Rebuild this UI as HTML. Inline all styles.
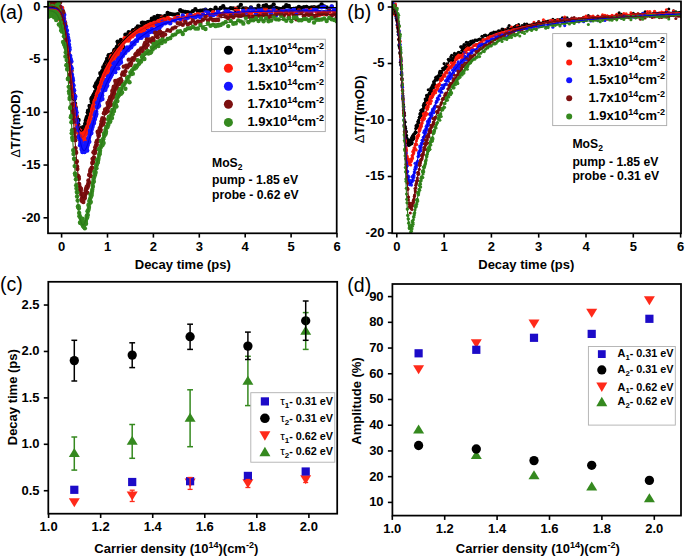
<!DOCTYPE html>
<html><head><meta charset="utf-8"><style>
html,body{margin:0;padding:0;background:#fff;}
svg{display:block;}
text{font-family:"Liberation Sans",sans-serif;fill:#000;}
</style></head><body>
<svg width="685" height="557" viewBox="0 0 685 557">
<rect width="685" height="557" fill="#fff"/>
<defs><clipPath id="ca"><rect x="48" y="1.5" width="288.7" height="231.8"/></clipPath><clipPath id="cb"><rect x="392.2" y="1.4" width="288.8" height="231.9"/></clipPath></defs>
<g clip-path="url(#ca)">
<g fill="#000000"><circle cx="47.83" cy="7.43" r="2.2"/><circle cx="48.13" cy="6.37" r="2.2"/><circle cx="48.43" cy="8.42" r="2.2"/><circle cx="48.73" cy="10.62" r="2.2"/><circle cx="49.02" cy="9.07" r="2.2"/><circle cx="49.32" cy="10.99" r="2.2"/><circle cx="49.62" cy="7.25" r="2.2"/><circle cx="49.92" cy="2.69" r="2.2"/><circle cx="50.22" cy="9.24" r="2.2"/><circle cx="50.52" cy="9.71" r="2.2"/><circle cx="50.81" cy="5.76" r="2.2"/><circle cx="51.11" cy="6.25" r="2.2"/><circle cx="51.41" cy="7.16" r="2.2"/><circle cx="51.71" cy="10.87" r="2.2"/><circle cx="52.01" cy="7.68" r="2.2"/><circle cx="52.31" cy="5.13" r="2.2"/><circle cx="52.6" cy="12.43" r="2.2"/><circle cx="52.9" cy="9.3" r="2.2"/><circle cx="53.2" cy="14.49" r="2.2"/><circle cx="53.5" cy="12.35" r="2.2"/><circle cx="53.8" cy="14.37" r="2.2"/><circle cx="54.1" cy="8.69" r="2.2"/><circle cx="54.39" cy="12.44" r="2.2"/><circle cx="54.69" cy="7.02" r="2.2"/><circle cx="54.99" cy="7.51" r="2.2"/><circle cx="55.29" cy="8.83" r="2.2"/><circle cx="55.59" cy="17.24" r="2.2"/><circle cx="55.89" cy="10.3" r="2.2"/><circle cx="56.18" cy="8.68" r="2.2"/><circle cx="56.48" cy="8.24" r="2.2"/><circle cx="56.78" cy="14.26" r="2.2"/><circle cx="57.08" cy="10.68" r="2.2"/><circle cx="57.38" cy="12.67" r="2.2"/><circle cx="57.68" cy="12.28" r="2.2"/><circle cx="57.97" cy="5.85" r="2.2"/><circle cx="58.27" cy="12.78" r="2.2"/><circle cx="58.57" cy="10.31" r="2.2"/><circle cx="58.87" cy="7.36" r="2.2"/><circle cx="59.17" cy="12.94" r="2.2"/><circle cx="59.47" cy="11.64" r="2.2"/><circle cx="59.76" cy="11.27" r="2.2"/><circle cx="60.06" cy="11.9" r="2.2"/><circle cx="60.36" cy="16.99" r="2.2"/><circle cx="60.66" cy="12.89" r="2.2"/><circle cx="60.96" cy="8.9" r="2.2"/><circle cx="61.26" cy="19.9" r="2.2"/><circle cx="61.55" cy="12.01" r="2.2"/><circle cx="61.85" cy="15.38" r="2.2"/><circle cx="62.15" cy="18.89" r="2.2"/><circle cx="62.45" cy="10.32" r="2.2"/><circle cx="62.75" cy="15.65" r="2.2"/><circle cx="63.05" cy="23.63" r="2.2"/><circle cx="63.34" cy="20.13" r="2.2"/><circle cx="63.64" cy="19.44" r="2.2"/><circle cx="63.94" cy="23.35" r="2.2"/><circle cx="64.24" cy="21.5" r="2.2"/><circle cx="64.54" cy="25.49" r="2.2"/><circle cx="64.84" cy="24.27" r="2.2"/><circle cx="65.13" cy="23" r="2.2"/><circle cx="65.43" cy="31.53" r="2.2"/><circle cx="65.73" cy="30.74" r="2.2"/><circle cx="66.03" cy="34.27" r="2.2"/><circle cx="66.33" cy="34.43" r="2.2"/><circle cx="66.63" cy="39.89" r="2.2"/><circle cx="66.92" cy="40.16" r="2.2"/><circle cx="67.22" cy="41.11" r="2.2"/><circle cx="67.52" cy="40.19" r="2.2"/><circle cx="67.82" cy="41.66" r="2.2"/><circle cx="68.12" cy="50.65" r="2.2"/><circle cx="68.42" cy="51.48" r="2.2"/><circle cx="68.71" cy="49.87" r="2.2"/><circle cx="69.01" cy="59.51" r="2.2"/><circle cx="69.31" cy="57.78" r="2.2"/><circle cx="69.61" cy="59.28" r="2.2"/><circle cx="69.91" cy="58.12" r="2.2"/><circle cx="70.21" cy="62.26" r="2.2"/><circle cx="70.5" cy="67.68" r="2.2"/><circle cx="70.8" cy="70.44" r="2.2"/><circle cx="71.1" cy="72.79" r="2.2"/><circle cx="71.4" cy="70.61" r="2.2"/><circle cx="71.7" cy="78.66" r="2.2"/><circle cx="72" cy="81.02" r="2.2"/><circle cx="72.29" cy="81.91" r="2.2"/><circle cx="72.59" cy="85.89" r="2.2"/><circle cx="72.89" cy="88.76" r="2.2"/><circle cx="73.19" cy="93.9" r="2.2"/><circle cx="73.49" cy="93.48" r="2.2"/><circle cx="73.79" cy="97.22" r="2.2"/><circle cx="74.08" cy="95.31" r="2.2"/><circle cx="74.38" cy="99.16" r="2.2"/><circle cx="74.68" cy="103.41" r="2.2"/><circle cx="74.98" cy="103.83" r="2.2"/><circle cx="75.28" cy="108.83" r="2.2"/><circle cx="75.58" cy="107.18" r="2.2"/><circle cx="75.87" cy="112.15" r="2.2"/><circle cx="76.17" cy="112.52" r="2.2"/><circle cx="76.47" cy="119.55" r="2.2"/><circle cx="76.77" cy="116.84" r="2.2"/><circle cx="77.07" cy="124.1" r="2.2"/><circle cx="77.37" cy="126.63" r="2.2"/><circle cx="77.67" cy="123.35" r="2.2"/><circle cx="77.96" cy="126.33" r="2.2"/><circle cx="78.26" cy="124.65" r="2.2"/><circle cx="78.56" cy="120.06" r="2.2"/><circle cx="78.86" cy="129.51" r="2.2"/><circle cx="79.16" cy="129.83" r="2.2"/><circle cx="79.46" cy="128.33" r="2.2"/><circle cx="79.75" cy="128.2" r="2.2"/><circle cx="80.05" cy="130.58" r="2.2"/><circle cx="80.35" cy="131.09" r="2.2"/><circle cx="80.65" cy="128.93" r="2.2"/><circle cx="80.95" cy="129.64" r="2.2"/><circle cx="81.25" cy="134.02" r="2.2"/><circle cx="81.54" cy="131.41" r="2.2"/><circle cx="81.84" cy="131.01" r="2.2"/><circle cx="82.14" cy="133.82" r="2.2"/><circle cx="82.44" cy="129.95" r="2.2"/><circle cx="82.74" cy="132.66" r="2.2"/><circle cx="83.04" cy="127.21" r="2.2"/><circle cx="83.33" cy="128.84" r="2.2"/><circle cx="83.63" cy="128.54" r="2.2"/><circle cx="83.93" cy="129.76" r="2.2"/><circle cx="84.23" cy="127.76" r="2.2"/><circle cx="84.53" cy="132.15" r="2.2"/><circle cx="84.83" cy="128.95" r="2.2"/><circle cx="85.12" cy="123.99" r="2.2"/><circle cx="85.42" cy="129.91" r="2.2"/><circle cx="85.72" cy="120.8" r="2.2"/><circle cx="86.02" cy="126.93" r="2.2"/><circle cx="86.32" cy="119.06" r="2.2"/><circle cx="86.62" cy="122.41" r="2.2"/><circle cx="86.91" cy="116.9" r="2.2"/><circle cx="87.21" cy="117.6" r="2.2"/><circle cx="87.51" cy="121.08" r="2.2"/><circle cx="87.81" cy="112.33" r="2.2"/><circle cx="88.11" cy="110.69" r="2.2"/><circle cx="88.41" cy="113.7" r="2.2"/><circle cx="88.7" cy="113.15" r="2.2"/><circle cx="89" cy="111.71" r="2.2"/><circle cx="89.3" cy="112.83" r="2.2"/><circle cx="89.6" cy="106.02" r="2.2"/><circle cx="89.9" cy="109.41" r="2.2"/><circle cx="90.2" cy="106.95" r="2.2"/><circle cx="90.49" cy="107.89" r="2.2"/><circle cx="90.79" cy="106.34" r="2.2"/><circle cx="91.09" cy="107.05" r="2.2"/><circle cx="91.39" cy="99.03" r="2.2"/><circle cx="91.69" cy="101.85" r="2.2"/><circle cx="91.99" cy="97.73" r="2.2"/><circle cx="92.28" cy="99.32" r="2.2"/><circle cx="92.58" cy="100.25" r="2.2"/><circle cx="92.88" cy="98.24" r="2.2"/><circle cx="93.18" cy="97.9" r="2.2"/><circle cx="93.48" cy="95.37" r="2.2"/><circle cx="93.78" cy="95.47" r="2.2"/><circle cx="94.07" cy="94.32" r="2.2"/><circle cx="94.37" cy="96.35" r="2.2"/><circle cx="94.67" cy="93.88" r="2.2"/><circle cx="94.97" cy="86.23" r="2.2"/><circle cx="95.27" cy="91.73" r="2.2"/><circle cx="95.57" cy="91.91" r="2.2"/><circle cx="95.86" cy="87.24" r="2.2"/><circle cx="96.16" cy="83.46" r="2.2"/><circle cx="96.46" cy="90.48" r="2.2"/><circle cx="96.76" cy="86.25" r="2.2"/><circle cx="97.06" cy="86.61" r="2.2"/><circle cx="97.36" cy="88.92" r="2.2"/><circle cx="97.65" cy="81.29" r="2.2"/><circle cx="97.95" cy="82.61" r="2.2"/><circle cx="98.25" cy="81.59" r="2.2"/><circle cx="98.55" cy="83.1" r="2.2"/><circle cx="98.85" cy="79.06" r="2.2"/><circle cx="99.15" cy="81.06" r="2.2"/><circle cx="99.44" cy="79.26" r="2.2"/><circle cx="99.74" cy="81.2" r="2.2"/><circle cx="100.04" cy="80.8" r="2.2"/><circle cx="100.34" cy="73.11" r="2.2"/><circle cx="100.64" cy="77.48" r="2.2"/><circle cx="100.94" cy="74.62" r="2.2"/><circle cx="101.23" cy="74.85" r="2.2"/><circle cx="101.53" cy="75.31" r="2.2"/><circle cx="101.83" cy="74.85" r="2.2"/><circle cx="102.13" cy="71.09" r="2.2"/><circle cx="102.43" cy="73.01" r="2.2"/><circle cx="102.73" cy="71.97" r="2.2"/><circle cx="103.02" cy="70.88" r="2.2"/><circle cx="103.32" cy="67.1" r="2.2"/><circle cx="103.62" cy="67.86" r="2.2"/><circle cx="103.92" cy="68.08" r="2.2"/><circle cx="104.22" cy="70.08" r="2.2"/><circle cx="104.52" cy="71.74" r="2.2"/><circle cx="104.81" cy="64.76" r="2.2"/><circle cx="105.11" cy="64.14" r="2.2"/><circle cx="105.41" cy="66.61" r="2.2"/><circle cx="105.71" cy="64.18" r="2.2"/><circle cx="106.01" cy="62.96" r="2.2"/><circle cx="106.31" cy="62.28" r="2.2"/><circle cx="106.6" cy="61.48" r="2.2"/><circle cx="106.9" cy="64.72" r="2.2"/><circle cx="107.2" cy="58.78" r="2.2"/><circle cx="107.5" cy="65.83" r="2.2"/><circle cx="107.8" cy="59.52" r="2.2"/><circle cx="108.1" cy="60.01" r="2.2"/><circle cx="108.4" cy="58.46" r="2.2"/><circle cx="108.69" cy="55.19" r="2.2"/><circle cx="108.99" cy="55.77" r="2.2"/><circle cx="109.29" cy="62.48" r="2.2"/><circle cx="109.59" cy="63.48" r="2.2"/><circle cx="109.89" cy="56.12" r="2.2"/><circle cx="110.19" cy="60.66" r="2.2"/><circle cx="110.48" cy="57.43" r="2.2"/><circle cx="110.78" cy="54.61" r="2.2"/><circle cx="111.08" cy="60.96" r="2.2"/><circle cx="111.38" cy="61.77" r="2.2"/><circle cx="111.68" cy="54.81" r="2.2"/><circle cx="111.98" cy="54.94" r="2.2"/><circle cx="112.27" cy="55.28" r="2.2"/><circle cx="112.57" cy="54.05" r="2.2"/><circle cx="112.87" cy="56.08" r="2.2"/><circle cx="113.17" cy="57.43" r="2.2"/><circle cx="113.47" cy="53.3" r="2.2"/><circle cx="113.77" cy="55.07" r="2.2"/><circle cx="114.06" cy="56.49" r="2.2"/><circle cx="114.36" cy="50.17" r="2.2"/><circle cx="114.66" cy="51.31" r="2.2"/><circle cx="114.96" cy="49.61" r="2.2"/><circle cx="115.26" cy="53.02" r="2.2"/><circle cx="115.56" cy="51.71" r="2.2"/><circle cx="115.85" cy="52.24" r="2.2"/><circle cx="116.15" cy="51.53" r="2.2"/><circle cx="116.45" cy="48.17" r="2.2"/><circle cx="116.75" cy="50.46" r="2.2"/><circle cx="117.05" cy="46.95" r="2.2"/><circle cx="117.35" cy="46.61" r="2.2"/><circle cx="117.64" cy="41.6" r="2.2"/><circle cx="117.94" cy="50.6" r="2.2"/><circle cx="118.24" cy="43.97" r="2.2"/><circle cx="118.54" cy="46.28" r="2.2"/><circle cx="118.84" cy="45.71" r="2.2"/><circle cx="119.14" cy="49.28" r="2.2"/><circle cx="119.43" cy="46.21" r="2.2"/><circle cx="119.73" cy="42.55" r="2.2"/><circle cx="120.03" cy="44.46" r="2.2"/><circle cx="120.33" cy="43.66" r="2.2"/><circle cx="120.63" cy="44.33" r="2.2"/><circle cx="120.93" cy="40.03" r="2.2"/><circle cx="121.22" cy="42.91" r="2.2"/><circle cx="121.27" cy="48.84" r="2.2"/><circle cx="122.1" cy="43.78" r="2.2"/><circle cx="122.92" cy="46.38" r="2.2"/><circle cx="123.75" cy="49.02" r="2.2"/><circle cx="124.57" cy="40.71" r="2.2"/><circle cx="125.4" cy="34.76" r="2.2"/><circle cx="126.23" cy="37.48" r="2.2"/><circle cx="127.05" cy="40.04" r="2.2"/><circle cx="127.88" cy="38.64" r="2.2"/><circle cx="128.71" cy="32.21" r="2.2"/><circle cx="129.53" cy="34.15" r="2.2"/><circle cx="130.36" cy="33.74" r="2.2"/><circle cx="131.18" cy="33.27" r="2.2"/><circle cx="132.01" cy="32.45" r="2.2"/><circle cx="132.84" cy="30.53" r="2.2"/><circle cx="133.66" cy="30.31" r="2.2"/><circle cx="134.49" cy="30.24" r="2.2"/><circle cx="135.32" cy="31.71" r="2.2"/><circle cx="136.14" cy="28.56" r="2.2"/><circle cx="136.97" cy="29.96" r="2.2"/><circle cx="137.79" cy="26.47" r="2.2"/><circle cx="138.62" cy="29.82" r="2.2"/><circle cx="139.45" cy="27.42" r="2.2"/><circle cx="140.27" cy="26.69" r="2.2"/><circle cx="141.1" cy="28.36" r="2.2"/><circle cx="141.93" cy="22.85" r="2.2"/><circle cx="142.75" cy="22.81" r="2.2"/><circle cx="143.58" cy="25.51" r="2.2"/><circle cx="144.4" cy="23.03" r="2.2"/><circle cx="145.23" cy="23.23" r="2.2"/><circle cx="146.06" cy="27.73" r="2.2"/><circle cx="146.88" cy="22.6" r="2.2"/><circle cx="147.71" cy="22.7" r="2.2"/><circle cx="148.53" cy="22.07" r="2.2"/><circle cx="149.36" cy="23.59" r="2.2"/><circle cx="150.19" cy="21.89" r="2.2"/><circle cx="151.01" cy="21.37" r="2.2"/><circle cx="151.84" cy="18.77" r="2.2"/><circle cx="152.67" cy="19.82" r="2.2"/><circle cx="153.49" cy="20.05" r="2.2"/><circle cx="154.32" cy="17.19" r="2.2"/><circle cx="155.14" cy="20.3" r="2.2"/><circle cx="155.97" cy="19.72" r="2.2"/><circle cx="156.8" cy="21.76" r="2.2"/><circle cx="157.62" cy="15.89" r="2.2"/><circle cx="158.45" cy="16.6" r="2.2"/><circle cx="159.28" cy="16.4" r="2.2"/><circle cx="160.1" cy="16.53" r="2.2"/><circle cx="160.93" cy="17.18" r="2.2"/><circle cx="161.75" cy="16.75" r="2.2"/><circle cx="162.58" cy="17.27" r="2.2"/><circle cx="162.58" cy="17.19" r="2.2"/><circle cx="165.1" cy="16.03" r="2.2"/><circle cx="167.63" cy="12.96" r="2.2"/><circle cx="170.15" cy="13.91" r="2.2"/><circle cx="172.68" cy="14.34" r="2.2"/><circle cx="175.2" cy="14.67" r="2.2"/><circle cx="177.73" cy="14.27" r="2.2"/><circle cx="180.25" cy="10.14" r="2.2"/><circle cx="182.78" cy="11.53" r="2.2"/><circle cx="185.3" cy="11.87" r="2.2"/><circle cx="187.83" cy="12.19" r="2.2"/><circle cx="190.35" cy="13.12" r="2.2"/><circle cx="192.87" cy="11.11" r="2.2"/><circle cx="195.4" cy="9.28" r="2.2"/><circle cx="197.92" cy="11.11" r="2.2"/><circle cx="200.45" cy="10.6" r="2.2"/><circle cx="202.97" cy="10.37" r="2.2"/><circle cx="205.5" cy="9.63" r="2.2"/><circle cx="208.02" cy="12.24" r="2.2"/><circle cx="210.55" cy="9.84" r="2.2"/><circle cx="213.07" cy="10.7" r="2.2"/><circle cx="215.59" cy="7.69" r="2.2"/><circle cx="218.12" cy="10.28" r="2.2"/><circle cx="220.64" cy="7.94" r="2.2"/><circle cx="223.17" cy="6.27" r="2.2"/><circle cx="225.69" cy="9.19" r="2.2"/><circle cx="228.22" cy="9.56" r="2.2"/><circle cx="230.74" cy="8.17" r="2.2"/><circle cx="233.27" cy="8.4" r="2.2"/><circle cx="235.79" cy="9.96" r="2.2"/><circle cx="238.32" cy="7.5" r="2.2"/><circle cx="240.84" cy="4.87" r="2.2"/><circle cx="243.36" cy="8.55" r="2.2"/><circle cx="245.89" cy="8.41" r="2.2"/><circle cx="248.41" cy="9.74" r="2.2"/><circle cx="250.94" cy="7.45" r="2.2"/><circle cx="253.46" cy="9.99" r="2.2"/><circle cx="255.99" cy="9.72" r="2.2"/><circle cx="258.51" cy="5.75" r="2.2"/><circle cx="261.04" cy="9.31" r="2.2"/><circle cx="263.56" cy="6.01" r="2.2"/><circle cx="266.08" cy="5.25" r="2.2"/><circle cx="268.61" cy="7.31" r="2.2"/><circle cx="271.13" cy="6.8" r="2.2"/><circle cx="273.66" cy="4.48" r="2.2"/><circle cx="276.18" cy="7.99" r="2.2"/><circle cx="278.71" cy="8.62" r="2.2"/><circle cx="281.23" cy="9.86" r="2.2"/><circle cx="283.76" cy="7.55" r="2.2"/><circle cx="286.28" cy="5.16" r="2.2"/><circle cx="288.81" cy="6.01" r="2.2"/><circle cx="291.33" cy="9.12" r="2.2"/><circle cx="293.85" cy="8.97" r="2.2"/><circle cx="296.38" cy="8.38" r="2.2"/><circle cx="298.9" cy="7.06" r="2.2"/><circle cx="301.43" cy="7.87" r="2.2"/><circle cx="303.95" cy="7.17" r="2.2"/><circle cx="306.48" cy="7.02" r="2.2"/><circle cx="309" cy="8" r="2.2"/><circle cx="311.53" cy="7.56" r="2.2"/><circle cx="314.05" cy="7.15" r="2.2"/><circle cx="316.57" cy="7.63" r="2.2"/><circle cx="319.1" cy="6.65" r="2.2"/><circle cx="321.62" cy="4.4" r="2.2"/><circle cx="324.15" cy="6.5" r="2.2"/><circle cx="326.67" cy="7.38" r="2.2"/><circle cx="329.2" cy="10.24" r="2.2"/><circle cx="331.72" cy="6.82" r="2.2"/><circle cx="334.25" cy="10.66" r="2.2"/><circle cx="336.77" cy="9.77" r="2.2"/></g>
<g fill="#ff1c0c"><circle cx="47.83" cy="5.54" r="2.2"/><circle cx="48.13" cy="6.07" r="2.2"/><circle cx="48.43" cy="9.13" r="2.2"/><circle cx="48.73" cy="14.69" r="2.2"/><circle cx="49.02" cy="9.92" r="2.2"/><circle cx="49.32" cy="11.02" r="2.2"/><circle cx="49.62" cy="6.34" r="2.2"/><circle cx="49.92" cy="0.56" r="2.2"/><circle cx="50.22" cy="7.85" r="2.2"/><circle cx="50.52" cy="11.41" r="2.2"/><circle cx="50.81" cy="12.81" r="2.2"/><circle cx="51.11" cy="8.85" r="2.2"/><circle cx="51.41" cy="9.29" r="2.2"/><circle cx="51.71" cy="12.78" r="2.2"/><circle cx="52.01" cy="8.28" r="2.2"/><circle cx="52.31" cy="12.82" r="2.2"/><circle cx="52.6" cy="4.77" r="2.2"/><circle cx="52.9" cy="4.97" r="2.2"/><circle cx="53.2" cy="4.92" r="2.2"/><circle cx="53.5" cy="10.52" r="2.2"/><circle cx="53.8" cy="7.03" r="2.2"/><circle cx="54.1" cy="9.38" r="2.2"/><circle cx="54.39" cy="10.35" r="2.2"/><circle cx="54.69" cy="10.23" r="2.2"/><circle cx="54.99" cy="13.72" r="2.2"/><circle cx="55.29" cy="14.31" r="2.2"/><circle cx="55.59" cy="6.42" r="2.2"/><circle cx="55.89" cy="10.03" r="2.2"/><circle cx="56.18" cy="8.68" r="2.2"/><circle cx="56.48" cy="6" r="2.2"/><circle cx="56.78" cy="15.89" r="2.2"/><circle cx="57.08" cy="12.66" r="2.2"/><circle cx="57.38" cy="9.41" r="2.2"/><circle cx="57.68" cy="8.83" r="2.2"/><circle cx="57.97" cy="11.78" r="2.2"/><circle cx="58.27" cy="7" r="2.2"/><circle cx="58.57" cy="10.18" r="2.2"/><circle cx="58.87" cy="15.55" r="2.2"/><circle cx="59.17" cy="14.86" r="2.2"/><circle cx="59.47" cy="9.02" r="2.2"/><circle cx="59.76" cy="10.62" r="2.2"/><circle cx="60.06" cy="19.46" r="2.2"/><circle cx="60.36" cy="8.35" r="2.2"/><circle cx="60.66" cy="11.52" r="2.2"/><circle cx="60.96" cy="9.41" r="2.2"/><circle cx="61.26" cy="16.16" r="2.2"/><circle cx="61.55" cy="16.49" r="2.2"/><circle cx="61.85" cy="20.15" r="2.2"/><circle cx="62.15" cy="7.84" r="2.2"/><circle cx="62.45" cy="18.33" r="2.2"/><circle cx="62.75" cy="12.91" r="2.2"/><circle cx="63.05" cy="21.82" r="2.2"/><circle cx="63.34" cy="19.93" r="2.2"/><circle cx="63.64" cy="27.55" r="2.2"/><circle cx="63.94" cy="24.09" r="2.2"/><circle cx="64.24" cy="20.44" r="2.2"/><circle cx="64.54" cy="29.7" r="2.2"/><circle cx="64.84" cy="22.78" r="2.2"/><circle cx="65.13" cy="26.84" r="2.2"/><circle cx="65.43" cy="32.43" r="2.2"/><circle cx="65.73" cy="32.55" r="2.2"/><circle cx="66.03" cy="34.11" r="2.2"/><circle cx="66.33" cy="34.75" r="2.2"/><circle cx="66.63" cy="37.93" r="2.2"/><circle cx="66.92" cy="40.65" r="2.2"/><circle cx="67.22" cy="41.22" r="2.2"/><circle cx="67.52" cy="45.28" r="2.2"/><circle cx="67.82" cy="48.16" r="2.2"/><circle cx="68.12" cy="46.98" r="2.2"/><circle cx="68.42" cy="46.72" r="2.2"/><circle cx="68.71" cy="55.7" r="2.2"/><circle cx="69.01" cy="53.93" r="2.2"/><circle cx="69.31" cy="58.21" r="2.2"/><circle cx="69.61" cy="61.65" r="2.2"/><circle cx="69.91" cy="59.22" r="2.2"/><circle cx="70.21" cy="65.62" r="2.2"/><circle cx="70.5" cy="62.76" r="2.2"/><circle cx="70.8" cy="71.72" r="2.2"/><circle cx="71.1" cy="71.26" r="2.2"/><circle cx="71.4" cy="75.7" r="2.2"/><circle cx="71.7" cy="79.92" r="2.2"/><circle cx="72" cy="79.02" r="2.2"/><circle cx="72.29" cy="83.83" r="2.2"/><circle cx="72.59" cy="84.52" r="2.2"/><circle cx="72.89" cy="89.07" r="2.2"/><circle cx="73.19" cy="94.65" r="2.2"/><circle cx="73.49" cy="94.66" r="2.2"/><circle cx="73.79" cy="96.9" r="2.2"/><circle cx="74.08" cy="97.05" r="2.2"/><circle cx="74.38" cy="104.74" r="2.2"/><circle cx="74.68" cy="104.88" r="2.2"/><circle cx="74.98" cy="111.95" r="2.2"/><circle cx="75.28" cy="107.83" r="2.2"/><circle cx="75.58" cy="114.89" r="2.2"/><circle cx="75.87" cy="119.11" r="2.2"/><circle cx="76.17" cy="116.47" r="2.2"/><circle cx="76.47" cy="115.33" r="2.2"/><circle cx="76.77" cy="124.5" r="2.2"/><circle cx="77.07" cy="125.17" r="2.2"/><circle cx="77.37" cy="125.98" r="2.2"/><circle cx="77.67" cy="128.7" r="2.2"/><circle cx="77.96" cy="126.1" r="2.2"/><circle cx="78.26" cy="130.8" r="2.2"/><circle cx="78.56" cy="131.89" r="2.2"/><circle cx="78.86" cy="129.53" r="2.2"/><circle cx="79.16" cy="134.31" r="2.2"/><circle cx="79.46" cy="132.05" r="2.2"/><circle cx="79.75" cy="136.78" r="2.2"/><circle cx="80.05" cy="138.22" r="2.2"/><circle cx="80.35" cy="140.6" r="2.2"/><circle cx="80.65" cy="131.02" r="2.2"/><circle cx="80.95" cy="137.45" r="2.2"/><circle cx="81.25" cy="136.26" r="2.2"/><circle cx="81.54" cy="137.27" r="2.2"/><circle cx="81.84" cy="136.9" r="2.2"/><circle cx="82.14" cy="137.27" r="2.2"/><circle cx="82.44" cy="132.14" r="2.2"/><circle cx="82.74" cy="140.11" r="2.2"/><circle cx="83.04" cy="141.34" r="2.2"/><circle cx="83.33" cy="139.57" r="2.2"/><circle cx="83.63" cy="140.11" r="2.2"/><circle cx="83.93" cy="133.98" r="2.2"/><circle cx="84.23" cy="133.3" r="2.2"/><circle cx="84.53" cy="137.64" r="2.2"/><circle cx="84.83" cy="138.21" r="2.2"/><circle cx="85.12" cy="134.71" r="2.2"/><circle cx="85.42" cy="129.21" r="2.2"/><circle cx="85.72" cy="140.01" r="2.2"/><circle cx="86.02" cy="130.03" r="2.2"/><circle cx="86.32" cy="133.59" r="2.2"/><circle cx="86.62" cy="126.92" r="2.2"/><circle cx="86.91" cy="131.82" r="2.2"/><circle cx="87.21" cy="128.72" r="2.2"/><circle cx="87.51" cy="131.11" r="2.2"/><circle cx="87.81" cy="128.68" r="2.2"/><circle cx="88.11" cy="121.2" r="2.2"/><circle cx="88.41" cy="121.74" r="2.2"/><circle cx="88.7" cy="124.06" r="2.2"/><circle cx="89" cy="124.3" r="2.2"/><circle cx="89.3" cy="126.06" r="2.2"/><circle cx="89.6" cy="120.89" r="2.2"/><circle cx="89.9" cy="118.83" r="2.2"/><circle cx="90.2" cy="117.9" r="2.2"/><circle cx="90.49" cy="116.86" r="2.2"/><circle cx="90.79" cy="118.61" r="2.2"/><circle cx="91.09" cy="114.64" r="2.2"/><circle cx="91.39" cy="113.5" r="2.2"/><circle cx="91.69" cy="108.79" r="2.2"/><circle cx="91.99" cy="106.14" r="2.2"/><circle cx="92.28" cy="110.58" r="2.2"/><circle cx="92.58" cy="111.26" r="2.2"/><circle cx="92.88" cy="108.29" r="2.2"/><circle cx="93.18" cy="108.74" r="2.2"/><circle cx="93.48" cy="108.08" r="2.2"/><circle cx="93.78" cy="105.18" r="2.2"/><circle cx="94.07" cy="106.87" r="2.2"/><circle cx="94.37" cy="101.34" r="2.2"/><circle cx="94.67" cy="102.29" r="2.2"/><circle cx="94.97" cy="100.34" r="2.2"/><circle cx="95.27" cy="100.55" r="2.2"/><circle cx="95.57" cy="101.07" r="2.2"/><circle cx="95.86" cy="100.72" r="2.2"/><circle cx="96.16" cy="97.82" r="2.2"/><circle cx="96.46" cy="97.74" r="2.2"/><circle cx="96.76" cy="94.67" r="2.2"/><circle cx="97.06" cy="94.41" r="2.2"/><circle cx="97.36" cy="97.23" r="2.2"/><circle cx="97.65" cy="92.41" r="2.2"/><circle cx="97.95" cy="95.39" r="2.2"/><circle cx="98.25" cy="92.52" r="2.2"/><circle cx="98.55" cy="90.77" r="2.2"/><circle cx="98.85" cy="94.8" r="2.2"/><circle cx="99.15" cy="88.02" r="2.2"/><circle cx="99.44" cy="87.02" r="2.2"/><circle cx="99.74" cy="87.04" r="2.2"/><circle cx="100.04" cy="86.95" r="2.2"/><circle cx="100.34" cy="86.01" r="2.2"/><circle cx="100.64" cy="86.86" r="2.2"/><circle cx="100.94" cy="84.14" r="2.2"/><circle cx="101.23" cy="84.14" r="2.2"/><circle cx="101.53" cy="81.6" r="2.2"/><circle cx="101.83" cy="84.39" r="2.2"/><circle cx="102.13" cy="79.69" r="2.2"/><circle cx="102.43" cy="79.21" r="2.2"/><circle cx="102.73" cy="79.25" r="2.2"/><circle cx="103.02" cy="79.35" r="2.2"/><circle cx="103.32" cy="75.91" r="2.2"/><circle cx="103.62" cy="81.28" r="2.2"/><circle cx="103.92" cy="74.75" r="2.2"/><circle cx="104.22" cy="74.66" r="2.2"/><circle cx="104.52" cy="73.87" r="2.2"/><circle cx="104.81" cy="72.92" r="2.2"/><circle cx="105.11" cy="75.1" r="2.2"/><circle cx="105.41" cy="73.36" r="2.2"/><circle cx="105.71" cy="70.25" r="2.2"/><circle cx="106.01" cy="70.17" r="2.2"/><circle cx="106.31" cy="70.15" r="2.2"/><circle cx="106.6" cy="74.24" r="2.2"/><circle cx="106.9" cy="67.99" r="2.2"/><circle cx="107.2" cy="65.64" r="2.2"/><circle cx="107.5" cy="65.47" r="2.2"/><circle cx="107.8" cy="67" r="2.2"/><circle cx="108.1" cy="71.32" r="2.2"/><circle cx="108.4" cy="63.88" r="2.2"/><circle cx="108.69" cy="66.29" r="2.2"/><circle cx="108.99" cy="72.26" r="2.2"/><circle cx="109.29" cy="63.71" r="2.2"/><circle cx="109.59" cy="68.28" r="2.2"/><circle cx="109.89" cy="67.19" r="2.2"/><circle cx="110.19" cy="64.83" r="2.2"/><circle cx="110.48" cy="59.06" r="2.2"/><circle cx="110.78" cy="63.04" r="2.2"/><circle cx="111.08" cy="60.75" r="2.2"/><circle cx="111.38" cy="56.18" r="2.2"/><circle cx="111.68" cy="56.08" r="2.2"/><circle cx="111.98" cy="60.23" r="2.2"/><circle cx="112.27" cy="60.11" r="2.2"/><circle cx="112.57" cy="62.4" r="2.2"/><circle cx="112.87" cy="60.36" r="2.2"/><circle cx="113.17" cy="56.8" r="2.2"/><circle cx="113.47" cy="56.4" r="2.2"/><circle cx="113.77" cy="56.71" r="2.2"/><circle cx="114.06" cy="53.81" r="2.2"/><circle cx="114.36" cy="58.2" r="2.2"/><circle cx="114.66" cy="55.77" r="2.2"/><circle cx="114.96" cy="53.16" r="2.2"/><circle cx="115.26" cy="53.11" r="2.2"/><circle cx="115.56" cy="51.34" r="2.2"/><circle cx="115.85" cy="52.75" r="2.2"/><circle cx="116.15" cy="54.25" r="2.2"/><circle cx="116.45" cy="51.98" r="2.2"/><circle cx="116.75" cy="55.3" r="2.2"/><circle cx="117.05" cy="56.63" r="2.2"/><circle cx="117.35" cy="50.12" r="2.2"/><circle cx="117.64" cy="51.46" r="2.2"/><circle cx="117.94" cy="50.06" r="2.2"/><circle cx="118.24" cy="55.16" r="2.2"/><circle cx="118.54" cy="51.11" r="2.2"/><circle cx="118.84" cy="51.36" r="2.2"/><circle cx="119.14" cy="51.7" r="2.2"/><circle cx="119.43" cy="55.13" r="2.2"/><circle cx="119.73" cy="49.49" r="2.2"/><circle cx="120.03" cy="45.73" r="2.2"/><circle cx="120.33" cy="46.78" r="2.2"/><circle cx="120.63" cy="49.11" r="2.2"/><circle cx="120.93" cy="47.14" r="2.2"/><circle cx="121.22" cy="44.66" r="2.2"/><circle cx="121.27" cy="54.26" r="2.2"/><circle cx="122.1" cy="46.06" r="2.2"/><circle cx="122.92" cy="43.29" r="2.2"/><circle cx="123.75" cy="42" r="2.2"/><circle cx="124.57" cy="38.32" r="2.2"/><circle cx="125.4" cy="39.02" r="2.2"/><circle cx="126.23" cy="40.44" r="2.2"/><circle cx="127.05" cy="39.67" r="2.2"/><circle cx="127.88" cy="37.56" r="2.2"/><circle cx="128.71" cy="40.44" r="2.2"/><circle cx="129.53" cy="38.33" r="2.2"/><circle cx="130.36" cy="35.02" r="2.2"/><circle cx="131.18" cy="33.6" r="2.2"/><circle cx="132.01" cy="36.41" r="2.2"/><circle cx="132.84" cy="35.57" r="2.2"/><circle cx="133.66" cy="34.53" r="2.2"/><circle cx="134.49" cy="32.04" r="2.2"/><circle cx="135.32" cy="33.7" r="2.2"/><circle cx="136.14" cy="30.65" r="2.2"/><circle cx="136.97" cy="34.1" r="2.2"/><circle cx="137.79" cy="32.27" r="2.2"/><circle cx="138.62" cy="31.76" r="2.2"/><circle cx="139.45" cy="29.62" r="2.2"/><circle cx="140.27" cy="28.7" r="2.2"/><circle cx="141.1" cy="32.42" r="2.2"/><circle cx="141.93" cy="30.97" r="2.2"/><circle cx="142.75" cy="28.45" r="2.2"/><circle cx="143.58" cy="29.64" r="2.2"/><circle cx="144.4" cy="30.63" r="2.2"/><circle cx="145.23" cy="25.99" r="2.2"/><circle cx="146.06" cy="26.48" r="2.2"/><circle cx="146.88" cy="26.08" r="2.2"/><circle cx="147.71" cy="27.29" r="2.2"/><circle cx="148.53" cy="24.44" r="2.2"/><circle cx="149.36" cy="26.16" r="2.2"/><circle cx="150.19" cy="23.61" r="2.2"/><circle cx="151.01" cy="26.57" r="2.2"/><circle cx="151.84" cy="26.14" r="2.2"/><circle cx="152.67" cy="24.07" r="2.2"/><circle cx="153.49" cy="25.24" r="2.2"/><circle cx="154.32" cy="22.67" r="2.2"/><circle cx="155.14" cy="23.05" r="2.2"/><circle cx="155.97" cy="24.7" r="2.2"/><circle cx="156.8" cy="22.78" r="2.2"/><circle cx="157.62" cy="23.2" r="2.2"/><circle cx="158.45" cy="20.85" r="2.2"/><circle cx="159.28" cy="23.13" r="2.2"/><circle cx="160.1" cy="22.56" r="2.2"/><circle cx="160.93" cy="19.6" r="2.2"/><circle cx="161.75" cy="17.66" r="2.2"/><circle cx="162.58" cy="17.82" r="2.2"/><circle cx="162.58" cy="21.01" r="2.2"/><circle cx="165.1" cy="20.07" r="2.2"/><circle cx="167.63" cy="17.28" r="2.2"/><circle cx="170.15" cy="19.43" r="2.2"/><circle cx="172.68" cy="20.3" r="2.2"/><circle cx="175.2" cy="18" r="2.2"/><circle cx="177.73" cy="17" r="2.2"/><circle cx="180.25" cy="18.68" r="2.2"/><circle cx="182.78" cy="19.64" r="2.2"/><circle cx="185.3" cy="18.93" r="2.2"/><circle cx="187.83" cy="15.14" r="2.2"/><circle cx="190.35" cy="17.17" r="2.2"/><circle cx="192.87" cy="15.87" r="2.2"/><circle cx="195.4" cy="15.02" r="2.2"/><circle cx="197.92" cy="14.1" r="2.2"/><circle cx="200.45" cy="15.45" r="2.2"/><circle cx="202.97" cy="13.86" r="2.2"/><circle cx="205.5" cy="15.95" r="2.2"/><circle cx="208.02" cy="14.9" r="2.2"/><circle cx="210.55" cy="15.82" r="2.2"/><circle cx="213.07" cy="12.11" r="2.2"/><circle cx="215.59" cy="13.87" r="2.2"/><circle cx="218.12" cy="14.9" r="2.2"/><circle cx="220.64" cy="14.14" r="2.2"/><circle cx="223.17" cy="13.8" r="2.2"/><circle cx="225.69" cy="12.18" r="2.2"/><circle cx="228.22" cy="15.85" r="2.2"/><circle cx="230.74" cy="14.84" r="2.2"/><circle cx="233.27" cy="13.66" r="2.2"/><circle cx="235.79" cy="8.79" r="2.2"/><circle cx="238.32" cy="11.31" r="2.2"/><circle cx="240.84" cy="12.99" r="2.2"/><circle cx="243.36" cy="11.57" r="2.2"/><circle cx="245.89" cy="9.29" r="2.2"/><circle cx="248.41" cy="13" r="2.2"/><circle cx="250.94" cy="13.17" r="2.2"/><circle cx="253.46" cy="10.52" r="2.2"/><circle cx="255.99" cy="11.65" r="2.2"/><circle cx="258.51" cy="11.32" r="2.2"/><circle cx="261.04" cy="13.21" r="2.2"/><circle cx="263.56" cy="9.17" r="2.2"/><circle cx="266.08" cy="9.49" r="2.2"/><circle cx="268.61" cy="11.34" r="2.2"/><circle cx="271.13" cy="11.11" r="2.2"/><circle cx="273.66" cy="15.55" r="2.2"/><circle cx="276.18" cy="11.13" r="2.2"/><circle cx="278.71" cy="12.47" r="2.2"/><circle cx="281.23" cy="11.42" r="2.2"/><circle cx="283.76" cy="10.99" r="2.2"/><circle cx="286.28" cy="12.65" r="2.2"/><circle cx="288.81" cy="14.85" r="2.2"/><circle cx="291.33" cy="11.44" r="2.2"/><circle cx="293.85" cy="13.25" r="2.2"/><circle cx="296.38" cy="12.56" r="2.2"/><circle cx="298.9" cy="13" r="2.2"/><circle cx="301.43" cy="12.55" r="2.2"/><circle cx="303.95" cy="15.78" r="2.2"/><circle cx="306.48" cy="9.96" r="2.2"/><circle cx="309" cy="11.53" r="2.2"/><circle cx="311.53" cy="10.11" r="2.2"/><circle cx="314.05" cy="8.67" r="2.2"/><circle cx="316.57" cy="11.88" r="2.2"/><circle cx="319.1" cy="14.88" r="2.2"/><circle cx="321.62" cy="13.38" r="2.2"/><circle cx="324.15" cy="13.88" r="2.2"/><circle cx="326.67" cy="12.72" r="2.2"/><circle cx="329.2" cy="11.75" r="2.2"/><circle cx="331.72" cy="15.17" r="2.2"/><circle cx="334.25" cy="11.31" r="2.2"/><circle cx="336.77" cy="14.35" r="2.2"/></g>
<g fill="#1414ff"><circle cx="47.83" cy="6.78" r="2.2"/><circle cx="48.13" cy="8.24" r="2.2"/><circle cx="48.43" cy="8.97" r="2.2"/><circle cx="48.73" cy="8.11" r="2.2"/><circle cx="49.02" cy="9.78" r="2.2"/><circle cx="49.32" cy="10.05" r="2.2"/><circle cx="49.62" cy="13.87" r="2.2"/><circle cx="49.92" cy="7.98" r="2.2"/><circle cx="50.22" cy="1.3" r="2.2"/><circle cx="50.52" cy="0.83" r="2.2"/><circle cx="50.81" cy="3.18" r="2.2"/><circle cx="51.11" cy="5.39" r="2.2"/><circle cx="51.41" cy="10.33" r="2.2"/><circle cx="51.71" cy="2.79" r="2.2"/><circle cx="52.01" cy="8.15" r="2.2"/><circle cx="52.31" cy="8.22" r="2.2"/><circle cx="52.6" cy="9.03" r="2.2"/><circle cx="52.9" cy="7.69" r="2.2"/><circle cx="53.2" cy="9.6" r="2.2"/><circle cx="53.5" cy="8.38" r="2.2"/><circle cx="53.8" cy="11.98" r="2.2"/><circle cx="54.1" cy="9.49" r="2.2"/><circle cx="54.39" cy="0.07" r="2.2"/><circle cx="54.69" cy="8.5" r="2.2"/><circle cx="54.99" cy="9.16" r="2.2"/><circle cx="55.29" cy="6.48" r="2.2"/><circle cx="55.59" cy="5.92" r="2.2"/><circle cx="55.89" cy="12.5" r="2.2"/><circle cx="56.18" cy="9.36" r="2.2"/><circle cx="56.48" cy="5.45" r="2.2"/><circle cx="56.78" cy="7.88" r="2.2"/><circle cx="57.08" cy="8.53" r="2.2"/><circle cx="57.38" cy="3.57" r="2.2"/><circle cx="57.68" cy="11.68" r="2.2"/><circle cx="57.97" cy="9.15" r="2.2"/><circle cx="58.27" cy="11.49" r="2.2"/><circle cx="58.57" cy="4.53" r="2.2"/><circle cx="58.87" cy="17.04" r="2.2"/><circle cx="59.17" cy="12.73" r="2.2"/><circle cx="59.47" cy="12.51" r="2.2"/><circle cx="59.76" cy="8.56" r="2.2"/><circle cx="60.06" cy="9.11" r="2.2"/><circle cx="60.36" cy="6.66" r="2.2"/><circle cx="60.66" cy="17.65" r="2.2"/><circle cx="60.96" cy="9.8" r="2.2"/><circle cx="61.26" cy="14" r="2.2"/><circle cx="61.55" cy="15.84" r="2.2"/><circle cx="61.85" cy="12.1" r="2.2"/><circle cx="62.15" cy="17.91" r="2.2"/><circle cx="62.45" cy="22.68" r="2.2"/><circle cx="62.75" cy="17.3" r="2.2"/><circle cx="63.05" cy="22.07" r="2.2"/><circle cx="63.34" cy="19.85" r="2.2"/><circle cx="63.64" cy="17.08" r="2.2"/><circle cx="63.94" cy="18.21" r="2.2"/><circle cx="64.24" cy="14.65" r="2.2"/><circle cx="64.54" cy="22.08" r="2.2"/><circle cx="64.84" cy="27.95" r="2.2"/><circle cx="65.13" cy="26.36" r="2.2"/><circle cx="65.43" cy="27.45" r="2.2"/><circle cx="65.73" cy="29.59" r="2.2"/><circle cx="66.03" cy="26.46" r="2.2"/><circle cx="66.33" cy="30.9" r="2.2"/><circle cx="66.63" cy="36.11" r="2.2"/><circle cx="66.92" cy="30.41" r="2.2"/><circle cx="67.22" cy="34.34" r="2.2"/><circle cx="67.52" cy="34.85" r="2.2"/><circle cx="67.82" cy="37.4" r="2.2"/><circle cx="68.12" cy="37.91" r="2.2"/><circle cx="68.42" cy="41.56" r="2.2"/><circle cx="68.71" cy="40.38" r="2.2"/><circle cx="69.01" cy="44.79" r="2.2"/><circle cx="69.31" cy="47.13" r="2.2"/><circle cx="69.61" cy="49.41" r="2.2"/><circle cx="69.91" cy="56.93" r="2.2"/><circle cx="70.21" cy="55.85" r="2.2"/><circle cx="70.5" cy="58.64" r="2.2"/><circle cx="70.8" cy="59.95" r="2.2"/><circle cx="71.1" cy="66.9" r="2.2"/><circle cx="71.4" cy="61.39" r="2.2"/><circle cx="71.7" cy="68.34" r="2.2"/><circle cx="72" cy="74.74" r="2.2"/><circle cx="72.29" cy="78.94" r="2.2"/><circle cx="72.59" cy="77.89" r="2.2"/><circle cx="72.89" cy="80.26" r="2.2"/><circle cx="73.19" cy="84.89" r="2.2"/><circle cx="73.49" cy="85.6" r="2.2"/><circle cx="73.79" cy="90.54" r="2.2"/><circle cx="74.08" cy="90.21" r="2.2"/><circle cx="74.38" cy="96.64" r="2.2"/><circle cx="74.68" cy="97.67" r="2.2"/><circle cx="74.98" cy="97.78" r="2.2"/><circle cx="75.28" cy="96.28" r="2.2"/><circle cx="75.58" cy="108.94" r="2.2"/><circle cx="75.87" cy="110.24" r="2.2"/><circle cx="76.17" cy="114.02" r="2.2"/><circle cx="76.47" cy="112.26" r="2.2"/><circle cx="76.77" cy="120.19" r="2.2"/><circle cx="77.07" cy="120.93" r="2.2"/><circle cx="77.37" cy="122.17" r="2.2"/><circle cx="77.67" cy="127.19" r="2.2"/><circle cx="77.96" cy="129.45" r="2.2"/><circle cx="78.26" cy="130.36" r="2.2"/><circle cx="78.56" cy="136.96" r="2.2"/><circle cx="78.86" cy="137.2" r="2.2"/><circle cx="79.16" cy="136.3" r="2.2"/><circle cx="79.46" cy="136.59" r="2.2"/><circle cx="79.75" cy="139.22" r="2.2"/><circle cx="80.05" cy="145.18" r="2.2"/><circle cx="80.35" cy="143.08" r="2.2"/><circle cx="80.65" cy="140.98" r="2.2"/><circle cx="80.95" cy="142.9" r="2.2"/><circle cx="81.25" cy="145.77" r="2.2"/><circle cx="81.54" cy="149" r="2.2"/><circle cx="81.84" cy="145.73" r="2.2"/><circle cx="82.14" cy="149.83" r="2.2"/><circle cx="82.44" cy="152.1" r="2.2"/><circle cx="82.74" cy="151.64" r="2.2"/><circle cx="83.04" cy="145.89" r="2.2"/><circle cx="83.33" cy="149.57" r="2.2"/><circle cx="83.63" cy="147.2" r="2.2"/><circle cx="83.93" cy="151.8" r="2.2"/><circle cx="84.23" cy="147.91" r="2.2"/><circle cx="84.53" cy="152.03" r="2.2"/><circle cx="84.83" cy="150.61" r="2.2"/><circle cx="85.12" cy="143.07" r="2.2"/><circle cx="85.42" cy="147.41" r="2.2"/><circle cx="85.72" cy="150.42" r="2.2"/><circle cx="86.02" cy="148.74" r="2.2"/><circle cx="86.32" cy="147" r="2.2"/><circle cx="86.62" cy="143.89" r="2.2"/><circle cx="86.91" cy="147.81" r="2.2"/><circle cx="87.21" cy="150.44" r="2.2"/><circle cx="87.51" cy="145.56" r="2.2"/><circle cx="87.81" cy="143.84" r="2.2"/><circle cx="88.11" cy="142.62" r="2.2"/><circle cx="88.41" cy="138.31" r="2.2"/><circle cx="88.7" cy="140.02" r="2.2"/><circle cx="89" cy="137.58" r="2.2"/><circle cx="89.3" cy="141.73" r="2.2"/><circle cx="89.6" cy="135.2" r="2.2"/><circle cx="89.9" cy="130.69" r="2.2"/><circle cx="90.2" cy="133.15" r="2.2"/><circle cx="90.49" cy="133.4" r="2.2"/><circle cx="90.79" cy="132.48" r="2.2"/><circle cx="91.09" cy="126.8" r="2.2"/><circle cx="91.39" cy="133.04" r="2.2"/><circle cx="91.69" cy="129.59" r="2.2"/><circle cx="91.99" cy="126.81" r="2.2"/><circle cx="92.28" cy="124.83" r="2.2"/><circle cx="92.58" cy="126.86" r="2.2"/><circle cx="92.88" cy="123.62" r="2.2"/><circle cx="93.18" cy="124.04" r="2.2"/><circle cx="93.48" cy="121.76" r="2.2"/><circle cx="93.78" cy="121.28" r="2.2"/><circle cx="94.07" cy="122.89" r="2.2"/><circle cx="94.37" cy="118.67" r="2.2"/><circle cx="94.67" cy="115.07" r="2.2"/><circle cx="94.97" cy="119.01" r="2.2"/><circle cx="95.27" cy="115.91" r="2.2"/><circle cx="95.57" cy="112.33" r="2.2"/><circle cx="95.86" cy="116.01" r="2.2"/><circle cx="96.16" cy="111.51" r="2.2"/><circle cx="96.46" cy="113.88" r="2.2"/><circle cx="96.76" cy="106.82" r="2.2"/><circle cx="97.06" cy="102.58" r="2.2"/><circle cx="97.36" cy="102.38" r="2.2"/><circle cx="97.65" cy="107.54" r="2.2"/><circle cx="97.95" cy="103.94" r="2.2"/><circle cx="98.25" cy="104.69" r="2.2"/><circle cx="98.55" cy="103.8" r="2.2"/><circle cx="98.85" cy="98.91" r="2.2"/><circle cx="99.15" cy="105.87" r="2.2"/><circle cx="99.44" cy="98.46" r="2.2"/><circle cx="99.74" cy="100.61" r="2.2"/><circle cx="100.04" cy="95.74" r="2.2"/><circle cx="100.34" cy="98.24" r="2.2"/><circle cx="100.64" cy="99.76" r="2.2"/><circle cx="100.94" cy="96.32" r="2.2"/><circle cx="101.23" cy="94.25" r="2.2"/><circle cx="101.53" cy="95.36" r="2.2"/><circle cx="101.83" cy="93.33" r="2.2"/><circle cx="102.13" cy="95.31" r="2.2"/><circle cx="102.43" cy="98.96" r="2.2"/><circle cx="102.73" cy="89.88" r="2.2"/><circle cx="103.02" cy="89.68" r="2.2"/><circle cx="103.32" cy="90.45" r="2.2"/><circle cx="103.62" cy="89.93" r="2.2"/><circle cx="103.92" cy="86.55" r="2.2"/><circle cx="104.22" cy="89.93" r="2.2"/><circle cx="104.52" cy="89.91" r="2.2"/><circle cx="104.81" cy="87.79" r="2.2"/><circle cx="105.11" cy="83.32" r="2.2"/><circle cx="105.41" cy="89.7" r="2.2"/><circle cx="105.71" cy="81.95" r="2.2"/><circle cx="106.01" cy="86.31" r="2.2"/><circle cx="106.31" cy="86.91" r="2.2"/><circle cx="106.6" cy="79.78" r="2.2"/><circle cx="106.9" cy="82.86" r="2.2"/><circle cx="107.2" cy="85.52" r="2.2"/><circle cx="107.5" cy="82.3" r="2.2"/><circle cx="107.8" cy="78.14" r="2.2"/><circle cx="108.1" cy="76.8" r="2.2"/><circle cx="108.4" cy="80.63" r="2.2"/><circle cx="108.69" cy="77.73" r="2.2"/><circle cx="108.99" cy="76.28" r="2.2"/><circle cx="109.29" cy="79.41" r="2.2"/><circle cx="109.59" cy="76.08" r="2.2"/><circle cx="109.89" cy="76.55" r="2.2"/><circle cx="110.19" cy="77.36" r="2.2"/><circle cx="110.48" cy="76.66" r="2.2"/><circle cx="110.78" cy="74.56" r="2.2"/><circle cx="111.08" cy="74.09" r="2.2"/><circle cx="111.38" cy="75.17" r="2.2"/><circle cx="111.68" cy="74.23" r="2.2"/><circle cx="111.98" cy="69.46" r="2.2"/><circle cx="112.27" cy="71.38" r="2.2"/><circle cx="112.57" cy="69" r="2.2"/><circle cx="112.87" cy="67.6" r="2.2"/><circle cx="113.17" cy="68.75" r="2.2"/><circle cx="113.47" cy="63.61" r="2.2"/><circle cx="113.77" cy="71.58" r="2.2"/><circle cx="114.06" cy="66.59" r="2.2"/><circle cx="114.36" cy="69.17" r="2.2"/><circle cx="114.66" cy="62.7" r="2.2"/><circle cx="114.96" cy="62.62" r="2.2"/><circle cx="115.26" cy="72.15" r="2.2"/><circle cx="115.56" cy="68.95" r="2.2"/><circle cx="115.85" cy="63.98" r="2.2"/><circle cx="116.15" cy="63.15" r="2.2"/><circle cx="116.45" cy="62.82" r="2.2"/><circle cx="116.75" cy="64.56" r="2.2"/><circle cx="117.05" cy="62.65" r="2.2"/><circle cx="117.35" cy="61.64" r="2.2"/><circle cx="117.64" cy="63.18" r="2.2"/><circle cx="117.94" cy="59.69" r="2.2"/><circle cx="118.24" cy="68.25" r="2.2"/><circle cx="118.54" cy="59.86" r="2.2"/><circle cx="118.84" cy="63.99" r="2.2"/><circle cx="119.14" cy="58.08" r="2.2"/><circle cx="119.43" cy="60.89" r="2.2"/><circle cx="119.73" cy="62.27" r="2.2"/><circle cx="120.03" cy="58.37" r="2.2"/><circle cx="120.33" cy="61.47" r="2.2"/><circle cx="120.63" cy="61.05" r="2.2"/><circle cx="120.93" cy="62.43" r="2.2"/><circle cx="121.22" cy="57.78" r="2.2"/><circle cx="121.27" cy="56.28" r="2.2"/><circle cx="122.1" cy="53.71" r="2.2"/><circle cx="122.92" cy="55.79" r="2.2"/><circle cx="123.75" cy="51.45" r="2.2"/><circle cx="124.57" cy="53.22" r="2.2"/><circle cx="125.4" cy="52.5" r="2.2"/><circle cx="126.23" cy="49.67" r="2.2"/><circle cx="127.05" cy="47.36" r="2.2"/><circle cx="127.88" cy="50.24" r="2.2"/><circle cx="128.71" cy="49.04" r="2.2"/><circle cx="129.53" cy="47.9" r="2.2"/><circle cx="130.36" cy="46.35" r="2.2"/><circle cx="131.18" cy="47.19" r="2.2"/><circle cx="132.01" cy="43.17" r="2.2"/><circle cx="132.84" cy="44.69" r="2.2"/><circle cx="133.66" cy="42.47" r="2.2"/><circle cx="134.49" cy="43.8" r="2.2"/><circle cx="135.32" cy="41.09" r="2.2"/><circle cx="136.14" cy="40.28" r="2.2"/><circle cx="136.97" cy="40.89" r="2.2"/><circle cx="137.79" cy="36.16" r="2.2"/><circle cx="138.62" cy="38.18" r="2.2"/><circle cx="139.45" cy="35.18" r="2.2"/><circle cx="140.27" cy="35.87" r="2.2"/><circle cx="141.1" cy="37.89" r="2.2"/><circle cx="141.93" cy="36.8" r="2.2"/><circle cx="142.75" cy="34.83" r="2.2"/><circle cx="143.58" cy="34.85" r="2.2"/><circle cx="144.4" cy="34.28" r="2.2"/><circle cx="145.23" cy="34.26" r="2.2"/><circle cx="146.06" cy="36.21" r="2.2"/><circle cx="146.88" cy="33.06" r="2.2"/><circle cx="147.71" cy="35.8" r="2.2"/><circle cx="148.53" cy="31.02" r="2.2"/><circle cx="149.36" cy="32.32" r="2.2"/><circle cx="150.19" cy="31.81" r="2.2"/><circle cx="151.01" cy="30.51" r="2.2"/><circle cx="151.84" cy="29.23" r="2.2"/><circle cx="152.67" cy="31.58" r="2.2"/><circle cx="153.49" cy="31.65" r="2.2"/><circle cx="154.32" cy="30.09" r="2.2"/><circle cx="155.14" cy="31.27" r="2.2"/><circle cx="155.97" cy="29.08" r="2.2"/><circle cx="156.8" cy="24.46" r="2.2"/><circle cx="157.62" cy="28.42" r="2.2"/><circle cx="158.45" cy="25.22" r="2.2"/><circle cx="159.28" cy="28.18" r="2.2"/><circle cx="160.1" cy="25.06" r="2.2"/><circle cx="160.93" cy="25.72" r="2.2"/><circle cx="161.75" cy="24.94" r="2.2"/><circle cx="162.58" cy="23.56" r="2.2"/><circle cx="162.58" cy="21.6" r="2.2"/><circle cx="165.1" cy="23.18" r="2.2"/><circle cx="167.63" cy="22.37" r="2.2"/><circle cx="170.15" cy="23.31" r="2.2"/><circle cx="172.68" cy="19.95" r="2.2"/><circle cx="175.2" cy="20.58" r="2.2"/><circle cx="177.73" cy="18.12" r="2.2"/><circle cx="180.25" cy="18.92" r="2.2"/><circle cx="182.78" cy="15.39" r="2.2"/><circle cx="185.3" cy="20.97" r="2.2"/><circle cx="187.83" cy="17.68" r="2.2"/><circle cx="190.35" cy="15.27" r="2.2"/><circle cx="192.87" cy="16.86" r="2.2"/><circle cx="195.4" cy="17.18" r="2.2"/><circle cx="197.92" cy="15.93" r="2.2"/><circle cx="200.45" cy="17.42" r="2.2"/><circle cx="202.97" cy="14.62" r="2.2"/><circle cx="205.5" cy="10.5" r="2.2"/><circle cx="208.02" cy="12.35" r="2.2"/><circle cx="210.55" cy="15.8" r="2.2"/><circle cx="213.07" cy="15.17" r="2.2"/><circle cx="215.59" cy="14.17" r="2.2"/><circle cx="218.12" cy="11.65" r="2.2"/><circle cx="220.64" cy="14.46" r="2.2"/><circle cx="223.17" cy="14.06" r="2.2"/><circle cx="225.69" cy="11.3" r="2.2"/><circle cx="228.22" cy="11.18" r="2.2"/><circle cx="230.74" cy="13.08" r="2.2"/><circle cx="233.27" cy="14.17" r="2.2"/><circle cx="235.79" cy="14.75" r="2.2"/><circle cx="238.32" cy="13.24" r="2.2"/><circle cx="240.84" cy="15.65" r="2.2"/><circle cx="243.36" cy="10.65" r="2.2"/><circle cx="245.89" cy="12.83" r="2.2"/><circle cx="248.41" cy="10.91" r="2.2"/><circle cx="250.94" cy="8.55" r="2.2"/><circle cx="253.46" cy="9.62" r="2.2"/><circle cx="255.99" cy="13.38" r="2.2"/><circle cx="258.51" cy="9.99" r="2.2"/><circle cx="261.04" cy="9.46" r="2.2"/><circle cx="263.56" cy="12.54" r="2.2"/><circle cx="266.08" cy="12.83" r="2.2"/><circle cx="268.61" cy="11.39" r="2.2"/><circle cx="271.13" cy="13.8" r="2.2"/><circle cx="273.66" cy="8.71" r="2.2"/><circle cx="276.18" cy="15.05" r="2.2"/><circle cx="278.71" cy="12.88" r="2.2"/><circle cx="281.23" cy="11.47" r="2.2"/><circle cx="283.76" cy="11.37" r="2.2"/><circle cx="286.28" cy="10.69" r="2.2"/><circle cx="288.81" cy="10.49" r="2.2"/><circle cx="291.33" cy="11.27" r="2.2"/><circle cx="293.85" cy="9.02" r="2.2"/><circle cx="296.38" cy="14.39" r="2.2"/><circle cx="298.9" cy="10.85" r="2.2"/><circle cx="301.43" cy="12.01" r="2.2"/><circle cx="303.95" cy="10.6" r="2.2"/><circle cx="306.48" cy="10.44" r="2.2"/><circle cx="309" cy="12.29" r="2.2"/><circle cx="311.53" cy="11.83" r="2.2"/><circle cx="314.05" cy="9.46" r="2.2"/><circle cx="316.57" cy="10.18" r="2.2"/><circle cx="319.1" cy="11.86" r="2.2"/><circle cx="321.62" cy="7.37" r="2.2"/><circle cx="324.15" cy="6.92" r="2.2"/><circle cx="326.67" cy="13.12" r="2.2"/><circle cx="329.2" cy="10.21" r="2.2"/><circle cx="331.72" cy="6.57" r="2.2"/><circle cx="334.25" cy="9.4" r="2.2"/><circle cx="336.77" cy="10.32" r="2.2"/></g>
<g fill="#7d1010"><circle cx="47.83" cy="6.94" r="2.2"/><circle cx="48.13" cy="8.13" r="2.2"/><circle cx="48.43" cy="6.96" r="2.2"/><circle cx="48.73" cy="8.17" r="2.2"/><circle cx="49.02" cy="3.56" r="2.2"/><circle cx="49.32" cy="7.64" r="2.2"/><circle cx="49.62" cy="7.8" r="2.2"/><circle cx="49.92" cy="10.52" r="2.2"/><circle cx="50.22" cy="6.42" r="2.2"/><circle cx="50.52" cy="9.44" r="2.2"/><circle cx="50.81" cy="6.91" r="2.2"/><circle cx="51.11" cy="2.56" r="2.2"/><circle cx="51.41" cy="4.99" r="2.2"/><circle cx="51.71" cy="4.52" r="2.2"/><circle cx="52.01" cy="5.07" r="2.2"/><circle cx="52.31" cy="6.15" r="2.2"/><circle cx="52.6" cy="6.85" r="2.2"/><circle cx="52.9" cy="7.52" r="2.2"/><circle cx="53.2" cy="3.76" r="2.2"/><circle cx="53.5" cy="10.37" r="2.2"/><circle cx="53.8" cy="1.78" r="2.2"/><circle cx="54.1" cy="6.49" r="2.2"/><circle cx="54.39" cy="9.35" r="2.2"/><circle cx="54.69" cy="8.5" r="2.2"/><circle cx="54.99" cy="9.25" r="2.2"/><circle cx="55.29" cy="6.36" r="2.2"/><circle cx="55.59" cy="9.59" r="2.2"/><circle cx="55.89" cy="3.08" r="2.2"/><circle cx="56.18" cy="10.07" r="2.2"/><circle cx="56.48" cy="15.54" r="2.2"/><circle cx="56.78" cy="10.21" r="2.2"/><circle cx="57.08" cy="14.95" r="2.2"/><circle cx="57.38" cy="8.13" r="2.2"/><circle cx="57.68" cy="4.45" r="2.2"/><circle cx="57.97" cy="6.17" r="2.2"/><circle cx="58.27" cy="13.53" r="2.2"/><circle cx="58.57" cy="11.79" r="2.2"/><circle cx="58.87" cy="3.08" r="2.2"/><circle cx="59.17" cy="8.67" r="2.2"/><circle cx="59.47" cy="10.21" r="2.2"/><circle cx="59.76" cy="6.92" r="2.2"/><circle cx="60.06" cy="2.45" r="2.2"/><circle cx="60.36" cy="7.12" r="2.2"/><circle cx="60.66" cy="11.85" r="2.2"/><circle cx="60.96" cy="11.74" r="2.2"/><circle cx="61.26" cy="11.52" r="2.2"/><circle cx="61.55" cy="16.68" r="2.2"/><circle cx="61.85" cy="19.12" r="2.2"/><circle cx="62.15" cy="16.06" r="2.2"/><circle cx="62.45" cy="20.61" r="2.2"/><circle cx="62.75" cy="18.51" r="2.2"/><circle cx="63.05" cy="19.09" r="2.2"/><circle cx="63.34" cy="12.31" r="2.2"/><circle cx="63.64" cy="25" r="2.2"/><circle cx="63.94" cy="23.8" r="2.2"/><circle cx="64.24" cy="25.44" r="2.2"/><circle cx="64.54" cy="24.88" r="2.2"/><circle cx="64.84" cy="24.4" r="2.2"/><circle cx="65.13" cy="31.67" r="2.2"/><circle cx="65.43" cy="34.08" r="2.2"/><circle cx="65.73" cy="38.33" r="2.2"/><circle cx="66.03" cy="38.48" r="2.2"/><circle cx="66.33" cy="36.7" r="2.2"/><circle cx="66.63" cy="40.38" r="2.2"/><circle cx="66.92" cy="45.74" r="2.2"/><circle cx="67.22" cy="46.54" r="2.2"/><circle cx="67.52" cy="48.11" r="2.2"/><circle cx="67.82" cy="49.6" r="2.2"/><circle cx="68.12" cy="55.51" r="2.2"/><circle cx="68.42" cy="57.58" r="2.2"/><circle cx="68.71" cy="64.99" r="2.2"/><circle cx="69.01" cy="66.38" r="2.2"/><circle cx="69.31" cy="62.11" r="2.2"/><circle cx="69.61" cy="75.96" r="2.2"/><circle cx="69.91" cy="74.4" r="2.2"/><circle cx="70.21" cy="76.46" r="2.2"/><circle cx="70.5" cy="81.76" r="2.2"/><circle cx="70.8" cy="86.7" r="2.2"/><circle cx="71.1" cy="88.47" r="2.2"/><circle cx="71.4" cy="92.19" r="2.2"/><circle cx="71.7" cy="96.33" r="2.2"/><circle cx="72" cy="105.23" r="2.2"/><circle cx="72.29" cy="104.49" r="2.2"/><circle cx="72.59" cy="110.47" r="2.2"/><circle cx="72.89" cy="113.67" r="2.2"/><circle cx="73.19" cy="115.6" r="2.2"/><circle cx="73.49" cy="118.52" r="2.2"/><circle cx="73.79" cy="121.85" r="2.2"/><circle cx="74.08" cy="129.69" r="2.2"/><circle cx="74.38" cy="129.77" r="2.2"/><circle cx="74.68" cy="133.02" r="2.2"/><circle cx="74.98" cy="137.01" r="2.2"/><circle cx="75.28" cy="140.13" r="2.2"/><circle cx="75.58" cy="148.08" r="2.2"/><circle cx="75.87" cy="151.82" r="2.2"/><circle cx="76.17" cy="152.64" r="2.2"/><circle cx="76.47" cy="162.11" r="2.2"/><circle cx="76.77" cy="161.14" r="2.2"/><circle cx="77.07" cy="166.4" r="2.2"/><circle cx="77.37" cy="169.06" r="2.2"/><circle cx="77.67" cy="175.8" r="2.2"/><circle cx="77.96" cy="176.3" r="2.2"/><circle cx="78.26" cy="176.6" r="2.2"/><circle cx="78.56" cy="176.65" r="2.2"/><circle cx="78.86" cy="178.75" r="2.2"/><circle cx="79.16" cy="183.91" r="2.2"/><circle cx="79.46" cy="186.28" r="2.2"/><circle cx="79.75" cy="189.94" r="2.2"/><circle cx="80.05" cy="188.3" r="2.2"/><circle cx="80.35" cy="191.65" r="2.2"/><circle cx="80.65" cy="190.72" r="2.2"/><circle cx="80.95" cy="188.82" r="2.2"/><circle cx="81.25" cy="194.8" r="2.2"/><circle cx="81.54" cy="199.73" r="2.2"/><circle cx="81.84" cy="198.75" r="2.2"/><circle cx="82.14" cy="200.99" r="2.2"/><circle cx="82.44" cy="200.73" r="2.2"/><circle cx="82.74" cy="194.17" r="2.2"/><circle cx="83.04" cy="197.29" r="2.2"/><circle cx="83.33" cy="202.11" r="2.2"/><circle cx="83.63" cy="196.04" r="2.2"/><circle cx="83.93" cy="194.14" r="2.2"/><circle cx="84.23" cy="198.22" r="2.2"/><circle cx="84.53" cy="198.62" r="2.2"/><circle cx="84.83" cy="197.11" r="2.2"/><circle cx="85.12" cy="194.72" r="2.2"/><circle cx="85.42" cy="192.96" r="2.2"/><circle cx="85.72" cy="190.6" r="2.2"/><circle cx="86.02" cy="189.57" r="2.2"/><circle cx="86.32" cy="188.61" r="2.2"/><circle cx="86.62" cy="187.03" r="2.2"/><circle cx="86.91" cy="187.78" r="2.2"/><circle cx="87.21" cy="192.58" r="2.2"/><circle cx="87.51" cy="187.46" r="2.2"/><circle cx="87.81" cy="184.92" r="2.2"/><circle cx="88.11" cy="185.47" r="2.2"/><circle cx="88.41" cy="180.52" r="2.2"/><circle cx="88.7" cy="182.58" r="2.2"/><circle cx="89" cy="182.68" r="2.2"/><circle cx="89.3" cy="174.71" r="2.2"/><circle cx="89.6" cy="175.36" r="2.2"/><circle cx="89.9" cy="175.08" r="2.2"/><circle cx="90.2" cy="171.63" r="2.2"/><circle cx="90.49" cy="169.74" r="2.2"/><circle cx="90.79" cy="170.2" r="2.2"/><circle cx="91.09" cy="176.36" r="2.2"/><circle cx="91.39" cy="169.95" r="2.2"/><circle cx="91.69" cy="167.84" r="2.2"/><circle cx="91.99" cy="167.79" r="2.2"/><circle cx="92.28" cy="163.05" r="2.2"/><circle cx="92.58" cy="158.85" r="2.2"/><circle cx="92.88" cy="161.98" r="2.2"/><circle cx="93.18" cy="162.31" r="2.2"/><circle cx="93.48" cy="152.19" r="2.2"/><circle cx="93.78" cy="157.57" r="2.2"/><circle cx="94.07" cy="158.31" r="2.2"/><circle cx="94.37" cy="152.89" r="2.2"/><circle cx="94.67" cy="151" r="2.2"/><circle cx="94.97" cy="152.75" r="2.2"/><circle cx="95.27" cy="147.31" r="2.2"/><circle cx="95.57" cy="149.5" r="2.2"/><circle cx="95.86" cy="149.4" r="2.2"/><circle cx="96.16" cy="145.1" r="2.2"/><circle cx="96.46" cy="142.21" r="2.2"/><circle cx="96.76" cy="144.82" r="2.2"/><circle cx="97.06" cy="140.95" r="2.2"/><circle cx="97.36" cy="140.9" r="2.2"/><circle cx="97.65" cy="131.7" r="2.2"/><circle cx="97.95" cy="140.22" r="2.2"/><circle cx="98.25" cy="133.32" r="2.2"/><circle cx="98.55" cy="136.12" r="2.2"/><circle cx="98.85" cy="135.19" r="2.2"/><circle cx="99.15" cy="131.75" r="2.2"/><circle cx="99.44" cy="130.18" r="2.2"/><circle cx="99.74" cy="128.08" r="2.2"/><circle cx="100.04" cy="129.58" r="2.2"/><circle cx="100.34" cy="131.07" r="2.2"/><circle cx="100.64" cy="129.86" r="2.2"/><circle cx="100.94" cy="125.95" r="2.2"/><circle cx="101.23" cy="124.74" r="2.2"/><circle cx="101.53" cy="121.49" r="2.2"/><circle cx="101.83" cy="123.19" r="2.2"/><circle cx="102.13" cy="120.44" r="2.2"/><circle cx="102.43" cy="118.22" r="2.2"/><circle cx="102.73" cy="120.97" r="2.2"/><circle cx="103.02" cy="124.55" r="2.2"/><circle cx="103.32" cy="122.77" r="2.2"/><circle cx="103.62" cy="122.54" r="2.2"/><circle cx="103.92" cy="113.31" r="2.2"/><circle cx="104.22" cy="119.09" r="2.2"/><circle cx="104.52" cy="112.49" r="2.2"/><circle cx="104.81" cy="113.37" r="2.2"/><circle cx="105.11" cy="109.39" r="2.2"/><circle cx="105.41" cy="110.47" r="2.2"/><circle cx="105.71" cy="112.63" r="2.2"/><circle cx="106.01" cy="112.04" r="2.2"/><circle cx="106.31" cy="110.41" r="2.2"/><circle cx="106.6" cy="109.32" r="2.2"/><circle cx="106.9" cy="110.42" r="2.2"/><circle cx="107.2" cy="108.23" r="2.2"/><circle cx="107.5" cy="102.91" r="2.2"/><circle cx="107.8" cy="111.18" r="2.2"/><circle cx="108.1" cy="105" r="2.2"/><circle cx="108.4" cy="107.4" r="2.2"/><circle cx="108.69" cy="103.61" r="2.2"/><circle cx="108.99" cy="101.04" r="2.2"/><circle cx="109.29" cy="102.73" r="2.2"/><circle cx="109.59" cy="99.68" r="2.2"/><circle cx="109.89" cy="105.4" r="2.2"/><circle cx="110.19" cy="97.25" r="2.2"/><circle cx="110.48" cy="101.19" r="2.2"/><circle cx="110.78" cy="97.09" r="2.2"/><circle cx="111.08" cy="97.56" r="2.2"/><circle cx="111.38" cy="104.43" r="2.2"/><circle cx="111.68" cy="98.69" r="2.2"/><circle cx="111.98" cy="95.29" r="2.2"/><circle cx="112.27" cy="90.93" r="2.2"/><circle cx="112.57" cy="93.7" r="2.2"/><circle cx="112.87" cy="93.08" r="2.2"/><circle cx="113.17" cy="96.98" r="2.2"/><circle cx="113.47" cy="88.49" r="2.2"/><circle cx="113.77" cy="86.78" r="2.2"/><circle cx="114.06" cy="90.99" r="2.2"/><circle cx="114.36" cy="91" r="2.2"/><circle cx="114.66" cy="94.18" r="2.2"/><circle cx="114.96" cy="86.66" r="2.2"/><circle cx="115.26" cy="81.02" r="2.2"/><circle cx="115.56" cy="85.83" r="2.2"/><circle cx="115.85" cy="83.69" r="2.2"/><circle cx="116.15" cy="85.04" r="2.2"/><circle cx="116.45" cy="88.6" r="2.2"/><circle cx="116.75" cy="81.61" r="2.2"/><circle cx="117.05" cy="88.04" r="2.2"/><circle cx="117.35" cy="84.63" r="2.2"/><circle cx="117.64" cy="82.68" r="2.2"/><circle cx="117.94" cy="80.42" r="2.2"/><circle cx="118.24" cy="81.11" r="2.2"/><circle cx="118.54" cy="80.6" r="2.2"/><circle cx="118.84" cy="83.16" r="2.2"/><circle cx="119.14" cy="84.03" r="2.2"/><circle cx="119.43" cy="79.75" r="2.2"/><circle cx="119.73" cy="81.3" r="2.2"/><circle cx="120.03" cy="82.37" r="2.2"/><circle cx="120.33" cy="81.7" r="2.2"/><circle cx="120.63" cy="79.02" r="2.2"/><circle cx="120.93" cy="82.2" r="2.2"/><circle cx="121.22" cy="80.27" r="2.2"/><circle cx="121.27" cy="80.98" r="2.2"/><circle cx="122.1" cy="74.51" r="2.2"/><circle cx="122.92" cy="72.44" r="2.2"/><circle cx="123.75" cy="66.64" r="2.2"/><circle cx="124.57" cy="74.88" r="2.2"/><circle cx="125.4" cy="71.29" r="2.2"/><circle cx="126.23" cy="65.61" r="2.2"/><circle cx="127.05" cy="67.42" r="2.2"/><circle cx="127.88" cy="66.47" r="2.2"/><circle cx="128.71" cy="59.66" r="2.2"/><circle cx="129.53" cy="64.08" r="2.2"/><circle cx="130.36" cy="65.16" r="2.2"/><circle cx="131.18" cy="63.02" r="2.2"/><circle cx="132.01" cy="59.19" r="2.2"/><circle cx="132.84" cy="58.16" r="2.2"/><circle cx="133.66" cy="59.86" r="2.2"/><circle cx="134.49" cy="58.19" r="2.2"/><circle cx="135.32" cy="54.68" r="2.2"/><circle cx="136.14" cy="53.63" r="2.2"/><circle cx="136.97" cy="54.68" r="2.2"/><circle cx="137.79" cy="51.66" r="2.2"/><circle cx="138.62" cy="50.82" r="2.2"/><circle cx="139.45" cy="53.81" r="2.2"/><circle cx="140.27" cy="50.51" r="2.2"/><circle cx="141.1" cy="48.47" r="2.2"/><circle cx="141.93" cy="49.26" r="2.2"/><circle cx="142.75" cy="51.03" r="2.2"/><circle cx="143.58" cy="47.18" r="2.2"/><circle cx="144.4" cy="44.7" r="2.2"/><circle cx="145.23" cy="42.59" r="2.2"/><circle cx="146.06" cy="48.06" r="2.2"/><circle cx="146.88" cy="39.43" r="2.2"/><circle cx="147.71" cy="44.88" r="2.2"/><circle cx="148.53" cy="40.77" r="2.2"/><circle cx="149.36" cy="39.64" r="2.2"/><circle cx="150.19" cy="39.41" r="2.2"/><circle cx="151.01" cy="40.14" r="2.2"/><circle cx="151.84" cy="41.68" r="2.2"/><circle cx="152.67" cy="38.13" r="2.2"/><circle cx="153.49" cy="39.74" r="2.2"/><circle cx="154.32" cy="42.14" r="2.2"/><circle cx="155.14" cy="32.76" r="2.2"/><circle cx="155.97" cy="35.7" r="2.2"/><circle cx="156.8" cy="33.34" r="2.2"/><circle cx="157.62" cy="37.31" r="2.2"/><circle cx="158.45" cy="32.88" r="2.2"/><circle cx="159.28" cy="32.18" r="2.2"/><circle cx="160.1" cy="31.75" r="2.2"/><circle cx="160.93" cy="33.86" r="2.2"/><circle cx="161.75" cy="35.34" r="2.2"/><circle cx="162.58" cy="33.2" r="2.2"/><circle cx="162.58" cy="36.53" r="2.2"/><circle cx="165.1" cy="34.38" r="2.2"/><circle cx="167.63" cy="30.2" r="2.2"/><circle cx="170.15" cy="30.85" r="2.2"/><circle cx="172.68" cy="28.42" r="2.2"/><circle cx="175.2" cy="27.35" r="2.2"/><circle cx="177.73" cy="23.08" r="2.2"/><circle cx="180.25" cy="23.27" r="2.2"/><circle cx="182.78" cy="24.69" r="2.2"/><circle cx="185.3" cy="21.89" r="2.2"/><circle cx="187.83" cy="24.48" r="2.2"/><circle cx="190.35" cy="23.12" r="2.2"/><circle cx="192.87" cy="20.48" r="2.2"/><circle cx="195.4" cy="23.48" r="2.2"/><circle cx="197.92" cy="21.39" r="2.2"/><circle cx="200.45" cy="22.63" r="2.2"/><circle cx="202.97" cy="19.82" r="2.2"/><circle cx="205.5" cy="16.92" r="2.2"/><circle cx="208.02" cy="20.47" r="2.2"/><circle cx="210.55" cy="18.51" r="2.2"/><circle cx="213.07" cy="20.03" r="2.2"/><circle cx="215.59" cy="20.15" r="2.2"/><circle cx="218.12" cy="20.01" r="2.2"/><circle cx="220.64" cy="15.32" r="2.2"/><circle cx="223.17" cy="13.58" r="2.2"/><circle cx="225.69" cy="16.45" r="2.2"/><circle cx="228.22" cy="18.21" r="2.2"/><circle cx="230.74" cy="15.68" r="2.2"/><circle cx="233.27" cy="17.21" r="2.2"/><circle cx="235.79" cy="15.17" r="2.2"/><circle cx="238.32" cy="15.86" r="2.2"/><circle cx="240.84" cy="15.73" r="2.2"/><circle cx="243.36" cy="15.06" r="2.2"/><circle cx="245.89" cy="16.89" r="2.2"/><circle cx="248.41" cy="16.48" r="2.2"/><circle cx="250.94" cy="18.54" r="2.2"/><circle cx="253.46" cy="16.34" r="2.2"/><circle cx="255.99" cy="17.86" r="2.2"/><circle cx="258.51" cy="15.67" r="2.2"/><circle cx="261.04" cy="16.93" r="2.2"/><circle cx="263.56" cy="15.11" r="2.2"/><circle cx="266.08" cy="14.46" r="2.2"/><circle cx="268.61" cy="17.48" r="2.2"/><circle cx="271.13" cy="16.42" r="2.2"/><circle cx="273.66" cy="16.58" r="2.2"/><circle cx="276.18" cy="13.75" r="2.2"/><circle cx="278.71" cy="12.12" r="2.2"/><circle cx="281.23" cy="13.48" r="2.2"/><circle cx="283.76" cy="15.42" r="2.2"/><circle cx="286.28" cy="12.39" r="2.2"/><circle cx="288.81" cy="17.26" r="2.2"/><circle cx="291.33" cy="12.27" r="2.2"/><circle cx="293.85" cy="15.78" r="2.2"/><circle cx="296.38" cy="19.25" r="2.2"/><circle cx="298.9" cy="10.28" r="2.2"/><circle cx="301.43" cy="12.03" r="2.2"/><circle cx="303.95" cy="16.3" r="2.2"/><circle cx="306.48" cy="14.3" r="2.2"/><circle cx="309" cy="14.91" r="2.2"/><circle cx="311.53" cy="14.37" r="2.2"/><circle cx="314.05" cy="16.96" r="2.2"/><circle cx="316.57" cy="15.63" r="2.2"/><circle cx="319.1" cy="13.72" r="2.2"/><circle cx="321.62" cy="14.11" r="2.2"/><circle cx="324.15" cy="12.49" r="2.2"/><circle cx="326.67" cy="14.32" r="2.2"/><circle cx="329.2" cy="10.58" r="2.2"/><circle cx="331.72" cy="15.61" r="2.2"/><circle cx="334.25" cy="14" r="2.2"/><circle cx="336.77" cy="17.57" r="2.2"/></g>
<g fill="#35891f"><circle cx="47.83" cy="17.16" r="2.2"/><circle cx="48.13" cy="3.72" r="2.2"/><circle cx="48.43" cy="15.58" r="2.2"/><circle cx="48.73" cy="7.92" r="2.2"/><circle cx="49.02" cy="11.03" r="2.2"/><circle cx="49.32" cy="16.17" r="2.2"/><circle cx="49.62" cy="12.57" r="2.2"/><circle cx="49.92" cy="13.47" r="2.2"/><circle cx="50.22" cy="13.37" r="2.2"/><circle cx="50.52" cy="6.94" r="2.2"/><circle cx="50.81" cy="7.51" r="2.2"/><circle cx="51.11" cy="13.97" r="2.2"/><circle cx="51.41" cy="15.75" r="2.2"/><circle cx="51.71" cy="9.62" r="2.2"/><circle cx="52.01" cy="11.68" r="2.2"/><circle cx="52.31" cy="5.88" r="2.2"/><circle cx="52.9" cy="7.04" r="2.2"/><circle cx="53.2" cy="11.73" r="2.2"/><circle cx="53.5" cy="12.58" r="2.2"/><circle cx="53.8" cy="16.28" r="2.2"/><circle cx="54.1" cy="16.7" r="2.2"/><circle cx="54.39" cy="17.38" r="2.2"/><circle cx="54.69" cy="14.4" r="2.2"/><circle cx="54.99" cy="14.78" r="2.2"/><circle cx="55.29" cy="8.91" r="2.2"/><circle cx="55.59" cy="15.12" r="2.2"/><circle cx="55.89" cy="14.36" r="2.2"/><circle cx="56.18" cy="19.99" r="2.2"/><circle cx="56.48" cy="5.41" r="2.2"/><circle cx="56.78" cy="11.71" r="2.2"/><circle cx="57.08" cy="5.43" r="2.2"/><circle cx="57.38" cy="11.05" r="2.2"/><circle cx="57.68" cy="7.92" r="2.2"/><circle cx="57.97" cy="17.5" r="2.2"/><circle cx="58.27" cy="13.04" r="2.2"/><circle cx="58.57" cy="3.29" r="2.2"/><circle cx="58.87" cy="24.44" r="2.2"/><circle cx="59.17" cy="12.65" r="2.2"/><circle cx="59.47" cy="10.71" r="2.2"/><circle cx="59.76" cy="18.2" r="2.2"/><circle cx="60.06" cy="17.31" r="2.2"/><circle cx="60.36" cy="15.6" r="2.2"/><circle cx="60.66" cy="26.8" r="2.2"/><circle cx="60.96" cy="22.24" r="2.2"/><circle cx="61.26" cy="30.23" r="2.2"/><circle cx="61.55" cy="30.47" r="2.2"/><circle cx="61.85" cy="31.5" r="2.2"/><circle cx="62.15" cy="30.4" r="2.2"/><circle cx="62.45" cy="30.38" r="2.2"/><circle cx="62.75" cy="30.36" r="2.2"/><circle cx="63.05" cy="42.04" r="2.2"/><circle cx="63.34" cy="25.71" r="2.2"/><circle cx="63.64" cy="32.01" r="2.2"/><circle cx="63.94" cy="36.3" r="2.2"/><circle cx="64.24" cy="44.19" r="2.2"/><circle cx="64.54" cy="44.96" r="2.2"/><circle cx="64.84" cy="43.87" r="2.2"/><circle cx="65.13" cy="47.01" r="2.2"/><circle cx="65.43" cy="56.45" r="2.2"/><circle cx="65.73" cy="52.28" r="2.2"/><circle cx="66.03" cy="48.9" r="2.2"/><circle cx="66.33" cy="65.13" r="2.2"/><circle cx="66.63" cy="60.09" r="2.2"/><circle cx="66.92" cy="64.9" r="2.2"/><circle cx="67.22" cy="69.41" r="2.2"/><circle cx="67.52" cy="68.49" r="2.2"/><circle cx="67.82" cy="79.03" r="2.2"/><circle cx="68.12" cy="78.69" r="2.2"/><circle cx="68.42" cy="78.57" r="2.2"/><circle cx="68.71" cy="86.87" r="2.2"/><circle cx="69.01" cy="91.2" r="2.2"/><circle cx="69.31" cy="93.48" r="2.2"/><circle cx="69.61" cy="98.91" r="2.2"/><circle cx="69.91" cy="97.22" r="2.2"/><circle cx="70.21" cy="108.11" r="2.2"/><circle cx="70.5" cy="107.13" r="2.2"/><circle cx="70.8" cy="117.19" r="2.2"/><circle cx="71.1" cy="115.89" r="2.2"/><circle cx="71.4" cy="122.22" r="2.2"/><circle cx="71.7" cy="133.37" r="2.2"/><circle cx="72" cy="130.28" r="2.2"/><circle cx="72.29" cy="137.46" r="2.2"/><circle cx="72.59" cy="139.88" r="2.2"/><circle cx="72.89" cy="138.46" r="2.2"/><circle cx="73.19" cy="150.1" r="2.2"/><circle cx="73.49" cy="154.05" r="2.2"/><circle cx="73.79" cy="151.07" r="2.2"/><circle cx="74.08" cy="158.84" r="2.2"/><circle cx="74.38" cy="158.78" r="2.2"/><circle cx="74.68" cy="166.12" r="2.2"/><circle cx="74.98" cy="173.35" r="2.2"/><circle cx="75.28" cy="174.79" r="2.2"/><circle cx="75.58" cy="174.79" r="2.2"/><circle cx="75.87" cy="179.15" r="2.2"/><circle cx="76.17" cy="185.25" r="2.2"/><circle cx="76.47" cy="188.45" r="2.2"/><circle cx="76.77" cy="192.11" r="2.2"/><circle cx="77.07" cy="196.51" r="2.2"/><circle cx="77.37" cy="192.38" r="2.2"/><circle cx="77.67" cy="200.62" r="2.2"/><circle cx="77.96" cy="206.5" r="2.2"/><circle cx="78.26" cy="207.18" r="2.2"/><circle cx="78.56" cy="206.16" r="2.2"/><circle cx="78.86" cy="208.62" r="2.2"/><circle cx="79.16" cy="212.88" r="2.2"/><circle cx="79.46" cy="216.28" r="2.2"/><circle cx="79.75" cy="216.07" r="2.2"/><circle cx="80.05" cy="222.45" r="2.2"/><circle cx="80.35" cy="222.83" r="2.2"/><circle cx="80.65" cy="218.17" r="2.2"/><circle cx="80.95" cy="222.88" r="2.2"/><circle cx="81.25" cy="221.43" r="2.2"/><circle cx="81.54" cy="219.84" r="2.2"/><circle cx="81.84" cy="222.09" r="2.2"/><circle cx="82.14" cy="224.36" r="2.2"/><circle cx="82.44" cy="218.77" r="2.2"/><circle cx="82.74" cy="223.09" r="2.2"/><circle cx="83.04" cy="226.04" r="2.2"/><circle cx="83.33" cy="222.91" r="2.2"/><circle cx="83.63" cy="223.63" r="2.2"/><circle cx="83.93" cy="226.88" r="2.2"/><circle cx="84.23" cy="223.82" r="2.2"/><circle cx="84.53" cy="223.94" r="2.2"/><circle cx="84.83" cy="228.36" r="2.2"/><circle cx="85.12" cy="222.54" r="2.2"/><circle cx="85.42" cy="222" r="2.2"/><circle cx="85.72" cy="221.49" r="2.2"/><circle cx="86.02" cy="223.86" r="2.2"/><circle cx="86.32" cy="219.12" r="2.2"/><circle cx="86.62" cy="217.05" r="2.2"/><circle cx="86.91" cy="215.4" r="2.2"/><circle cx="87.21" cy="217.58" r="2.2"/><circle cx="87.51" cy="211.22" r="2.2"/><circle cx="87.81" cy="215.02" r="2.2"/><circle cx="88.11" cy="210.76" r="2.2"/><circle cx="88.41" cy="204.95" r="2.2"/><circle cx="88.7" cy="209.05" r="2.2"/><circle cx="89" cy="206.97" r="2.2"/><circle cx="89.3" cy="200.91" r="2.2"/><circle cx="89.6" cy="203.41" r="2.2"/><circle cx="89.9" cy="201.53" r="2.2"/><circle cx="90.2" cy="198.43" r="2.2"/><circle cx="90.49" cy="194.44" r="2.2"/><circle cx="90.79" cy="201.95" r="2.2"/><circle cx="91.09" cy="196.41" r="2.2"/><circle cx="91.39" cy="195.25" r="2.2"/><circle cx="91.69" cy="193.81" r="2.2"/><circle cx="91.99" cy="191.51" r="2.2"/><circle cx="92.28" cy="189.81" r="2.2"/><circle cx="92.58" cy="184.96" r="2.2"/><circle cx="92.88" cy="186.68" r="2.2"/><circle cx="93.18" cy="182.22" r="2.2"/><circle cx="93.48" cy="179.83" r="2.2"/><circle cx="93.78" cy="181.42" r="2.2"/><circle cx="94.07" cy="177.43" r="2.2"/><circle cx="94.37" cy="171.64" r="2.2"/><circle cx="94.67" cy="173.8" r="2.2"/><circle cx="94.97" cy="174.98" r="2.2"/><circle cx="95.27" cy="171.87" r="2.2"/><circle cx="95.57" cy="172.78" r="2.2"/><circle cx="95.86" cy="167.99" r="2.2"/><circle cx="96.16" cy="164.89" r="2.2"/><circle cx="96.46" cy="168.18" r="2.2"/><circle cx="96.76" cy="165.07" r="2.2"/><circle cx="97.06" cy="159.98" r="2.2"/><circle cx="97.36" cy="163.13" r="2.2"/><circle cx="97.65" cy="159.87" r="2.2"/><circle cx="97.95" cy="161.94" r="2.2"/><circle cx="98.25" cy="160.06" r="2.2"/><circle cx="98.55" cy="157.92" r="2.2"/><circle cx="98.85" cy="149.24" r="2.2"/><circle cx="99.15" cy="155.09" r="2.2"/><circle cx="99.44" cy="154.18" r="2.2"/><circle cx="99.74" cy="153.06" r="2.2"/><circle cx="100.04" cy="150.77" r="2.2"/><circle cx="100.34" cy="147.33" r="2.2"/><circle cx="100.64" cy="147.45" r="2.2"/><circle cx="100.94" cy="141.17" r="2.2"/><circle cx="101.23" cy="145.09" r="2.2"/><circle cx="101.53" cy="140.58" r="2.2"/><circle cx="101.83" cy="142.69" r="2.2"/><circle cx="102.13" cy="140.69" r="2.2"/><circle cx="102.43" cy="145.23" r="2.2"/><circle cx="102.73" cy="140.55" r="2.2"/><circle cx="103.02" cy="139.33" r="2.2"/><circle cx="103.32" cy="138.77" r="2.2"/><circle cx="103.62" cy="142.97" r="2.2"/><circle cx="103.92" cy="133.63" r="2.2"/><circle cx="104.22" cy="136.1" r="2.2"/><circle cx="104.52" cy="135.24" r="2.2"/><circle cx="104.81" cy="133.75" r="2.2"/><circle cx="105.11" cy="132.7" r="2.2"/><circle cx="105.41" cy="129.99" r="2.2"/><circle cx="105.71" cy="133.64" r="2.2"/><circle cx="106.01" cy="131.76" r="2.2"/><circle cx="106.31" cy="127.47" r="2.2"/><circle cx="106.6" cy="126.94" r="2.2"/><circle cx="106.9" cy="127.45" r="2.2"/><circle cx="107.2" cy="127.08" r="2.2"/><circle cx="107.5" cy="126.9" r="2.2"/><circle cx="107.8" cy="123.87" r="2.2"/><circle cx="108.1" cy="119.59" r="2.2"/><circle cx="108.4" cy="124.85" r="2.2"/><circle cx="108.69" cy="116.9" r="2.2"/><circle cx="108.99" cy="117.91" r="2.2"/><circle cx="109.29" cy="120.61" r="2.2"/><circle cx="109.59" cy="116.37" r="2.2"/><circle cx="109.89" cy="121.7" r="2.2"/><circle cx="110.19" cy="121.6" r="2.2"/><circle cx="110.48" cy="119.57" r="2.2"/><circle cx="110.78" cy="116.34" r="2.2"/><circle cx="111.08" cy="115.3" r="2.2"/><circle cx="111.38" cy="115.02" r="2.2"/><circle cx="111.68" cy="112.53" r="2.2"/><circle cx="111.98" cy="117.88" r="2.2"/><circle cx="112.27" cy="109.88" r="2.2"/><circle cx="112.57" cy="114.36" r="2.2"/><circle cx="112.87" cy="111.51" r="2.2"/><circle cx="113.17" cy="110.07" r="2.2"/><circle cx="113.47" cy="111.35" r="2.2"/><circle cx="113.77" cy="111.19" r="2.2"/><circle cx="114.06" cy="109.45" r="2.2"/><circle cx="114.36" cy="105.99" r="2.2"/><circle cx="114.66" cy="103.6" r="2.2"/><circle cx="114.96" cy="102.95" r="2.2"/><circle cx="115.26" cy="106.51" r="2.2"/><circle cx="115.56" cy="105.24" r="2.2"/><circle cx="115.85" cy="104.89" r="2.2"/><circle cx="116.15" cy="100.43" r="2.2"/><circle cx="116.45" cy="106.56" r="2.2"/><circle cx="116.75" cy="96.89" r="2.2"/><circle cx="117.05" cy="100.93" r="2.2"/><circle cx="117.35" cy="101.08" r="2.2"/><circle cx="117.64" cy="97.33" r="2.2"/><circle cx="117.94" cy="94.76" r="2.2"/><circle cx="118.24" cy="95.99" r="2.2"/><circle cx="118.54" cy="93.39" r="2.2"/><circle cx="118.84" cy="95.26" r="2.2"/><circle cx="119.14" cy="91.62" r="2.2"/><circle cx="119.43" cy="90.94" r="2.2"/><circle cx="119.73" cy="93.99" r="2.2"/><circle cx="120.03" cy="89.15" r="2.2"/><circle cx="120.33" cy="92.02" r="2.2"/><circle cx="120.63" cy="91.62" r="2.2"/><circle cx="120.93" cy="93.77" r="2.2"/><circle cx="121.22" cy="91.43" r="2.2"/><circle cx="121.27" cy="88.41" r="2.2"/><circle cx="122.1" cy="92.5" r="2.2"/><circle cx="122.92" cy="85.5" r="2.2"/><circle cx="123.75" cy="84.75" r="2.2"/><circle cx="124.57" cy="83.41" r="2.2"/><circle cx="125.4" cy="88.72" r="2.2"/><circle cx="126.23" cy="81.48" r="2.2"/><circle cx="127.05" cy="77.99" r="2.2"/><circle cx="127.88" cy="80.46" r="2.2"/><circle cx="128.71" cy="76.75" r="2.2"/><circle cx="129.53" cy="82.18" r="2.2"/><circle cx="130.36" cy="72.51" r="2.2"/><circle cx="131.18" cy="74.16" r="2.2"/><circle cx="132.01" cy="70.39" r="2.2"/><circle cx="132.84" cy="73.64" r="2.2"/><circle cx="133.66" cy="68.27" r="2.2"/><circle cx="134.49" cy="68.64" r="2.2"/><circle cx="135.32" cy="65.78" r="2.2"/><circle cx="136.14" cy="67.52" r="2.2"/><circle cx="136.97" cy="65.93" r="2.2"/><circle cx="137.79" cy="60.17" r="2.2"/><circle cx="138.62" cy="64.19" r="2.2"/><circle cx="139.45" cy="62.97" r="2.2"/><circle cx="140.27" cy="61.27" r="2.2"/><circle cx="141.1" cy="61.54" r="2.2"/><circle cx="141.93" cy="56.95" r="2.2"/><circle cx="142.75" cy="55.15" r="2.2"/><circle cx="143.58" cy="58.24" r="2.2"/><circle cx="144.4" cy="59.05" r="2.2"/><circle cx="145.23" cy="53.42" r="2.2"/><circle cx="146.06" cy="52.68" r="2.2"/><circle cx="146.88" cy="52.33" r="2.2"/><circle cx="147.71" cy="50.98" r="2.2"/><circle cx="148.53" cy="53.53" r="2.2"/><circle cx="149.36" cy="51.61" r="2.2"/><circle cx="150.19" cy="52.86" r="2.2"/><circle cx="151.01" cy="52.19" r="2.2"/><circle cx="151.84" cy="47.53" r="2.2"/><circle cx="152.67" cy="49.55" r="2.2"/><circle cx="153.49" cy="44.01" r="2.2"/><circle cx="154.32" cy="46.97" r="2.2"/><circle cx="155.14" cy="47.5" r="2.2"/><circle cx="155.97" cy="44.5" r="2.2"/><circle cx="156.8" cy="42.22" r="2.2"/><circle cx="157.62" cy="43.78" r="2.2"/><circle cx="158.45" cy="45.99" r="2.2"/><circle cx="159.28" cy="42.8" r="2.2"/><circle cx="160.1" cy="40.58" r="2.2"/><circle cx="160.93" cy="43.1" r="2.2"/><circle cx="161.75" cy="43.02" r="2.2"/><circle cx="162.58" cy="39.55" r="2.2"/><circle cx="162.58" cy="40.99" r="2.2"/><circle cx="165.1" cy="41.5" r="2.2"/><circle cx="167.63" cy="38.88" r="2.2"/><circle cx="170.15" cy="38.16" r="2.2"/><circle cx="172.68" cy="35.19" r="2.2"/><circle cx="175.2" cy="34.33" r="2.2"/><circle cx="177.73" cy="31.54" r="2.2"/><circle cx="180.25" cy="31.26" r="2.2"/><circle cx="182.78" cy="34.07" r="2.2"/><circle cx="185.3" cy="29.96" r="2.2"/><circle cx="187.83" cy="28.34" r="2.2"/><circle cx="190.35" cy="28.31" r="2.2"/><circle cx="192.87" cy="26.66" r="2.2"/><circle cx="195.4" cy="28.6" r="2.2"/><circle cx="197.92" cy="28.65" r="2.2"/><circle cx="200.45" cy="24.99" r="2.2"/><circle cx="202.97" cy="27.74" r="2.2"/><circle cx="205.5" cy="29.05" r="2.2"/><circle cx="208.02" cy="23.35" r="2.2"/><circle cx="210.55" cy="25.8" r="2.2"/><circle cx="213.07" cy="24.71" r="2.2"/><circle cx="215.59" cy="26.14" r="2.2"/><circle cx="218.12" cy="25.67" r="2.2"/><circle cx="220.64" cy="25.07" r="2.2"/><circle cx="223.17" cy="23.46" r="2.2"/><circle cx="225.69" cy="21.98" r="2.2"/><circle cx="228.22" cy="26.11" r="2.2"/><circle cx="230.74" cy="20.85" r="2.2"/><circle cx="233.27" cy="23.81" r="2.2"/><circle cx="235.79" cy="23.41" r="2.2"/><circle cx="238.32" cy="20.34" r="2.2"/><circle cx="240.84" cy="21.4" r="2.2"/><circle cx="243.36" cy="23.63" r="2.2"/><circle cx="245.89" cy="17.91" r="2.2"/><circle cx="248.41" cy="22.21" r="2.2"/><circle cx="250.94" cy="20.25" r="2.2"/><circle cx="253.46" cy="20.2" r="2.2"/><circle cx="255.99" cy="18.09" r="2.2"/><circle cx="258.51" cy="21.05" r="2.2"/><circle cx="261.04" cy="18.54" r="2.2"/><circle cx="263.56" cy="21.32" r="2.2"/><circle cx="266.08" cy="18.17" r="2.2"/><circle cx="268.61" cy="21.19" r="2.2"/><circle cx="271.13" cy="20.45" r="2.2"/><circle cx="273.66" cy="16.66" r="2.2"/><circle cx="276.18" cy="19.19" r="2.2"/><circle cx="278.71" cy="19.47" r="2.2"/><circle cx="281.23" cy="15.9" r="2.2"/><circle cx="283.76" cy="18.94" r="2.2"/><circle cx="286.28" cy="20.83" r="2.2"/><circle cx="288.81" cy="18.23" r="2.2"/><circle cx="291.33" cy="21.34" r="2.2"/><circle cx="293.85" cy="17.5" r="2.2"/><circle cx="296.38" cy="17.33" r="2.2"/><circle cx="298.9" cy="20.22" r="2.2"/><circle cx="301.43" cy="20.28" r="2.2"/><circle cx="303.95" cy="18.93" r="2.2"/><circle cx="306.48" cy="19.16" r="2.2"/><circle cx="309" cy="20.77" r="2.2"/><circle cx="311.53" cy="18.2" r="2.2"/><circle cx="314.05" cy="22.47" r="2.2"/><circle cx="316.57" cy="19.8" r="2.2"/><circle cx="319.1" cy="19.74" r="2.2"/><circle cx="321.62" cy="19.5" r="2.2"/><circle cx="324.15" cy="18.53" r="2.2"/><circle cx="326.67" cy="21.04" r="2.2"/><circle cx="329.2" cy="18.03" r="2.2"/><circle cx="331.72" cy="19.29" r="2.2"/><circle cx="334.25" cy="20.05" r="2.2"/><circle cx="336.77" cy="21.21" r="2.2"/></g>
<polyline points="47.83,7.44 48.41,7.44 48.99,7.45 49.57,7.46 50.15,7.48 50.73,7.5 51.31,7.53 51.89,7.57 52.47,7.62 53.05,7.69 53.62,7.77 54.2,7.88 54.78,8.01 55.36,8.19 55.94,8.4 56.52,8.67 57.1,9 57.68,9.4 58.26,9.89 58.84,10.48 59.42,11.18 60,12.02 60.58,13.01 61.16,14.17 61.74,15.52 62.32,17.07 62.9,18.85 63.48,20.88 64.06,23.15 64.64,25.7 65.21,28.54 65.79,31.66 66.37,35.06 66.95,38.76 67.53,42.74 68.11,46.98 68.69,51.47 69.27,56.18 69.85,61.07 70.43,66.12 71.01,71.28 71.59,76.51 72.17,81.74 72.75,86.95 73.33,92.06 73.91,97.02 74.49,101.79 75.07,106.32 75.65,110.55 76.23,114.46 76.8,117.99 77.38,121.14 77.96,123.86 78.54,126.16 79.12,128.02 79.7,129.44 80.28,130.44 80.86,131.02 81.44,131.2 82.02,131.01 82.6,130.48 83.18,129.64 83.76,128.52 84.34,127.16 84.92,125.58 85.5,123.84 86.08,121.95 86.66,119.95 87.24,117.87 87.82,115.73 88.39,113.56 88.97,111.38 89.55,109.2 90.13,107.04 90.71,104.91 91.29,102.82 91.87,100.78 92.45,98.79 93.03,96.85 93.61,94.96 94.19,93.14 94.77,91.36 95.35,89.65 95.93,87.98 96.51,86.37 97.09,84.8 97.67,83.28 98.25,81.8 98.83,80.36 99.41,78.96 99.98,77.59 100.56,76.26 101.14,74.96 101.72,73.69 102.3,72.45 102.88,71.23 103.46,70.05 104.04,68.88 104.62,67.74 105.2,66.63 105.78,65.53 106.36,64.46 106.94,63.41 107.52,62.38 108.1,61.36 108.68,60.37 109.26,59.4 109.84,58.44 110.42,57.5 111,56.58 111.57,55.68 112.15,54.79 112.73,53.92 113.31,53.06 113.89,52.22 114.47,51.4 115.05,50.59 115.63,49.8 116.21,49.02 116.79,48.26 117.37,47.51 117.95,46.77 118.53,46.05 119.11,45.34 119.69,44.64 120.27,43.96 120.85,43.28 121.43,42.63 122.01,41.98 122.59,41.34 123.16,40.72 123.74,40.11 124.32,39.51 124.9,38.92 125.48,38.34 126.06,37.77 126.64,37.21 127.22,36.67 127.8,36.13 128.38,35.6 128.96,35.08 129.54,34.58 130.12,34.08 130.7,33.59 131.28,33.11 131.86,32.63 132.44,32.17 133.02,31.72 133.6,31.27 134.18,30.83 134.75,30.4 135.33,29.98 135.91,29.56 136.49,29.16 137.07,28.76 137.65,28.37 138.23,27.98 138.81,27.6 139.39,27.23 139.97,26.87 140.55,26.51 141.13,26.16 141.71,25.82 142.29,25.48 142.87,25.15 143.45,24.82 144.03,24.5 144.61,24.19 145.19,23.88 145.77,23.58 146.34,23.28 146.92,22.99 147.5,22.7 148.08,22.42 148.66,22.14 149.24,21.87 149.82,21.61 150.4,21.35 150.98,21.09 151.56,20.84 152.14,20.59 152.72,20.35 153.3,20.11 153.88,19.88 154.46,19.65 155.04,19.43 155.62,19.21 156.2,18.99 156.78,18.78 157.36,18.57 157.93,18.36 158.51,18.16 159.09,17.97 159.67,17.77 160.25,17.58 160.83,17.39 161.41,17.21 161.99,17.03 162.57,16.85 163.15,16.68 163.73,16.51 164.31,16.34 164.89,16.18 165.47,16.02 166.05,15.86 166.63,15.71 167.21,15.55 167.79,15.4 168.37,15.26 168.95,15.11 169.52,14.97 170.1,14.83 170.68,14.7 171.26,14.56 171.84,14.43 172.42,14.3 173,14.18 173.58,14.05 174.16,13.93 174.74,13.81 175.32,13.69 175.9,13.58 176.48,13.47 177.06,13.35 177.64,13.24 178.22,13.14 178.8,13.03 179.38,12.93 179.96,12.83 180.54,12.73 181.11,12.63 181.69,12.54 182.27,12.44 182.85,12.35 183.43,12.26 184.01,12.17 184.59,12.08 185.17,12 185.75,11.91 186.33,11.83 186.91,11.75 187.49,11.67 188.07,11.59 188.65,11.51 189.23,11.44 189.81,11.37 190.39,11.29 190.97,11.22 191.55,11.15 192.13,11.08 192.7,11.02 193.28,10.95 193.86,10.89 194.44,10.82 195.02,10.76 195.6,10.7 196.18,10.64 196.76,10.58 197.34,10.52 197.92,10.46 198.5,10.41 199.08,10.35 199.66,10.3 200.24,10.25 200.82,10.19 201.4,10.14 201.98,10.09 202.56,10.04 203.14,10 203.72,9.95 204.29,9.9 204.87,9.86 205.45,9.81 206.03,9.77 206.61,9.72 207.19,9.68 207.77,9.64 208.35,9.6 208.93,9.56 209.51,9.52 210.09,9.48 210.67,9.44 211.25,9.41 211.83,9.37 212.41,9.33 212.99,9.3 213.57,9.26 214.15,9.23 214.73,9.2 215.31,9.16 215.88,9.13 216.46,9.1 217.04,9.07 217.62,9.04 218.2,9.01 218.78,8.98 219.36,8.95 219.94,8.92 220.52,8.9 221.1,8.87 221.68,8.84 222.26,8.82 222.84,8.79 223.42,8.76 224,8.74 224.58,8.72 225.16,8.69 225.74,8.67 226.32,8.65 226.9,8.62 227.47,8.6 228.05,8.58 228.63,8.56 229.21,8.54 229.79,8.52 230.37,8.5 230.95,8.48 231.53,8.46 232.11,8.44 232.69,8.42 233.27,8.4 233.85,8.38 234.43,8.37 235.01,8.35 235.59,8.33 236.17,8.31 236.75,8.3 237.33,8.28 237.91,8.27 238.49,8.25 239.06,8.23 239.64,8.22 240.22,8.2 240.8,8.19 241.38,8.18 241.96,8.16 242.54,8.15 243.12,8.14 243.7,8.12 244.28,8.11 244.86,8.1 245.44,8.08 246.02,8.07 246.6,8.06 247.18,8.05 247.76,8.04 248.34,8.03 248.92,8.01 249.5,8 250.08,7.99 250.65,7.98 251.23,7.97 251.81,7.96 252.39,7.95 252.97,7.94 253.55,7.93 254.13,7.92 254.71,7.91 255.29,7.9 255.87,7.9 256.45,7.89 257.03,7.88 257.61,7.87 258.19,7.86 258.77,7.85 259.35,7.84 259.93,7.84 260.51,7.83 261.09,7.82 261.67,7.81 262.24,7.81 262.82,7.8 263.4,7.79 263.98,7.79 264.56,7.78 265.14,7.77 265.72,7.77 266.3,7.76 266.88,7.75 267.46,7.75 268.04,7.74 268.62,7.74 269.2,7.73 269.78,7.72 270.36,7.72 270.94,7.71 271.52,7.71 272.1,7.7 272.68,7.7 273.26,7.69 273.83,7.69 274.41,7.68 274.99,7.68 275.57,7.67 276.15,7.67 276.73,7.66 277.31,7.66 277.89,7.65 278.47,7.65 279.05,7.65 279.63,7.64 280.21,7.64 280.79,7.63 281.37,7.63 281.95,7.63 282.53,7.62 283.11,7.62 283.69,7.61 284.27,7.61 284.85,7.61 285.42,7.6 286,7.6 286.58,7.6 287.16,7.59 287.74,7.59 288.32,7.59 288.9,7.58 289.48,7.58 290.06,7.58 290.64,7.58 291.22,7.57 291.8,7.57 292.38,7.57 292.96,7.56 293.54,7.56 294.12,7.56 294.7,7.56 295.28,7.55 295.86,7.55 296.44,7.55 297.01,7.55 297.59,7.54 298.17,7.54 298.75,7.54 299.33,7.54 299.91,7.53 300.49,7.53 301.07,7.53 301.65,7.53 302.23,7.53 302.81,7.52 303.39,7.52 303.97,7.52 304.55,7.52 305.13,7.52 305.71,7.52 306.29,7.51 306.87,7.51 307.45,7.51 308.03,7.51 308.6,7.51 309.18,7.51 309.76,7.5 310.34,7.5 310.92,7.5 311.5,7.5 312.08,7.5 312.66,7.5 313.24,7.49 313.82,7.49 314.4,7.49 314.98,7.49 315.56,7.49 316.14,7.49 316.72,7.49 317.3,7.49 317.88,7.48 318.46,7.48 319.04,7.48 319.62,7.48 320.19,7.48 320.77,7.48 321.35,7.48 321.93,7.48 322.51,7.48 323.09,7.47 323.67,7.47 324.25,7.47 324.83,7.47 325.41,7.47 325.99,7.47 326.57,7.47 327.15,7.47 327.73,7.47 328.31,7.47 328.89,7.46 329.47,7.46 330.05,7.46 330.63,7.46 331.21,7.46 331.78,7.46 332.36,7.46 332.94,7.46 333.52,7.46 334.1,7.46 334.68,7.46 335.26,7.46 335.84,7.46 336.42,7.45 337,7.45" fill="none" stroke="#000000" stroke-width="1.1"/>
<polyline points="47.83,8.59 48.41,8.59 48.99,8.6 49.57,8.61 50.15,8.62 50.73,8.64 51.31,8.66 51.89,8.69 52.47,8.73 53.05,8.78 53.62,8.84 54.2,8.93 54.78,9.04 55.36,9.18 55.94,9.36 56.52,9.59 57.1,9.88 57.68,10.23 58.26,10.66 58.84,11.19 59.42,11.83 60,12.6 60.58,13.52 61.16,14.6 61.74,15.86 62.32,17.34 62.9,19.04 63.48,20.98 64.06,23.19 64.64,25.67 65.21,28.45 65.79,31.52 66.37,34.9 66.95,38.58 67.53,42.55 68.11,46.81 68.69,51.33 69.27,56.09 69.85,61.06 70.43,66.2 71.01,71.48 71.59,76.84 72.17,82.24 72.75,87.62 73.33,92.93 73.91,98.12 74.49,103.13 75.07,107.93 75.65,112.45 76.23,116.67 76.8,120.54 77.38,124.04 77.96,127.15 78.54,129.84 79.12,132.12 79.7,133.98 80.28,135.42 80.86,136.46 81.44,137.11 82.02,137.39 82.6,137.33 83.18,136.95 83.76,136.28 84.34,135.35 84.92,134.2 85.5,132.84 86.08,131.32 86.66,129.65 87.24,127.86 87.82,125.98 88.39,124.02 88.97,122.01 89.55,119.97 90.13,117.9 90.71,115.82 91.29,113.74 91.87,111.67 92.45,109.62 93.03,107.59 93.61,105.59 94.19,103.62 94.77,101.68 95.35,99.78 95.93,97.92 96.51,96.09 97.09,94.3 97.67,92.56 98.25,90.85 98.83,89.17 99.41,87.54 99.98,85.94 100.56,84.38 101.14,82.86 101.72,81.36 102.3,79.91 102.88,78.49 103.46,77.09 104.04,75.74 104.62,74.41 105.2,73.11 105.78,71.84 106.36,70.6 106.94,69.39 107.52,68.21 108.1,67.05 108.68,65.92 109.26,64.81 109.84,63.73 110.42,62.67 111,61.64 111.57,60.63 112.15,59.64 112.73,58.68 113.31,57.73 113.89,56.81 114.47,55.91 115.05,55.02 115.63,54.16 116.21,53.32 116.79,52.49 117.37,51.68 117.95,50.89 118.53,50.12 119.11,49.36 119.69,48.62 120.27,47.9 120.85,47.19 121.43,46.5 122.01,45.82 122.59,45.16 123.16,44.51 123.74,43.87 124.32,43.25 124.9,42.64 125.48,42.05 126.06,41.46 126.64,40.89 127.22,40.34 127.8,39.79 128.38,39.25 128.96,38.73 129.54,38.22 130.12,37.71 130.7,37.22 131.28,36.74 131.86,36.27 132.44,35.81 133.02,35.35 133.6,34.91 134.18,34.48 134.75,34.05 135.33,33.64 135.91,33.23 136.49,32.83 137.07,32.44 137.65,32.06 138.23,31.68 138.81,31.31 139.39,30.95 139.97,30.6 140.55,30.25 141.13,29.92 141.71,29.58 142.29,29.26 142.87,28.94 143.45,28.63 144.03,28.32 144.61,28.02 145.19,27.72 145.77,27.44 146.34,27.15 146.92,26.88 147.5,26.6 148.08,26.34 148.66,26.08 149.24,25.82 149.82,25.57 150.4,25.32 150.98,25.08 151.56,24.84 152.14,24.61 152.72,24.38 153.3,24.16 153.88,23.94 154.46,23.73 155.04,23.52 155.62,23.31 156.2,23.11 156.78,22.91 157.36,22.71 157.93,22.52 158.51,22.33 159.09,22.15 159.67,21.97 160.25,21.79 160.83,21.62 161.41,21.45 161.99,21.28 162.57,21.11 163.15,20.95 163.73,20.8 164.31,20.64 164.89,20.49 165.47,20.34 166.05,20.19 166.63,20.05 167.21,19.9 167.79,19.77 168.37,19.63 168.95,19.5 169.52,19.36 170.1,19.24 170.68,19.11 171.26,18.98 171.84,18.86 172.42,18.74 173,18.62 173.58,18.51 174.16,18.4 174.74,18.28 175.32,18.17 175.9,18.07 176.48,17.96 177.06,17.86 177.64,17.76 178.22,17.66 178.8,17.56 179.38,17.46 179.96,17.37 180.54,17.27 181.11,17.18 181.69,17.09 182.27,17 182.85,16.92 183.43,16.83 184.01,16.75 184.59,16.67 185.17,16.59 185.75,16.51 186.33,16.43 186.91,16.35 187.49,16.28 188.07,16.2 188.65,16.13 189.23,16.06 189.81,15.99 190.39,15.92 190.97,15.85 191.55,15.78 192.13,15.72 192.7,15.66 193.28,15.59 193.86,15.53 194.44,15.47 195.02,15.41 195.6,15.35 196.18,15.29 196.76,15.23 197.34,15.18 197.92,15.12 198.5,15.07 199.08,15.02 199.66,14.96 200.24,14.91 200.82,14.86 201.4,14.81 201.98,14.76 202.56,14.72 203.14,14.67 203.72,14.62 204.29,14.58 204.87,14.53 205.45,14.49 206.03,14.44 206.61,14.4 207.19,14.36 207.77,14.32 208.35,14.28 208.93,14.24 209.51,14.2 210.09,14.16 210.67,14.12 211.25,14.08 211.83,14.05 212.41,14.01 212.99,13.98 213.57,13.94 214.15,13.91 214.73,13.87 215.31,13.84 215.88,13.81 216.46,13.78 217.04,13.74 217.62,13.71 218.2,13.68 218.78,13.65 219.36,13.62 219.94,13.59 220.52,13.56 221.1,13.54 221.68,13.51 222.26,13.48 222.84,13.46 223.42,13.43 224,13.4 224.58,13.38 225.16,13.35 225.74,13.33 226.32,13.3 226.9,13.28 227.47,13.26 228.05,13.23 228.63,13.21 229.21,13.19 229.79,13.17 230.37,13.14 230.95,13.12 231.53,13.1 232.11,13.08 232.69,13.06 233.27,13.04 233.85,13.02 234.43,13 235.01,12.98 235.59,12.96 236.17,12.95 236.75,12.93 237.33,12.91 237.91,12.89 238.49,12.87 239.06,12.86 239.64,12.84 240.22,12.82 240.8,12.81 241.38,12.79 241.96,12.78 242.54,12.76 243.12,12.75 243.7,12.73 244.28,12.72 244.86,12.7 245.44,12.69 246.02,12.67 246.6,12.66 247.18,12.65 247.76,12.63 248.34,12.62 248.92,12.61 249.5,12.59 250.08,12.58 250.65,12.57 251.23,12.56 251.81,12.55 252.39,12.53 252.97,12.52 253.55,12.51 254.13,12.5 254.71,12.49 255.29,12.48 255.87,12.47 256.45,12.46 257.03,12.45 257.61,12.44 258.19,12.43 258.77,12.42 259.35,12.41 259.93,12.4 260.51,12.39 261.09,12.38 261.67,12.37 262.24,12.36 262.82,12.35 263.4,12.34 263.98,12.33 264.56,12.33 265.14,12.32 265.72,12.31 266.3,12.3 266.88,12.29 267.46,12.28 268.04,12.28 268.62,12.27 269.2,12.26 269.78,12.25 270.36,12.25 270.94,12.24 271.52,12.23 272.1,12.23 272.68,12.22 273.26,12.21 273.83,12.21 274.41,12.2 274.99,12.19 275.57,12.19 276.15,12.18 276.73,12.18 277.31,12.17 277.89,12.16 278.47,12.16 279.05,12.15 279.63,12.15 280.21,12.14 280.79,12.14 281.37,12.13 281.95,12.12 282.53,12.12 283.11,12.11 283.69,12.11 284.27,12.1 284.85,12.1 285.42,12.09 286,12.09 286.58,12.09 287.16,12.08 287.74,12.08 288.32,12.07 288.9,12.07 289.48,12.06 290.06,12.06 290.64,12.05 291.22,12.05 291.8,12.05 292.38,12.04 292.96,12.04 293.54,12.03 294.12,12.03 294.7,12.03 295.28,12.02 295.86,12.02 296.44,12.02 297.01,12.01 297.59,12.01 298.17,12.01 298.75,12 299.33,12 299.91,12 300.49,11.99 301.07,11.99 301.65,11.99 302.23,11.98 302.81,11.98 303.39,11.98 303.97,11.97 304.55,11.97 305.13,11.97 305.71,11.97 306.29,11.96 306.87,11.96 307.45,11.96 308.03,11.96 308.6,11.95 309.18,11.95 309.76,11.95 310.34,11.95 310.92,11.94 311.5,11.94 312.08,11.94 312.66,11.94 313.24,11.93 313.82,11.93 314.4,11.93 314.98,11.93 315.56,11.92 316.14,11.92 316.72,11.92 317.3,11.92 317.88,11.92 318.46,11.91 319.04,11.91 319.62,11.91 320.19,11.91 320.77,11.91 321.35,11.91 321.93,11.9 322.51,11.9 323.09,11.9 323.67,11.9 324.25,11.9 324.83,11.89 325.41,11.89 325.99,11.89 326.57,11.89 327.15,11.89 327.73,11.89 328.31,11.89 328.89,11.88 329.47,11.88 330.05,11.88 330.63,11.88 331.21,11.88 331.78,11.88 332.36,11.88 332.94,11.87 333.52,11.87 334.1,11.87 334.68,11.87 335.26,11.87 335.84,11.87 336.42,11.87 337,11.87" fill="none" stroke="#e01010" stroke-width="1.1"/>
<polyline points="47.83,7.84 48.41,7.85 48.99,7.86 49.57,7.87 50.15,7.88 50.73,7.89 51.31,7.92 51.89,7.95 52.47,7.98 53.05,8.03 53.62,8.09 54.2,8.17 54.78,8.27 55.36,8.39 55.94,8.55 56.52,8.74 57.1,8.98 57.68,9.27 58.26,9.63 58.84,10.06 59.42,10.57 60,11.19 60.58,11.93 61.16,12.79 61.74,13.81 62.32,14.98 62.9,16.35 63.48,17.91 64.06,19.7 64.64,21.72 65.21,24 65.79,26.55 66.37,29.37 66.95,32.49 67.53,35.9 68.11,39.61 68.69,43.61 69.27,47.9 69.85,52.47 70.43,57.3 71.01,62.36 71.59,67.62 72.17,73.05 72.75,78.62 73.33,84.28 73.91,89.98 74.49,95.67 75.07,101.3 75.65,106.83 76.23,112.19 76.8,117.34 77.38,122.24 77.96,126.83 78.54,131.08 79.12,134.96 79.7,138.43 80.28,141.47 80.86,144.08 81.44,146.23 82.02,147.94 82.6,149.2 83.18,150.03 83.76,150.44 84.34,150.45 84.92,150.1 85.5,149.4 86.08,148.4 86.66,147.12 87.24,145.59 87.82,143.86 88.39,141.96 88.97,139.91 89.55,137.76 90.13,135.52 90.71,133.22 91.29,130.88 91.87,128.54 92.45,126.19 93.03,123.87 93.61,121.57 94.19,119.31 94.77,117.1 95.35,114.95 95.93,112.85 96.51,110.8 97.09,108.82 97.67,106.9 98.25,105.03 98.83,103.23 99.41,101.47 99.98,99.77 100.56,98.12 101.14,96.51 101.72,94.95 102.3,93.43 102.88,91.95 103.46,90.51 104.04,89.1 104.62,87.73 105.2,86.38 105.78,85.07 106.36,83.78 106.94,82.52 107.52,81.28 108.1,80.07 108.68,78.88 109.26,77.71 109.84,76.57 110.42,75.44 111,74.34 111.57,73.25 112.15,72.19 112.73,71.14 113.31,70.11 113.89,69.1 114.47,68.11 115.05,67.13 115.63,66.17 116.21,65.23 116.79,64.3 117.37,63.39 117.95,62.49 118.53,61.61 119.11,60.75 119.69,59.9 120.27,59.06 120.85,58.24 121.43,57.43 122.01,56.63 122.59,55.85 123.16,55.09 123.74,54.33 124.32,53.59 124.9,52.86 125.48,52.14 126.06,51.44 126.64,50.75 127.22,50.06 127.8,49.39 128.38,48.74 128.96,48.09 129.54,47.45 130.12,46.83 130.7,46.21 131.28,45.61 131.86,45.02 132.44,44.43 133.02,43.86 133.6,43.29 134.18,42.74 134.75,42.19 135.33,41.66 135.91,41.13 136.49,40.61 137.07,40.1 137.65,39.6 138.23,39.11 138.81,38.63 139.39,38.15 139.97,37.69 140.55,37.23 141.13,36.77 141.71,36.33 142.29,35.89 142.87,35.46 143.45,35.04 144.03,34.63 144.61,34.22 145.19,33.82 145.77,33.43 146.34,33.04 146.92,32.66 147.5,32.28 148.08,31.92 148.66,31.55 149.24,31.2 149.82,30.85 150.4,30.51 150.98,30.17 151.56,29.84 152.14,29.51 152.72,29.19 153.3,28.87 153.88,28.56 154.46,28.26 155.04,27.96 155.62,27.67 156.2,27.38 156.78,27.09 157.36,26.81 157.93,26.54 158.51,26.27 159.09,26 159.67,25.74 160.25,25.48 160.83,25.23 161.41,24.98 161.99,24.74 162.57,24.5 163.15,24.26 163.73,24.03 164.31,23.8 164.89,23.58 165.47,23.36 166.05,23.14 166.63,22.93 167.21,22.72 167.79,22.52 168.37,22.31 168.95,22.11 169.52,21.92 170.1,21.73 170.68,21.54 171.26,21.35 171.84,21.17 172.42,20.99 173,20.82 173.58,20.64 174.16,20.47 174.74,20.3 175.32,20.14 175.9,19.98 176.48,19.82 177.06,19.66 177.64,19.51 178.22,19.36 178.8,19.21 179.38,19.06 179.96,18.92 180.54,18.78 181.11,18.64 181.69,18.5 182.27,18.37 182.85,18.24 183.43,18.11 184.01,17.98 184.59,17.86 185.17,17.73 185.75,17.61 186.33,17.49 186.91,17.38 187.49,17.26 188.07,17.15 188.65,17.04 189.23,16.93 189.81,16.82 190.39,16.72 190.97,16.61 191.55,16.51 192.13,16.41 192.7,16.31 193.28,16.21 193.86,16.12 194.44,16.03 195.02,15.93 195.6,15.84 196.18,15.75 196.76,15.67 197.34,15.58 197.92,15.5 198.5,15.41 199.08,15.33 199.66,15.25 200.24,15.17 200.82,15.09 201.4,15.02 201.98,14.94 202.56,14.87 203.14,14.8 203.72,14.73 204.29,14.66 204.87,14.59 205.45,14.52 206.03,14.45 206.61,14.39 207.19,14.32 207.77,14.26 208.35,14.2 208.93,14.14 209.51,14.08 210.09,14.02 210.67,13.96 211.25,13.9 211.83,13.85 212.41,13.79 212.99,13.74 213.57,13.69 214.15,13.63 214.73,13.58 215.31,13.53 215.88,13.48 216.46,13.43 217.04,13.39 217.62,13.34 218.2,13.29 218.78,13.25 219.36,13.2 219.94,13.16 220.52,13.11 221.1,13.07 221.68,13.03 222.26,12.99 222.84,12.95 223.42,12.91 224,12.87 224.58,12.83 225.16,12.79 225.74,12.76 226.32,12.72 226.9,12.68 227.47,12.65 228.05,12.61 228.63,12.58 229.21,12.55 229.79,12.51 230.37,12.48 230.95,12.45 231.53,12.42 232.11,12.39 232.69,12.36 233.27,12.33 233.85,12.3 234.43,12.27 235.01,12.24 235.59,12.21 236.17,12.19 236.75,12.16 237.33,12.13 237.91,12.11 238.49,12.08 239.06,12.06 239.64,12.03 240.22,12.01 240.8,11.98 241.38,11.96 241.96,11.94 242.54,11.91 243.12,11.89 243.7,11.87 244.28,11.85 244.86,11.83 245.44,11.81 246.02,11.79 246.6,11.77 247.18,11.75 247.76,11.73 248.34,11.71 248.92,11.69 249.5,11.67 250.08,11.65 250.65,11.63 251.23,11.62 251.81,11.6 252.39,11.58 252.97,11.57 253.55,11.55 254.13,11.53 254.71,11.52 255.29,11.5 255.87,11.49 256.45,11.47 257.03,11.46 257.61,11.44 258.19,11.43 258.77,11.41 259.35,11.4 259.93,11.39 260.51,11.37 261.09,11.36 261.67,11.35 262.24,11.34 262.82,11.32 263.4,11.31 263.98,11.3 264.56,11.29 265.14,11.28 265.72,11.26 266.3,11.25 266.88,11.24 267.46,11.23 268.04,11.22 268.62,11.21 269.2,11.2 269.78,11.19 270.36,11.18 270.94,11.17 271.52,11.16 272.1,11.15 272.68,11.14 273.26,11.13 273.83,11.12 274.41,11.11 274.99,11.11 275.57,11.1 276.15,11.09 276.73,11.08 277.31,11.07 277.89,11.06 278.47,11.06 279.05,11.05 279.63,11.04 280.21,11.03 280.79,11.03 281.37,11.02 281.95,11.01 282.53,11.01 283.11,11 283.69,10.99 284.27,10.99 284.85,10.98 285.42,10.97 286,10.97 286.58,10.96 287.16,10.95 287.74,10.95 288.32,10.94 288.9,10.94 289.48,10.93 290.06,10.93 290.64,10.92 291.22,10.91 291.8,10.91 292.38,10.9 292.96,10.9 293.54,10.89 294.12,10.89 294.7,10.88 295.28,10.88 295.86,10.87 296.44,10.87 297.01,10.87 297.59,10.86 298.17,10.86 298.75,10.85 299.33,10.85 299.91,10.84 300.49,10.84 301.07,10.84 301.65,10.83 302.23,10.83 302.81,10.82 303.39,10.82 303.97,10.82 304.55,10.81 305.13,10.81 305.71,10.81 306.29,10.8 306.87,10.8 307.45,10.8 308.03,10.79 308.6,10.79 309.18,10.79 309.76,10.78 310.34,10.78 310.92,10.78 311.5,10.77 312.08,10.77 312.66,10.77 313.24,10.77 313.82,10.76 314.4,10.76 314.98,10.76 315.56,10.76 316.14,10.75 316.72,10.75 317.3,10.75 317.88,10.75 318.46,10.74 319.04,10.74 319.62,10.74 320.19,10.74 320.77,10.73 321.35,10.73 321.93,10.73 322.51,10.73 323.09,10.72 323.67,10.72 324.25,10.72 324.83,10.72 325.41,10.72 325.99,10.71 326.57,10.71 327.15,10.71 327.73,10.71 328.31,10.71 328.89,10.71 329.47,10.7 330.05,10.7 330.63,10.7 331.21,10.7 331.78,10.7 332.36,10.7 332.94,10.69 333.52,10.69 334.1,10.69 334.68,10.69 335.26,10.69 335.84,10.69 336.42,10.69 337,10.68" fill="none" stroke="#0000e0" stroke-width="1.1"/>
<polyline points="47.83,6.2 48.41,6.2 48.99,6.21 49.57,6.22 50.15,6.24 50.73,6.26 51.31,6.29 51.89,6.33 52.47,6.38 53.05,6.44 53.62,6.53 54.2,6.64 54.78,6.78 55.36,6.95 55.94,7.18 56.52,7.45 57.1,7.8 57.68,8.23 58.26,8.75 58.84,9.39 59.42,10.16 60,11.08 60.58,12.18 61.16,13.48 61.74,15.01 62.32,16.79 62.9,18.85 63.48,21.22 64.06,23.93 64.64,26.99 65.21,30.43 65.79,34.27 66.37,38.52 66.95,43.2 67.53,48.3 68.11,53.83 68.69,59.77 69.27,66.1 69.85,72.79 70.43,79.82 71.01,87.13 71.59,94.67 72.17,102.39 72.75,110.23 73.33,118.1 73.91,125.94 74.49,133.68 75.07,141.24 75.65,148.54 76.23,155.52 76.8,162.1 77.38,168.23 77.96,173.86 78.54,178.95 79.12,183.45 79.7,187.35 80.28,190.63 80.86,193.29 81.44,195.33 82.02,196.77 82.6,197.63 83.18,197.94 83.76,197.74 84.34,197.08 84.92,195.98 85.5,194.51 86.08,192.7 86.66,190.61 87.24,188.28 87.82,185.75 88.39,183.07 88.97,180.28 89.55,177.41 90.13,174.48 90.71,171.54 91.29,168.59 91.87,165.66 92.45,162.77 93.03,159.92 93.61,157.12 94.19,154.39 94.77,151.72 95.35,149.12 95.93,146.59 96.51,144.13 97.09,141.73 97.67,139.4 98.25,137.13 98.83,134.93 99.41,132.78 99.98,130.68 100.56,128.64 101.14,126.64 101.72,124.69 102.3,122.79 102.88,120.92 103.46,119.1 104.04,117.31 104.62,115.55 105.2,113.84 105.78,112.15 106.36,110.49 106.94,108.87 107.52,107.27 108.1,105.71 108.68,104.17 109.26,102.65 109.84,101.17 110.42,99.71 111,98.27 111.57,96.86 112.15,95.47 112.73,94.11 113.31,92.77 113.89,91.45 114.47,90.16 115.05,88.88 115.63,87.63 116.21,86.4 116.79,85.19 117.37,84 117.95,82.83 118.53,81.68 119.11,80.55 119.69,79.43 120.27,78.34 120.85,77.27 121.43,76.21 122.01,75.17 122.59,74.15 123.16,73.14 123.74,72.16 124.32,71.18 124.9,70.23 125.48,69.29 126.06,68.37 126.64,67.46 127.22,66.57 127.8,65.69 128.38,64.83 128.96,63.98 129.54,63.15 130.12,62.33 130.7,61.52 131.28,60.73 131.86,59.95 132.44,59.18 133.02,58.43 133.6,57.69 134.18,56.96 134.75,56.24 135.33,55.54 135.91,54.85 136.49,54.17 137.07,53.5 137.65,52.84 138.23,52.19 138.81,51.56 139.39,50.93 139.97,50.32 140.55,49.71 141.13,49.12 141.71,48.53 142.29,47.96 142.87,47.39 143.45,46.84 144.03,46.29 144.61,45.75 145.19,45.23 145.77,44.71 146.34,44.2 146.92,43.7 147.5,43.2 148.08,42.72 148.66,42.24 149.24,41.77 149.82,41.31 150.4,40.86 150.98,40.41 151.56,39.97 152.14,39.54 152.72,39.12 153.3,38.7 153.88,38.29 154.46,37.89 155.04,37.49 155.62,37.1 156.2,36.72 156.78,36.34 157.36,35.97 157.93,35.61 158.51,35.25 159.09,34.9 159.67,34.56 160.25,34.22 160.83,33.88 161.41,33.55 161.99,33.23 162.57,32.91 163.15,32.6 163.73,32.29 164.31,31.99 164.89,31.69 165.47,31.4 166.05,31.11 166.63,30.83 167.21,30.55 167.79,30.28 168.37,30.01 168.95,29.75 169.52,29.49 170.1,29.24 170.68,28.98 171.26,28.74 171.84,28.5 172.42,28.26 173,28.02 173.58,27.79 174.16,27.57 174.74,27.34 175.32,27.12 175.9,26.91 176.48,26.7 177.06,26.49 177.64,26.28 178.22,26.08 178.8,25.89 179.38,25.69 179.96,25.5 180.54,25.31 181.11,25.13 181.69,24.95 182.27,24.77 182.85,24.59 183.43,24.42 184.01,24.25 184.59,24.08 185.17,23.92 185.75,23.76 186.33,23.6 186.91,23.44 187.49,23.29 188.07,23.14 188.65,22.99 189.23,22.84 189.81,22.7 190.39,22.56 190.97,22.42 191.55,22.28 192.13,22.15 192.7,22.02 193.28,21.89 193.86,21.76 194.44,21.64 195.02,21.51 195.6,21.39 196.18,21.27 196.76,21.16 197.34,21.04 197.92,20.93 198.5,20.82 199.08,20.71 199.66,20.6 200.24,20.49 200.82,20.39 201.4,20.29 201.98,20.19 202.56,20.09 203.14,19.99 203.72,19.9 204.29,19.8 204.87,19.71 205.45,19.62 206.03,19.53 206.61,19.44 207.19,19.35 207.77,19.27 208.35,19.19 208.93,19.1 209.51,19.02 210.09,18.94 210.67,18.87 211.25,18.79 211.83,18.71 212.41,18.64 212.99,18.57 213.57,18.5 214.15,18.43 214.73,18.36 215.31,18.29 215.88,18.22 216.46,18.16 217.04,18.09 217.62,18.03 218.2,17.96 218.78,17.9 219.36,17.84 219.94,17.78 220.52,17.72 221.1,17.67 221.68,17.61 222.26,17.56 222.84,17.5 223.42,17.45 224,17.39 224.58,17.34 225.16,17.29 225.74,17.24 226.32,17.19 226.9,17.14 227.47,17.1 228.05,17.05 228.63,17 229.21,16.96 229.79,16.91 230.37,16.87 230.95,16.83 231.53,16.78 232.11,16.74 232.69,16.7 233.27,16.66 233.85,16.62 234.43,16.58 235.01,16.54 235.59,16.51 236.17,16.47 236.75,16.43 237.33,16.4 237.91,16.36 238.49,16.33 239.06,16.29 239.64,16.26 240.22,16.23 240.8,16.19 241.38,16.16 241.96,16.13 242.54,16.1 243.12,16.07 243.7,16.04 244.28,16.01 244.86,15.98 245.44,15.95 246.02,15.93 246.6,15.9 247.18,15.87 247.76,15.85 248.34,15.82 248.92,15.79 249.5,15.77 250.08,15.74 250.65,15.72 251.23,15.7 251.81,15.67 252.39,15.65 252.97,15.63 253.55,15.61 254.13,15.58 254.71,15.56 255.29,15.54 255.87,15.52 256.45,15.5 257.03,15.48 257.61,15.46 258.19,15.44 258.77,15.42 259.35,15.4 259.93,15.38 260.51,15.37 261.09,15.35 261.67,15.33 262.24,15.31 262.82,15.3 263.4,15.28 263.98,15.26 264.56,15.25 265.14,15.23 265.72,15.21 266.3,15.2 266.88,15.18 267.46,15.17 268.04,15.16 268.62,15.14 269.2,15.13 269.78,15.11 270.36,15.1 270.94,15.09 271.52,15.07 272.1,15.06 272.68,15.05 273.26,15.03 273.83,15.02 274.41,15.01 274.99,15 275.57,14.99 276.15,14.97 276.73,14.96 277.31,14.95 277.89,14.94 278.47,14.93 279.05,14.92 279.63,14.91 280.21,14.9 280.79,14.89 281.37,14.88 281.95,14.87 282.53,14.86 283.11,14.85 283.69,14.84 284.27,14.83 284.85,14.82 285.42,14.81 286,14.81 286.58,14.8 287.16,14.79 287.74,14.78 288.32,14.77 288.9,14.77 289.48,14.76 290.06,14.75 290.64,14.74 291.22,14.73 291.8,14.73 292.38,14.72 292.96,14.71 293.54,14.71 294.12,14.7 294.7,14.69 295.28,14.69 295.86,14.68 296.44,14.67 297.01,14.67 297.59,14.66 298.17,14.65 298.75,14.65 299.33,14.64 299.91,14.64 300.49,14.63 301.07,14.63 301.65,14.62 302.23,14.62 302.81,14.61 303.39,14.6 303.97,14.6 304.55,14.59 305.13,14.59 305.71,14.58 306.29,14.58 306.87,14.58 307.45,14.57 308.03,14.57 308.6,14.56 309.18,14.56 309.76,14.55 310.34,14.55 310.92,14.54 311.5,14.54 312.08,14.54 312.66,14.53 313.24,14.53 313.82,14.52 314.4,14.52 314.98,14.52 315.56,14.51 316.14,14.51 316.72,14.51 317.3,14.5 317.88,14.5 318.46,14.5 319.04,14.49 319.62,14.49 320.19,14.49 320.77,14.48 321.35,14.48 321.93,14.48 322.51,14.47 323.09,14.47 323.67,14.47 324.25,14.47 324.83,14.46 325.41,14.46 325.99,14.46 326.57,14.46 327.15,14.45 327.73,14.45 328.31,14.45 328.89,14.44 329.47,14.44 330.05,14.44 330.63,14.44 331.21,14.44 331.78,14.43 332.36,14.43 332.94,14.43 333.52,14.43 334.1,14.42 334.68,14.42 335.26,14.42 335.84,14.42 336.42,14.42 337,14.41" fill="none" stroke="#6a0a0a" stroke-width="1.1"/>
<polyline points="47.83,10.63 48.41,10.66 48.99,10.7 49.57,10.75 50.15,10.82 50.73,10.9 51.31,11 51.89,11.13 52.47,11.29 53.05,11.49 53.62,11.74 54.2,12.04 54.78,12.4 55.36,12.85 55.94,13.39 56.52,14.03 57.1,14.79 57.68,15.69 58.26,16.75 58.84,17.99 59.42,19.44 60,21.1 60.58,23.02 61.16,25.2 61.74,27.68 62.32,30.48 62.9,33.61 63.48,37.11 64.06,40.97 64.64,45.23 65.21,49.88 65.79,54.93 66.37,60.39 66.95,66.24 67.53,72.48 68.11,79.09 68.69,86.04 69.27,93.29 69.85,100.82 70.43,108.58 71.01,116.51 71.59,124.57 72.17,132.69 72.75,140.8 73.33,148.86 73.91,156.78 74.49,164.5 75.07,171.96 75.65,179.09 76.23,185.85 76.8,192.16 77.38,198 77.96,203.32 78.54,208.08 79.12,212.26 79.7,215.86 80.28,218.84 80.86,221.23 81.44,223.02 82.02,224.24 82.6,224.9 83.18,225.03 83.76,224.66 84.34,223.84 84.92,222.59 85.5,220.97 86.08,219.01 86.66,216.77 87.24,214.27 87.82,211.56 88.39,208.69 88.97,205.68 89.55,202.57 90.13,199.4 90.71,196.18 91.29,192.95 91.87,189.73 92.45,186.53 93.03,183.37 93.61,180.25 94.19,177.2 94.77,174.21 95.35,171.28 95.93,168.44 96.51,165.66 97.09,162.97 97.67,160.34 98.25,157.79 98.83,155.31 99.41,152.89 99.98,150.54 100.56,148.25 101.14,146.02 101.72,143.84 102.3,141.72 102.88,139.65 103.46,137.62 104.04,135.64 104.62,133.69 105.2,131.79 105.78,129.93 106.36,128.1 106.94,126.31 107.52,124.55 108.1,122.82 108.68,121.13 109.26,119.46 109.84,117.82 110.42,116.22 111,114.63 111.57,113.08 112.15,111.55 112.73,110.05 113.31,108.57 113.89,107.11 114.47,105.68 115.05,104.28 115.63,102.89 116.21,101.53 116.79,100.19 117.37,98.87 117.95,97.58 118.53,96.3 119.11,95.05 119.69,93.81 120.27,92.6 120.85,91.41 121.43,90.23 122.01,89.07 122.59,87.94 123.16,86.82 123.74,85.72 124.32,84.63 124.9,83.57 125.48,82.52 126.06,81.49 126.64,80.48 127.22,79.48 127.8,78.5 128.38,77.53 128.96,76.58 129.54,75.64 130.12,74.72 130.7,73.82 131.28,72.93 131.86,72.05 132.44,71.19 133.02,70.34 133.6,69.51 134.18,68.69 134.75,67.88 135.33,67.09 135.91,66.31 136.49,65.54 137.07,64.78 137.65,64.04 138.23,63.3 138.81,62.58 139.39,61.88 139.97,61.18 140.55,60.49 141.13,59.82 141.71,59.15 142.29,58.5 142.87,57.86 143.45,57.23 144.03,56.6 144.61,55.99 145.19,55.39 145.77,54.8 146.34,54.22 146.92,53.64 147.5,53.08 148.08,52.52 148.66,51.98 149.24,51.44 149.82,50.91 150.4,50.39 150.98,49.88 151.56,49.38 152.14,48.88 152.72,48.4 153.3,47.92 153.88,47.45 154.46,46.98 155.04,46.53 155.62,46.08 156.2,45.64 156.78,45.2 157.36,44.78 157.93,44.36 158.51,43.94 159.09,43.53 159.67,43.13 160.25,42.74 160.83,42.35 161.41,41.97 161.99,41.6 162.57,41.23 163.15,40.86 163.73,40.51 164.31,40.16 164.89,39.81 165.47,39.47 166.05,39.14 166.63,38.81 167.21,38.48 167.79,38.16 168.37,37.85 168.95,37.54 169.52,37.24 170.1,36.94 170.68,36.65 171.26,36.36 171.84,36.07 172.42,35.79 173,35.52 173.58,35.25 174.16,34.98 174.74,34.72 175.32,34.46 175.9,34.21 176.48,33.96 177.06,33.72 177.64,33.47 178.22,33.24 178.8,33 179.38,32.77 179.96,32.55 180.54,32.32 181.11,32.11 181.69,31.89 182.27,31.68 182.85,31.47 183.43,31.26 184.01,31.06 184.59,30.86 185.17,30.67 185.75,30.48 186.33,30.29 186.91,30.1 187.49,29.92 188.07,29.74 188.65,29.56 189.23,29.39 189.81,29.22 190.39,29.05 190.97,28.88 191.55,28.72 192.13,28.56 192.7,28.4 193.28,28.24 193.86,28.09 194.44,27.94 195.02,27.79 195.6,27.65 196.18,27.5 196.76,27.36 197.34,27.23 197.92,27.09 198.5,26.95 199.08,26.82 199.66,26.69 200.24,26.56 200.82,26.44 201.4,26.32 201.98,26.19 202.56,26.07 203.14,25.96 203.72,25.84 204.29,25.73 204.87,25.61 205.45,25.5 206.03,25.4 206.61,25.29 207.19,25.18 207.77,25.08 208.35,24.98 208.93,24.88 209.51,24.78 210.09,24.68 210.67,24.59 211.25,24.49 211.83,24.4 212.41,24.31 212.99,24.22 213.57,24.13 214.15,24.05 214.73,23.96 215.31,23.88 215.88,23.8 216.46,23.72 217.04,23.64 217.62,23.56 218.2,23.48 218.78,23.41 219.36,23.33 219.94,23.26 220.52,23.19 221.1,23.11 221.68,23.04 222.26,22.98 222.84,22.91 223.42,22.84 224,22.78 224.58,22.71 225.16,22.65 225.74,22.59 226.32,22.52 226.9,22.46 227.47,22.41 228.05,22.35 228.63,22.29 229.21,22.23 229.79,22.18 230.37,22.12 230.95,22.07 231.53,22.02 232.11,21.96 232.69,21.91 233.27,21.86 233.85,21.81 234.43,21.76 235.01,21.72 235.59,21.67 236.17,21.62 236.75,21.58 237.33,21.53 237.91,21.49 238.49,21.44 239.06,21.4 239.64,21.36 240.22,21.32 240.8,21.28 241.38,21.24 241.96,21.2 242.54,21.16 243.12,21.12 243.7,21.08 244.28,21.05 244.86,21.01 245.44,20.97 246.02,20.94 246.6,20.9 247.18,20.87 247.76,20.84 248.34,20.8 248.92,20.77 249.5,20.74 250.08,20.71 250.65,20.68 251.23,20.65 251.81,20.62 252.39,20.59 252.97,20.56 253.55,20.53 254.13,20.5 254.71,20.47 255.29,20.45 255.87,20.42 256.45,20.39 257.03,20.37 257.61,20.34 258.19,20.32 258.77,20.29 259.35,20.27 259.93,20.24 260.51,20.22 261.09,20.2 261.67,20.17 262.24,20.15 262.82,20.13 263.4,20.11 263.98,20.09 264.56,20.07 265.14,20.05 265.72,20.03 266.3,20.01 266.88,19.99 267.46,19.97 268.04,19.95 268.62,19.93 269.2,19.91 269.78,19.89 270.36,19.88 270.94,19.86 271.52,19.84 272.1,19.82 272.68,19.81 273.26,19.79 273.83,19.78 274.41,19.76 274.99,19.74 275.57,19.73 276.15,19.71 276.73,19.7 277.31,19.68 277.89,19.67 278.47,19.66 279.05,19.64 279.63,19.63 280.21,19.61 280.79,19.6 281.37,19.59 281.95,19.58 282.53,19.56 283.11,19.55 283.69,19.54 284.27,19.53 284.85,19.51 285.42,19.5 286,19.49 286.58,19.48 287.16,19.47 287.74,19.46 288.32,19.45 288.9,19.44 289.48,19.43 290.06,19.42 290.64,19.41 291.22,19.4 291.8,19.39 292.38,19.38 292.96,19.37 293.54,19.36 294.12,19.35 294.7,19.34 295.28,19.33 295.86,19.32 296.44,19.31 297.01,19.31 297.59,19.3 298.17,19.29 298.75,19.28 299.33,19.27 299.91,19.27 300.49,19.26 301.07,19.25 301.65,19.24 302.23,19.24 302.81,19.23 303.39,19.22 303.97,19.22 304.55,19.21 305.13,19.2 305.71,19.2 306.29,19.19 306.87,19.18 307.45,19.18 308.03,19.17 308.6,19.16 309.18,19.16 309.76,19.15 310.34,19.15 310.92,19.14 311.5,19.14 312.08,19.13 312.66,19.12 313.24,19.12 313.82,19.11 314.4,19.11 314.98,19.1 315.56,19.1 316.14,19.09 316.72,19.09 317.3,19.08 317.88,19.08 318.46,19.08 319.04,19.07 319.62,19.07 320.19,19.06 320.77,19.06 321.35,19.05 321.93,19.05 322.51,19.05 323.09,19.04 323.67,19.04 324.25,19.03 324.83,19.03 325.41,19.03 325.99,19.02 326.57,19.02 327.15,19.01 327.73,19.01 328.31,19.01 328.89,19 329.47,19 330.05,19 330.63,18.99 331.21,18.99 331.78,18.99 332.36,18.99 332.94,18.98 333.52,18.98 334.1,18.98 334.68,18.97 335.26,18.97 335.84,18.97 336.42,18.96 337,18.96" fill="none" stroke="#2d7a18" stroke-width="1.1"/>
</g>
<g clip-path="url(#cb)">
<g fill="#000000"><circle cx="392.07" cy="10.05" r="1.55"/><circle cx="392.31" cy="5.96" r="1.55"/><circle cx="392.54" cy="9.91" r="1.55"/><circle cx="392.78" cy="7.32" r="1.55"/><circle cx="393.02" cy="4.86" r="1.55"/><circle cx="393.25" cy="5.31" r="1.55"/><circle cx="393.49" cy="4.25" r="1.55"/><circle cx="393.73" cy="9.9" r="1.55"/><circle cx="393.96" cy="12.62" r="1.55"/><circle cx="394.2" cy="7.32" r="1.55"/><circle cx="394.44" cy="9.95" r="1.55"/><circle cx="394.67" cy="8.39" r="1.55"/><circle cx="394.91" cy="12.28" r="1.55"/><circle cx="395.14" cy="9.85" r="1.55"/><circle cx="395.38" cy="11.78" r="1.55"/><circle cx="395.62" cy="13.18" r="1.55"/><circle cx="395.85" cy="14.92" r="1.55"/><circle cx="396.09" cy="16.45" r="1.55"/><circle cx="396.33" cy="18.26" r="1.55"/><circle cx="396.56" cy="19.73" r="1.55"/><circle cx="396.8" cy="19.16" r="1.55"/><circle cx="397.04" cy="25.03" r="1.55"/><circle cx="397.27" cy="20.55" r="1.55"/><circle cx="397.51" cy="27.61" r="1.55"/><circle cx="397.75" cy="26.6" r="1.55"/><circle cx="397.98" cy="31.76" r="1.55"/><circle cx="398.22" cy="34.48" r="1.55"/><circle cx="398.46" cy="30.52" r="1.55"/><circle cx="398.69" cy="39.58" r="1.55"/><circle cx="398.93" cy="44.91" r="1.55"/><circle cx="399.17" cy="46.09" r="1.55"/><circle cx="399.4" cy="47.84" r="1.55"/><circle cx="399.64" cy="43.9" r="1.55"/><circle cx="399.87" cy="52.39" r="1.55"/><circle cx="400.11" cy="53.5" r="1.55"/><circle cx="400.35" cy="62.13" r="1.55"/><circle cx="400.58" cy="61.87" r="1.55"/><circle cx="400.82" cy="64.54" r="1.55"/><circle cx="401.06" cy="65.52" r="1.55"/><circle cx="401.29" cy="74.32" r="1.55"/><circle cx="401.53" cy="75" r="1.55"/><circle cx="401.77" cy="79.14" r="1.55"/><circle cx="402" cy="85.47" r="1.55"/><circle cx="402.24" cy="86.8" r="1.55"/><circle cx="402.48" cy="90.79" r="1.55"/><circle cx="402.71" cy="98.64" r="1.55"/><circle cx="402.95" cy="95.74" r="1.55"/><circle cx="403.19" cy="99.19" r="1.55"/><circle cx="403.42" cy="104.55" r="1.55"/><circle cx="403.66" cy="109.65" r="1.55"/><circle cx="403.9" cy="106.68" r="1.55"/><circle cx="404.13" cy="112.27" r="1.55"/><circle cx="404.37" cy="113.53" r="1.55"/><circle cx="404.6" cy="115.44" r="1.55"/><circle cx="404.84" cy="122.22" r="1.55"/><circle cx="405.08" cy="121.85" r="1.55"/><circle cx="405.31" cy="126.48" r="1.55"/><circle cx="405.55" cy="128.32" r="1.55"/><circle cx="405.79" cy="130.45" r="1.55"/><circle cx="406.02" cy="132.2" r="1.55"/><circle cx="406.26" cy="131.59" r="1.55"/><circle cx="406.5" cy="135.36" r="1.55"/><circle cx="406.73" cy="137.45" r="1.55"/><circle cx="406.97" cy="139.06" r="1.55"/><circle cx="407.21" cy="138.94" r="1.55"/><circle cx="407.44" cy="142.66" r="1.55"/><circle cx="407.68" cy="142.75" r="1.55"/><circle cx="407.92" cy="142.58" r="1.55"/><circle cx="408.15" cy="144.35" r="1.55"/><circle cx="408.39" cy="143.94" r="1.55"/><circle cx="408.62" cy="145.43" r="1.55"/><circle cx="408.86" cy="140.14" r="1.55"/><circle cx="409.1" cy="141.8" r="1.55"/><circle cx="409.33" cy="143.81" r="1.55"/><circle cx="409.57" cy="144.91" r="1.55"/><circle cx="409.81" cy="140.03" r="1.55"/><circle cx="410.04" cy="143.9" r="1.55"/><circle cx="410.28" cy="144.57" r="1.55"/><circle cx="410.52" cy="143.45" r="1.55"/><circle cx="410.75" cy="143.1" r="1.55"/><circle cx="410.99" cy="140.33" r="1.55"/><circle cx="411.23" cy="142.94" r="1.55"/><circle cx="411.46" cy="137.9" r="1.55"/><circle cx="411.7" cy="143.76" r="1.55"/><circle cx="411.94" cy="139.8" r="1.55"/><circle cx="412.17" cy="142.83" r="1.55"/><circle cx="412.41" cy="136.14" r="1.55"/><circle cx="412.65" cy="140.09" r="1.55"/><circle cx="412.88" cy="138.82" r="1.55"/><circle cx="413.12" cy="136.01" r="1.55"/><circle cx="413.36" cy="134.58" r="1.55"/><circle cx="413.59" cy="138.94" r="1.55"/><circle cx="413.83" cy="136.55" r="1.55"/><circle cx="414.06" cy="138.06" r="1.55"/><circle cx="414.3" cy="134.01" r="1.55"/><circle cx="414.54" cy="133.76" r="1.55"/><circle cx="414.77" cy="133.53" r="1.55"/><circle cx="415.01" cy="133.49" r="1.55"/><circle cx="415.25" cy="132.08" r="1.55"/><circle cx="415.48" cy="132.09" r="1.55"/><circle cx="415.72" cy="128.58" r="1.55"/><circle cx="415.96" cy="125.7" r="1.55"/><circle cx="416.19" cy="132.34" r="1.55"/><circle cx="416.43" cy="127.68" r="1.55"/><circle cx="416.67" cy="127.57" r="1.55"/><circle cx="416.9" cy="124.87" r="1.55"/><circle cx="417.14" cy="127.22" r="1.55"/><circle cx="417.38" cy="124.75" r="1.55"/><circle cx="417.61" cy="125.93" r="1.55"/><circle cx="417.85" cy="121.46" r="1.55"/><circle cx="418.09" cy="122.02" r="1.55"/><circle cx="418.32" cy="121.85" r="1.55"/><circle cx="418.56" cy="119.99" r="1.55"/><circle cx="418.79" cy="120.6" r="1.55"/><circle cx="419.03" cy="122.7" r="1.55"/><circle cx="419.27" cy="117.38" r="1.55"/><circle cx="419.5" cy="117.34" r="1.55"/><circle cx="419.74" cy="117.6" r="1.55"/><circle cx="419.98" cy="114.46" r="1.55"/><circle cx="420.21" cy="113.28" r="1.55"/><circle cx="420.45" cy="117.56" r="1.55"/><circle cx="420.69" cy="116.22" r="1.55"/><circle cx="420.92" cy="110.56" r="1.55"/><circle cx="421.16" cy="110.17" r="1.55"/><circle cx="421.4" cy="114.14" r="1.55"/><circle cx="421.63" cy="114.44" r="1.55"/><circle cx="421.87" cy="112.63" r="1.55"/><circle cx="422.11" cy="111.69" r="1.55"/><circle cx="422.34" cy="113.38" r="1.55"/><circle cx="422.58" cy="109.28" r="1.55"/><circle cx="422.82" cy="111.47" r="1.55"/><circle cx="423.05" cy="110.7" r="1.55"/><circle cx="423.29" cy="105.52" r="1.55"/><circle cx="423.52" cy="108.34" r="1.55"/><circle cx="423.76" cy="106.42" r="1.55"/><circle cx="424" cy="104.31" r="1.55"/><circle cx="424.23" cy="103.32" r="1.55"/><circle cx="424.47" cy="105.19" r="1.55"/><circle cx="424.71" cy="103.78" r="1.55"/><circle cx="424.94" cy="105.07" r="1.55"/><circle cx="425.18" cy="98.96" r="1.55"/><circle cx="425.42" cy="100.74" r="1.55"/><circle cx="425.65" cy="103.94" r="1.55"/><circle cx="425.89" cy="100.99" r="1.55"/><circle cx="426.13" cy="98.91" r="1.55"/><circle cx="426.36" cy="98.85" r="1.55"/><circle cx="426.6" cy="95.4" r="1.55"/><circle cx="426.84" cy="95.83" r="1.55"/><circle cx="427.07" cy="99.39" r="1.55"/><circle cx="427.31" cy="97.89" r="1.55"/><circle cx="427.55" cy="99.91" r="1.55"/><circle cx="427.78" cy="96.09" r="1.55"/><circle cx="428.02" cy="95.77" r="1.55"/><circle cx="428.25" cy="89.77" r="1.55"/><circle cx="428.49" cy="94.84" r="1.55"/><circle cx="428.73" cy="99.03" r="1.55"/><circle cx="428.96" cy="95.47" r="1.55"/><circle cx="429.2" cy="93.27" r="1.55"/><circle cx="429.44" cy="95.71" r="1.55"/><circle cx="429.67" cy="94.37" r="1.55"/><circle cx="429.91" cy="92.8" r="1.55"/><circle cx="430.15" cy="90.79" r="1.55"/><circle cx="430.38" cy="91.39" r="1.55"/><circle cx="430.62" cy="92.46" r="1.55"/><circle cx="430.86" cy="88.37" r="1.55"/><circle cx="431.09" cy="90.75" r="1.55"/><circle cx="431.33" cy="90.18" r="1.55"/><circle cx="431.57" cy="91.6" r="1.55"/><circle cx="431.8" cy="89.86" r="1.55"/><circle cx="432.04" cy="86.31" r="1.55"/><circle cx="432.28" cy="90.72" r="1.55"/><circle cx="432.51" cy="86.95" r="1.55"/><circle cx="432.75" cy="84.8" r="1.55"/><circle cx="432.98" cy="86.7" r="1.55"/><circle cx="433.22" cy="84.93" r="1.55"/><circle cx="433.46" cy="87.4" r="1.55"/><circle cx="433.69" cy="81.75" r="1.55"/><circle cx="433.93" cy="81.76" r="1.55"/><circle cx="434.17" cy="83.19" r="1.55"/><circle cx="434.4" cy="87.03" r="1.55"/><circle cx="434.64" cy="85.08" r="1.55"/><circle cx="435.11" cy="79.9" r="1.55"/><circle cx="435.59" cy="77.49" r="1.55"/><circle cx="436.06" cy="79.71" r="1.55"/><circle cx="436.53" cy="76.86" r="1.55"/><circle cx="437" cy="80.05" r="1.55"/><circle cx="437.48" cy="78.37" r="1.55"/><circle cx="437.95" cy="77.19" r="1.55"/><circle cx="438.42" cy="75.53" r="1.55"/><circle cx="438.9" cy="78.97" r="1.55"/><circle cx="439.37" cy="72.94" r="1.55"/><circle cx="439.84" cy="71.39" r="1.55"/><circle cx="440.32" cy="75.98" r="1.55"/><circle cx="440.79" cy="75.72" r="1.55"/><circle cx="441.26" cy="71.37" r="1.55"/><circle cx="441.74" cy="72.84" r="1.55"/><circle cx="442.21" cy="75.85" r="1.55"/><circle cx="442.68" cy="68.36" r="1.55"/><circle cx="443.15" cy="69.11" r="1.55"/><circle cx="443.63" cy="69.83" r="1.55"/><circle cx="444.1" cy="63.63" r="1.55"/><circle cx="444.57" cy="67.25" r="1.55"/><circle cx="445.05" cy="68.55" r="1.55"/><circle cx="445.52" cy="66.1" r="1.55"/><circle cx="445.99" cy="67.96" r="1.55"/><circle cx="446.47" cy="66.77" r="1.55"/><circle cx="446.94" cy="63.72" r="1.55"/><circle cx="447.41" cy="65.17" r="1.55"/><circle cx="447.88" cy="64.38" r="1.55"/><circle cx="448.36" cy="59.28" r="1.55"/><circle cx="448.83" cy="60.47" r="1.55"/><circle cx="449.3" cy="60.05" r="1.55"/><circle cx="449.78" cy="60.1" r="1.55"/><circle cx="450.25" cy="59.68" r="1.55"/><circle cx="450.72" cy="57.07" r="1.55"/><circle cx="451.2" cy="59.73" r="1.55"/><circle cx="451.67" cy="55.2" r="1.55"/><circle cx="452.14" cy="60.73" r="1.55"/><circle cx="452.61" cy="58.75" r="1.55"/><circle cx="453.09" cy="60.68" r="1.55"/><circle cx="453.56" cy="57.98" r="1.55"/><circle cx="454.03" cy="55.66" r="1.55"/><circle cx="454.51" cy="53.2" r="1.55"/><circle cx="454.98" cy="57.28" r="1.55"/><circle cx="455.45" cy="55.4" r="1.55"/><circle cx="455.93" cy="55.74" r="1.55"/><circle cx="456.4" cy="56.12" r="1.55"/><circle cx="456.87" cy="56.65" r="1.55"/><circle cx="457.34" cy="53.55" r="1.55"/><circle cx="457.82" cy="56.98" r="1.55"/><circle cx="458.29" cy="52.61" r="1.55"/><circle cx="458.76" cy="52.39" r="1.55"/><circle cx="459.24" cy="53.45" r="1.55"/><circle cx="459.71" cy="53.81" r="1.55"/><circle cx="460.18" cy="54.22" r="1.55"/><circle cx="460.66" cy="46.85" r="1.55"/><circle cx="461.13" cy="53.37" r="1.55"/><circle cx="461.6" cy="46.77" r="1.55"/><circle cx="462.07" cy="48.45" r="1.55"/><circle cx="462.55" cy="50.16" r="1.55"/><circle cx="463.02" cy="51.5" r="1.55"/><circle cx="463.49" cy="46.42" r="1.55"/><circle cx="463.97" cy="44.6" r="1.55"/><circle cx="464.44" cy="49.97" r="1.55"/><circle cx="464.91" cy="48.27" r="1.55"/><circle cx="465.39" cy="45.03" r="1.55"/><circle cx="465.86" cy="46.24" r="1.55"/><circle cx="466.33" cy="42.34" r="1.55"/><circle cx="466.8" cy="47.53" r="1.55"/><circle cx="467.28" cy="44.82" r="1.55"/><circle cx="467.75" cy="47.28" r="1.55"/><circle cx="468.22" cy="42.66" r="1.55"/><circle cx="468.7" cy="46" r="1.55"/><circle cx="469.17" cy="47.6" r="1.55"/><circle cx="469.64" cy="44.62" r="1.55"/><circle cx="470.12" cy="44.34" r="1.55"/><circle cx="470.59" cy="41.4" r="1.55"/><circle cx="471.06" cy="44.02" r="1.55"/><circle cx="471.53" cy="43.31" r="1.55"/><circle cx="472.01" cy="42.25" r="1.55"/><circle cx="472.48" cy="40.7" r="1.55"/><circle cx="473.66" cy="42.15" r="1.55"/><circle cx="474.85" cy="40.07" r="1.55"/><circle cx="476.03" cy="40.11" r="1.55"/><circle cx="477.21" cy="40.54" r="1.55"/><circle cx="478.39" cy="39.46" r="1.55"/><circle cx="479.57" cy="38.95" r="1.55"/><circle cx="480.76" cy="39.61" r="1.55"/><circle cx="481.94" cy="36.32" r="1.55"/><circle cx="483.12" cy="39.14" r="1.55"/><circle cx="484.3" cy="35.33" r="1.55"/><circle cx="485.49" cy="35.11" r="1.55"/><circle cx="486.67" cy="35.98" r="1.55"/><circle cx="487.85" cy="36.37" r="1.55"/><circle cx="489.03" cy="35.22" r="1.55"/><circle cx="490.22" cy="33.88" r="1.55"/><circle cx="491.4" cy="33.1" r="1.55"/><circle cx="492.58" cy="33.26" r="1.55"/><circle cx="493.76" cy="31.95" r="1.55"/><circle cx="494.95" cy="33.55" r="1.55"/><circle cx="496.13" cy="32.14" r="1.55"/><circle cx="497.31" cy="34.08" r="1.55"/><circle cx="498.49" cy="30.71" r="1.55"/><circle cx="499.68" cy="31.14" r="1.55"/><circle cx="500.86" cy="31.52" r="1.55"/><circle cx="502.04" cy="29.15" r="1.55"/><circle cx="503.22" cy="29.42" r="1.55"/><circle cx="504.41" cy="33.62" r="1.55"/><circle cx="505.59" cy="29.62" r="1.55"/><circle cx="506.77" cy="31.24" r="1.55"/><circle cx="507.95" cy="27.69" r="1.55"/><circle cx="509.14" cy="25.56" r="1.55"/><circle cx="510.32" cy="29.15" r="1.55"/><circle cx="511.5" cy="28.11" r="1.55"/><circle cx="512.68" cy="28.25" r="1.55"/><circle cx="513.87" cy="27.21" r="1.55"/><circle cx="515.05" cy="26.56" r="1.55"/><circle cx="516.23" cy="25.48" r="1.55"/><circle cx="517.41" cy="28.16" r="1.55"/><circle cx="518.6" cy="24.61" r="1.55"/><circle cx="519.78" cy="27.6" r="1.55"/><circle cx="522.14" cy="25.57" r="1.55"/><circle cx="524.51" cy="23.99" r="1.55"/><circle cx="526.88" cy="24.13" r="1.55"/><circle cx="529.24" cy="25.84" r="1.55"/><circle cx="531.61" cy="25.13" r="1.55"/><circle cx="533.97" cy="24.44" r="1.55"/><circle cx="536.33" cy="23.54" r="1.55"/><circle cx="538.7" cy="21.63" r="1.55"/><circle cx="541.06" cy="24.42" r="1.55"/><circle cx="543.43" cy="21.82" r="1.55"/><circle cx="545.79" cy="21.31" r="1.55"/><circle cx="548.16" cy="21.06" r="1.55"/><circle cx="550.52" cy="20.87" r="1.55"/><circle cx="552.89" cy="19.21" r="1.55"/><circle cx="555.25" cy="20.25" r="1.55"/><circle cx="557.62" cy="19.49" r="1.55"/><circle cx="559.98" cy="19.6" r="1.55"/><circle cx="562.35" cy="17.74" r="1.55"/><circle cx="564.71" cy="22.24" r="1.55"/><circle cx="567.08" cy="17.89" r="1.55"/><circle cx="569.44" cy="19.63" r="1.55"/><circle cx="571.81" cy="19.41" r="1.55"/><circle cx="574.17" cy="20.06" r="1.55"/><circle cx="576.54" cy="20.99" r="1.55"/><circle cx="578.9" cy="18.85" r="1.55"/><circle cx="581.27" cy="19.02" r="1.55"/><circle cx="583.63" cy="17.28" r="1.55"/><circle cx="586" cy="19.6" r="1.55"/><circle cx="588.36" cy="15.65" r="1.55"/><circle cx="590.73" cy="16.94" r="1.55"/><circle cx="593.09" cy="17.42" r="1.55"/><circle cx="595.46" cy="17.82" r="1.55"/><circle cx="597.82" cy="17.72" r="1.55"/><circle cx="600.19" cy="17.98" r="1.55"/><circle cx="602.55" cy="17.04" r="1.55"/><circle cx="604.92" cy="16.15" r="1.55"/><circle cx="607.28" cy="16.21" r="1.55"/><circle cx="609.65" cy="17.63" r="1.55"/><circle cx="612.01" cy="15.98" r="1.55"/><circle cx="614.38" cy="16.63" r="1.55"/><circle cx="616.74" cy="15.11" r="1.55"/><circle cx="619.11" cy="12.75" r="1.55"/><circle cx="621.47" cy="14.19" r="1.55"/><circle cx="623.84" cy="15.24" r="1.55"/><circle cx="626.2" cy="16.78" r="1.55"/><circle cx="628.57" cy="16.36" r="1.55"/><circle cx="630.93" cy="16.56" r="1.55"/><circle cx="633.3" cy="13.31" r="1.55"/><circle cx="635.66" cy="15.09" r="1.55"/><circle cx="638.03" cy="13.88" r="1.55"/><circle cx="640.39" cy="14.63" r="1.55"/><circle cx="642.76" cy="13.57" r="1.55"/><circle cx="645.12" cy="11.75" r="1.55"/><circle cx="647.49" cy="14.31" r="1.55"/><circle cx="649.85" cy="13.74" r="1.55"/><circle cx="652.22" cy="14.21" r="1.55"/><circle cx="654.58" cy="11.92" r="1.55"/><circle cx="656.95" cy="14.25" r="1.55"/><circle cx="659.31" cy="14.27" r="1.55"/><circle cx="661.68" cy="14.48" r="1.55"/><circle cx="664.04" cy="14.39" r="1.55"/><circle cx="666.41" cy="11.85" r="1.55"/><circle cx="668.77" cy="9.04" r="1.55"/><circle cx="671.14" cy="13.52" r="1.55"/><circle cx="673.5" cy="10.9" r="1.55"/><circle cx="675.87" cy="11.7" r="1.55"/><circle cx="678.23" cy="13.34" r="1.55"/><circle cx="680.6" cy="12.17" r="1.55"/></g>
<g fill="#ff1c0c"><circle cx="392.07" cy="7.67" r="1.55"/><circle cx="392.31" cy="9.01" r="1.55"/><circle cx="392.54" cy="1.77" r="1.55"/><circle cx="392.78" cy="12.57" r="1.55"/><circle cx="393.02" cy="6.3" r="1.55"/><circle cx="393.25" cy="6.57" r="1.55"/><circle cx="393.49" cy="9.26" r="1.55"/><circle cx="393.73" cy="7.41" r="1.55"/><circle cx="393.96" cy="5.6" r="1.55"/><circle cx="394.2" cy="7.87" r="1.55"/><circle cx="394.44" cy="7.43" r="1.55"/><circle cx="394.67" cy="7.01" r="1.55"/><circle cx="394.91" cy="15.01" r="1.55"/><circle cx="395.14" cy="5.68" r="1.55"/><circle cx="395.38" cy="3.97" r="1.55"/><circle cx="395.62" cy="8.2" r="1.55"/><circle cx="395.85" cy="8.8" r="1.55"/><circle cx="396.09" cy="16.34" r="1.55"/><circle cx="396.33" cy="13.62" r="1.55"/><circle cx="396.56" cy="16.55" r="1.55"/><circle cx="396.8" cy="17.03" r="1.55"/><circle cx="397.04" cy="13.93" r="1.55"/><circle cx="397.27" cy="20.25" r="1.55"/><circle cx="397.51" cy="19.89" r="1.55"/><circle cx="397.75" cy="26.52" r="1.55"/><circle cx="397.98" cy="23.47" r="1.55"/><circle cx="398.22" cy="24.77" r="1.55"/><circle cx="398.46" cy="29.16" r="1.55"/><circle cx="398.69" cy="31.54" r="1.55"/><circle cx="398.93" cy="26.79" r="1.55"/><circle cx="399.17" cy="38.14" r="1.55"/><circle cx="399.4" cy="40.59" r="1.55"/><circle cx="399.64" cy="42.98" r="1.55"/><circle cx="399.87" cy="40.63" r="1.55"/><circle cx="400.11" cy="41.53" r="1.55"/><circle cx="400.35" cy="50.06" r="1.55"/><circle cx="400.58" cy="56.27" r="1.55"/><circle cx="400.82" cy="59.55" r="1.55"/><circle cx="401.06" cy="60.38" r="1.55"/><circle cx="401.29" cy="68.77" r="1.55"/><circle cx="401.53" cy="67.95" r="1.55"/><circle cx="401.77" cy="72.38" r="1.55"/><circle cx="402" cy="79.69" r="1.55"/><circle cx="402.24" cy="82.93" r="1.55"/><circle cx="402.48" cy="87.2" r="1.55"/><circle cx="402.71" cy="89.99" r="1.55"/><circle cx="402.95" cy="100.08" r="1.55"/><circle cx="403.19" cy="99.76" r="1.55"/><circle cx="403.42" cy="107.51" r="1.55"/><circle cx="403.66" cy="112.69" r="1.55"/><circle cx="403.9" cy="115.06" r="1.55"/><circle cx="404.13" cy="119.87" r="1.55"/><circle cx="404.37" cy="125.53" r="1.55"/><circle cx="404.6" cy="130.68" r="1.55"/><circle cx="404.84" cy="132.96" r="1.55"/><circle cx="405.08" cy="131.32" r="1.55"/><circle cx="405.31" cy="133.54" r="1.55"/><circle cx="405.55" cy="139.48" r="1.55"/><circle cx="405.79" cy="141.24" r="1.55"/><circle cx="406.02" cy="147.59" r="1.55"/><circle cx="406.26" cy="149.13" r="1.55"/><circle cx="406.5" cy="150.63" r="1.55"/><circle cx="406.73" cy="155.61" r="1.55"/><circle cx="406.97" cy="157.25" r="1.55"/><circle cx="407.21" cy="156.55" r="1.55"/><circle cx="407.44" cy="158.87" r="1.55"/><circle cx="407.68" cy="161.68" r="1.55"/><circle cx="407.92" cy="159.6" r="1.55"/><circle cx="408.15" cy="161.84" r="1.55"/><circle cx="408.39" cy="159.75" r="1.55"/><circle cx="408.62" cy="162.46" r="1.55"/><circle cx="408.86" cy="163.45" r="1.55"/><circle cx="409.1" cy="162.74" r="1.55"/><circle cx="409.33" cy="163.46" r="1.55"/><circle cx="409.57" cy="164.47" r="1.55"/><circle cx="409.81" cy="163.74" r="1.55"/><circle cx="410.04" cy="161.01" r="1.55"/><circle cx="410.28" cy="160.87" r="1.55"/><circle cx="410.52" cy="159.06" r="1.55"/><circle cx="410.75" cy="164.95" r="1.55"/><circle cx="410.99" cy="161.58" r="1.55"/><circle cx="411.23" cy="160.99" r="1.55"/><circle cx="411.46" cy="159.05" r="1.55"/><circle cx="411.7" cy="159.66" r="1.55"/><circle cx="411.94" cy="159.03" r="1.55"/><circle cx="412.17" cy="155.45" r="1.55"/><circle cx="412.41" cy="155.92" r="1.55"/><circle cx="412.65" cy="157.97" r="1.55"/><circle cx="412.88" cy="151.74" r="1.55"/><circle cx="413.12" cy="151.59" r="1.55"/><circle cx="413.36" cy="154.07" r="1.55"/><circle cx="413.59" cy="150.16" r="1.55"/><circle cx="413.83" cy="152.63" r="1.55"/><circle cx="414.06" cy="147.73" r="1.55"/><circle cx="414.3" cy="149.71" r="1.55"/><circle cx="414.54" cy="150.06" r="1.55"/><circle cx="414.77" cy="148.24" r="1.55"/><circle cx="415.01" cy="148.18" r="1.55"/><circle cx="415.25" cy="145.23" r="1.55"/><circle cx="415.48" cy="144.37" r="1.55"/><circle cx="415.72" cy="143.78" r="1.55"/><circle cx="415.96" cy="144.17" r="1.55"/><circle cx="416.19" cy="149.96" r="1.55"/><circle cx="416.43" cy="141.03" r="1.55"/><circle cx="416.67" cy="144.43" r="1.55"/><circle cx="416.9" cy="138.98" r="1.55"/><circle cx="417.14" cy="136.22" r="1.55"/><circle cx="417.38" cy="137.21" r="1.55"/><circle cx="417.61" cy="137.8" r="1.55"/><circle cx="417.85" cy="136.52" r="1.55"/><circle cx="418.09" cy="135.59" r="1.55"/><circle cx="418.32" cy="135.66" r="1.55"/><circle cx="418.56" cy="134.92" r="1.55"/><circle cx="418.79" cy="134.85" r="1.55"/><circle cx="419.03" cy="129.51" r="1.55"/><circle cx="419.27" cy="131.3" r="1.55"/><circle cx="419.5" cy="128.43" r="1.55"/><circle cx="419.74" cy="130.24" r="1.55"/><circle cx="419.98" cy="128.77" r="1.55"/><circle cx="420.21" cy="128.53" r="1.55"/><circle cx="420.45" cy="126.4" r="1.55"/><circle cx="420.69" cy="124.87" r="1.55"/><circle cx="420.92" cy="125.38" r="1.55"/><circle cx="421.16" cy="126.6" r="1.55"/><circle cx="421.4" cy="126.09" r="1.55"/><circle cx="421.63" cy="120.12" r="1.55"/><circle cx="421.87" cy="123.56" r="1.55"/><circle cx="422.11" cy="122.87" r="1.55"/><circle cx="422.34" cy="118.38" r="1.55"/><circle cx="422.58" cy="118.49" r="1.55"/><circle cx="422.82" cy="118.98" r="1.55"/><circle cx="423.05" cy="120.28" r="1.55"/><circle cx="423.29" cy="113.68" r="1.55"/><circle cx="423.52" cy="117.21" r="1.55"/><circle cx="423.76" cy="116.2" r="1.55"/><circle cx="424" cy="117.07" r="1.55"/><circle cx="424.23" cy="119.07" r="1.55"/><circle cx="424.47" cy="118.24" r="1.55"/><circle cx="424.71" cy="113.84" r="1.55"/><circle cx="424.94" cy="113.22" r="1.55"/><circle cx="425.18" cy="113.93" r="1.55"/><circle cx="425.42" cy="115.29" r="1.55"/><circle cx="425.65" cy="115.24" r="1.55"/><circle cx="425.89" cy="112.22" r="1.55"/><circle cx="426.13" cy="114.01" r="1.55"/><circle cx="426.36" cy="108.34" r="1.55"/><circle cx="426.6" cy="107.18" r="1.55"/><circle cx="426.84" cy="102.97" r="1.55"/><circle cx="427.07" cy="106.55" r="1.55"/><circle cx="427.31" cy="109.11" r="1.55"/><circle cx="427.55" cy="109.11" r="1.55"/><circle cx="427.78" cy="114.06" r="1.55"/><circle cx="428.02" cy="107.34" r="1.55"/><circle cx="428.25" cy="105.86" r="1.55"/><circle cx="428.49" cy="102.82" r="1.55"/><circle cx="428.73" cy="103.02" r="1.55"/><circle cx="428.96" cy="102.5" r="1.55"/><circle cx="429.2" cy="102.74" r="1.55"/><circle cx="429.44" cy="101.22" r="1.55"/><circle cx="429.67" cy="98.98" r="1.55"/><circle cx="429.91" cy="103.82" r="1.55"/><circle cx="430.15" cy="101.97" r="1.55"/><circle cx="430.38" cy="103.43" r="1.55"/><circle cx="430.62" cy="96.43" r="1.55"/><circle cx="430.86" cy="96.59" r="1.55"/><circle cx="431.09" cy="97.23" r="1.55"/><circle cx="431.33" cy="100.9" r="1.55"/><circle cx="431.57" cy="97.43" r="1.55"/><circle cx="431.8" cy="97.79" r="1.55"/><circle cx="432.04" cy="96.6" r="1.55"/><circle cx="432.28" cy="96.67" r="1.55"/><circle cx="432.51" cy="94.65" r="1.55"/><circle cx="432.75" cy="96.11" r="1.55"/><circle cx="432.98" cy="92.93" r="1.55"/><circle cx="433.22" cy="93.75" r="1.55"/><circle cx="433.46" cy="94.41" r="1.55"/><circle cx="433.69" cy="93.54" r="1.55"/><circle cx="433.93" cy="93.76" r="1.55"/><circle cx="434.17" cy="90.59" r="1.55"/><circle cx="434.4" cy="92.45" r="1.55"/><circle cx="434.64" cy="90.76" r="1.55"/><circle cx="435.11" cy="91.31" r="1.55"/><circle cx="435.59" cy="92.74" r="1.55"/><circle cx="436.06" cy="86.7" r="1.55"/><circle cx="436.53" cy="90.03" r="1.55"/><circle cx="437" cy="85.43" r="1.55"/><circle cx="437.48" cy="85.13" r="1.55"/><circle cx="437.95" cy="88.74" r="1.55"/><circle cx="438.42" cy="86.37" r="1.55"/><circle cx="438.9" cy="84.63" r="1.55"/><circle cx="439.37" cy="84.47" r="1.55"/><circle cx="439.84" cy="84.45" r="1.55"/><circle cx="440.32" cy="79.54" r="1.55"/><circle cx="440.79" cy="80.87" r="1.55"/><circle cx="441.26" cy="78.76" r="1.55"/><circle cx="441.74" cy="79.76" r="1.55"/><circle cx="442.21" cy="77.44" r="1.55"/><circle cx="442.68" cy="78.98" r="1.55"/><circle cx="443.15" cy="76.71" r="1.55"/><circle cx="443.63" cy="74.69" r="1.55"/><circle cx="444.1" cy="75.15" r="1.55"/><circle cx="444.57" cy="75.54" r="1.55"/><circle cx="445.05" cy="76.21" r="1.55"/><circle cx="445.52" cy="72.85" r="1.55"/><circle cx="445.99" cy="71.81" r="1.55"/><circle cx="446.47" cy="72.46" r="1.55"/><circle cx="446.94" cy="72.91" r="1.55"/><circle cx="447.41" cy="69.47" r="1.55"/><circle cx="447.88" cy="64.68" r="1.55"/><circle cx="448.36" cy="70.05" r="1.55"/><circle cx="448.83" cy="68.07" r="1.55"/><circle cx="449.3" cy="67.39" r="1.55"/><circle cx="449.78" cy="73.12" r="1.55"/><circle cx="450.25" cy="66.76" r="1.55"/><circle cx="450.72" cy="67.98" r="1.55"/><circle cx="451.2" cy="62.92" r="1.55"/><circle cx="451.67" cy="65.88" r="1.55"/><circle cx="452.14" cy="66.46" r="1.55"/><circle cx="452.61" cy="64.72" r="1.55"/><circle cx="453.09" cy="63.36" r="1.55"/><circle cx="453.56" cy="64.4" r="1.55"/><circle cx="454.03" cy="62.79" r="1.55"/><circle cx="454.51" cy="65.07" r="1.55"/><circle cx="454.98" cy="62.14" r="1.55"/><circle cx="455.45" cy="59.5" r="1.55"/><circle cx="455.93" cy="56.44" r="1.55"/><circle cx="456.4" cy="58.67" r="1.55"/><circle cx="456.87" cy="59.13" r="1.55"/><circle cx="457.34" cy="56.7" r="1.55"/><circle cx="457.82" cy="56.59" r="1.55"/><circle cx="458.29" cy="54.74" r="1.55"/><circle cx="458.76" cy="55.54" r="1.55"/><circle cx="459.24" cy="57.67" r="1.55"/><circle cx="459.71" cy="56.42" r="1.55"/><circle cx="460.18" cy="56.15" r="1.55"/><circle cx="460.66" cy="55.46" r="1.55"/><circle cx="461.13" cy="55.25" r="1.55"/><circle cx="461.6" cy="56.95" r="1.55"/><circle cx="462.07" cy="59.37" r="1.55"/><circle cx="462.55" cy="55.89" r="1.55"/><circle cx="463.02" cy="58.39" r="1.55"/><circle cx="463.49" cy="53.5" r="1.55"/><circle cx="463.97" cy="53.24" r="1.55"/><circle cx="464.44" cy="56.46" r="1.55"/><circle cx="464.91" cy="51" r="1.55"/><circle cx="465.39" cy="50.24" r="1.55"/><circle cx="465.86" cy="51.52" r="1.55"/><circle cx="466.33" cy="47.78" r="1.55"/><circle cx="466.8" cy="46.98" r="1.55"/><circle cx="467.28" cy="53.23" r="1.55"/><circle cx="467.75" cy="48.95" r="1.55"/><circle cx="468.22" cy="49.36" r="1.55"/><circle cx="468.7" cy="49.04" r="1.55"/><circle cx="469.17" cy="48.04" r="1.55"/><circle cx="469.64" cy="49.83" r="1.55"/><circle cx="470.12" cy="49.33" r="1.55"/><circle cx="470.59" cy="49.3" r="1.55"/><circle cx="471.06" cy="48.89" r="1.55"/><circle cx="471.53" cy="47.72" r="1.55"/><circle cx="472.01" cy="49.14" r="1.55"/><circle cx="472.48" cy="48.3" r="1.55"/><circle cx="473.66" cy="45.44" r="1.55"/><circle cx="474.85" cy="45.53" r="1.55"/><circle cx="476.03" cy="44.22" r="1.55"/><circle cx="477.21" cy="46.44" r="1.55"/><circle cx="478.39" cy="44.33" r="1.55"/><circle cx="479.57" cy="43.37" r="1.55"/><circle cx="480.76" cy="41.96" r="1.55"/><circle cx="481.94" cy="42.13" r="1.55"/><circle cx="483.12" cy="39.56" r="1.55"/><circle cx="484.3" cy="40.24" r="1.55"/><circle cx="485.49" cy="39.56" r="1.55"/><circle cx="486.67" cy="38.99" r="1.55"/><circle cx="487.85" cy="37.55" r="1.55"/><circle cx="489.03" cy="38.53" r="1.55"/><circle cx="490.22" cy="35.95" r="1.55"/><circle cx="491.4" cy="36.3" r="1.55"/><circle cx="492.58" cy="36.19" r="1.55"/><circle cx="493.76" cy="35.85" r="1.55"/><circle cx="494.95" cy="34.76" r="1.55"/><circle cx="496.13" cy="33.66" r="1.55"/><circle cx="497.31" cy="33.3" r="1.55"/><circle cx="498.49" cy="33.59" r="1.55"/><circle cx="499.68" cy="32.52" r="1.55"/><circle cx="500.86" cy="33.08" r="1.55"/><circle cx="502.04" cy="31.21" r="1.55"/><circle cx="503.22" cy="32.45" r="1.55"/><circle cx="504.41" cy="34.7" r="1.55"/><circle cx="505.59" cy="29.92" r="1.55"/><circle cx="506.77" cy="31.13" r="1.55"/><circle cx="507.95" cy="32.41" r="1.55"/><circle cx="509.14" cy="30.8" r="1.55"/><circle cx="510.32" cy="31.34" r="1.55"/><circle cx="511.5" cy="27.15" r="1.55"/><circle cx="512.68" cy="28.88" r="1.55"/><circle cx="513.87" cy="31.21" r="1.55"/><circle cx="515.05" cy="28.17" r="1.55"/><circle cx="516.23" cy="29.07" r="1.55"/><circle cx="517.41" cy="25.78" r="1.55"/><circle cx="518.6" cy="29.31" r="1.55"/><circle cx="519.78" cy="30.55" r="1.55"/><circle cx="522.14" cy="27" r="1.55"/><circle cx="524.51" cy="26.98" r="1.55"/><circle cx="526.88" cy="26.54" r="1.55"/><circle cx="529.24" cy="28.26" r="1.55"/><circle cx="531.61" cy="24.46" r="1.55"/><circle cx="533.97" cy="22.38" r="1.55"/><circle cx="536.33" cy="26.55" r="1.55"/><circle cx="538.7" cy="22.14" r="1.55"/><circle cx="541.06" cy="23.96" r="1.55"/><circle cx="543.43" cy="19.8" r="1.55"/><circle cx="545.79" cy="21.87" r="1.55"/><circle cx="548.16" cy="22.3" r="1.55"/><circle cx="550.52" cy="20.27" r="1.55"/><circle cx="552.89" cy="20.66" r="1.55"/><circle cx="555.25" cy="21.77" r="1.55"/><circle cx="557.62" cy="19.76" r="1.55"/><circle cx="559.98" cy="21.02" r="1.55"/><circle cx="562.35" cy="22.36" r="1.55"/><circle cx="564.71" cy="17.14" r="1.55"/><circle cx="567.08" cy="19.92" r="1.55"/><circle cx="569.44" cy="19.98" r="1.55"/><circle cx="571.81" cy="18.49" r="1.55"/><circle cx="574.17" cy="20.67" r="1.55"/><circle cx="576.54" cy="20.16" r="1.55"/><circle cx="578.9" cy="18.82" r="1.55"/><circle cx="581.27" cy="18.61" r="1.55"/><circle cx="583.63" cy="17.62" r="1.55"/><circle cx="586" cy="16.04" r="1.55"/><circle cx="588.36" cy="17.89" r="1.55"/><circle cx="590.73" cy="16.43" r="1.55"/><circle cx="593.09" cy="16.09" r="1.55"/><circle cx="595.46" cy="18.07" r="1.55"/><circle cx="597.82" cy="16.19" r="1.55"/><circle cx="600.19" cy="17.52" r="1.55"/><circle cx="602.55" cy="14.76" r="1.55"/><circle cx="604.92" cy="15.37" r="1.55"/><circle cx="607.28" cy="15.77" r="1.55"/><circle cx="609.65" cy="17.36" r="1.55"/><circle cx="612.01" cy="15.33" r="1.55"/><circle cx="614.38" cy="16.31" r="1.55"/><circle cx="616.74" cy="14.27" r="1.55"/><circle cx="619.11" cy="15.19" r="1.55"/><circle cx="621.47" cy="15.95" r="1.55"/><circle cx="623.84" cy="13.57" r="1.55"/><circle cx="626.2" cy="13.71" r="1.55"/><circle cx="628.57" cy="15.28" r="1.55"/><circle cx="630.93" cy="12.89" r="1.55"/><circle cx="633.3" cy="14.66" r="1.55"/><circle cx="635.66" cy="14.56" r="1.55"/><circle cx="638.03" cy="13.89" r="1.55"/><circle cx="640.39" cy="14.91" r="1.55"/><circle cx="642.76" cy="14.41" r="1.55"/><circle cx="645.12" cy="13.94" r="1.55"/><circle cx="647.49" cy="11.67" r="1.55"/><circle cx="649.85" cy="11.61" r="1.55"/><circle cx="652.22" cy="13.78" r="1.55"/><circle cx="654.58" cy="11.29" r="1.55"/><circle cx="656.95" cy="13.33" r="1.55"/><circle cx="659.31" cy="12.7" r="1.55"/><circle cx="661.68" cy="11.97" r="1.55"/><circle cx="664.04" cy="12.65" r="1.55"/><circle cx="666.41" cy="9.84" r="1.55"/><circle cx="668.77" cy="12.56" r="1.55"/><circle cx="671.14" cy="14.35" r="1.55"/><circle cx="673.5" cy="11.05" r="1.55"/><circle cx="675.87" cy="13.2" r="1.55"/><circle cx="678.23" cy="12.99" r="1.55"/><circle cx="680.6" cy="16.39" r="1.55"/></g>
<g fill="#1414ff"><circle cx="392.07" cy="4.37" r="1.55"/><circle cx="392.31" cy="4.94" r="1.55"/><circle cx="392.54" cy="5.07" r="1.55"/><circle cx="392.78" cy="4.66" r="1.55"/><circle cx="393.02" cy="2.79" r="1.55"/><circle cx="393.25" cy="7.76" r="1.55"/><circle cx="393.49" cy="5.17" r="1.55"/><circle cx="393.73" cy="10.05" r="1.55"/><circle cx="393.96" cy="9.17" r="1.55"/><circle cx="394.2" cy="5.48" r="1.55"/><circle cx="394.44" cy="7.63" r="1.55"/><circle cx="394.67" cy="12.78" r="1.55"/><circle cx="394.91" cy="8.43" r="1.55"/><circle cx="395.14" cy="10.39" r="1.55"/><circle cx="395.38" cy="12.67" r="1.55"/><circle cx="395.62" cy="9.76" r="1.55"/><circle cx="395.85" cy="12.75" r="1.55"/><circle cx="396.09" cy="16.75" r="1.55"/><circle cx="396.33" cy="16.31" r="1.55"/><circle cx="396.56" cy="9.21" r="1.55"/><circle cx="396.8" cy="19.43" r="1.55"/><circle cx="397.04" cy="15.75" r="1.55"/><circle cx="397.27" cy="15.97" r="1.55"/><circle cx="397.51" cy="17.32" r="1.55"/><circle cx="397.75" cy="24.11" r="1.55"/><circle cx="397.98" cy="23.32" r="1.55"/><circle cx="398.22" cy="23.93" r="1.55"/><circle cx="398.46" cy="24.15" r="1.55"/><circle cx="398.69" cy="30.43" r="1.55"/><circle cx="398.93" cy="34.29" r="1.55"/><circle cx="399.17" cy="30.84" r="1.55"/><circle cx="399.4" cy="33.34" r="1.55"/><circle cx="399.64" cy="38.36" r="1.55"/><circle cx="399.87" cy="44.25" r="1.55"/><circle cx="400.11" cy="44.76" r="1.55"/><circle cx="400.35" cy="49.12" r="1.55"/><circle cx="400.58" cy="51.33" r="1.55"/><circle cx="400.82" cy="59.68" r="1.55"/><circle cx="401.06" cy="60.79" r="1.55"/><circle cx="401.29" cy="65.57" r="1.55"/><circle cx="401.53" cy="71.94" r="1.55"/><circle cx="401.77" cy="73.55" r="1.55"/><circle cx="402" cy="78.5" r="1.55"/><circle cx="402.24" cy="84.12" r="1.55"/><circle cx="402.48" cy="87.13" r="1.55"/><circle cx="402.71" cy="95.83" r="1.55"/><circle cx="402.95" cy="97.74" r="1.55"/><circle cx="403.19" cy="101.56" r="1.55"/><circle cx="403.42" cy="106.73" r="1.55"/><circle cx="403.66" cy="109.86" r="1.55"/><circle cx="403.9" cy="119.55" r="1.55"/><circle cx="404.13" cy="124.93" r="1.55"/><circle cx="404.37" cy="125.83" r="1.55"/><circle cx="404.6" cy="129.91" r="1.55"/><circle cx="404.84" cy="130.75" r="1.55"/><circle cx="405.08" cy="138.26" r="1.55"/><circle cx="405.31" cy="145.59" r="1.55"/><circle cx="405.55" cy="145.94" r="1.55"/><circle cx="405.79" cy="153.26" r="1.55"/><circle cx="406.02" cy="158.21" r="1.55"/><circle cx="406.26" cy="152.8" r="1.55"/><circle cx="406.5" cy="160.87" r="1.55"/><circle cx="406.73" cy="162.98" r="1.55"/><circle cx="406.97" cy="166.04" r="1.55"/><circle cx="407.21" cy="165.87" r="1.55"/><circle cx="407.44" cy="171.44" r="1.55"/><circle cx="407.68" cy="171.5" r="1.55"/><circle cx="407.92" cy="178.17" r="1.55"/><circle cx="408.15" cy="180.59" r="1.55"/><circle cx="408.39" cy="175.96" r="1.55"/><circle cx="408.62" cy="177.09" r="1.55"/><circle cx="408.86" cy="180.19" r="1.55"/><circle cx="409.1" cy="181.65" r="1.55"/><circle cx="409.33" cy="182.45" r="1.55"/><circle cx="409.57" cy="184.79" r="1.55"/><circle cx="409.81" cy="180.36" r="1.55"/><circle cx="410.04" cy="182.45" r="1.55"/><circle cx="410.28" cy="182.84" r="1.55"/><circle cx="410.52" cy="183.06" r="1.55"/><circle cx="410.75" cy="181.45" r="1.55"/><circle cx="410.99" cy="182.33" r="1.55"/><circle cx="411.23" cy="181.44" r="1.55"/><circle cx="411.46" cy="185.09" r="1.55"/><circle cx="411.7" cy="180.94" r="1.55"/><circle cx="411.94" cy="176.73" r="1.55"/><circle cx="412.17" cy="181.87" r="1.55"/><circle cx="412.41" cy="180.31" r="1.55"/><circle cx="412.65" cy="177.35" r="1.55"/><circle cx="412.88" cy="176.4" r="1.55"/><circle cx="413.12" cy="176.27" r="1.55"/><circle cx="413.36" cy="180.2" r="1.55"/><circle cx="413.59" cy="174.75" r="1.55"/><circle cx="413.83" cy="177.44" r="1.55"/><circle cx="414.06" cy="175.73" r="1.55"/><circle cx="414.3" cy="171.83" r="1.55"/><circle cx="414.54" cy="172.68" r="1.55"/><circle cx="414.77" cy="169.33" r="1.55"/><circle cx="415.01" cy="163.33" r="1.55"/><circle cx="415.25" cy="167.44" r="1.55"/><circle cx="415.48" cy="166.57" r="1.55"/><circle cx="415.72" cy="169.06" r="1.55"/><circle cx="415.96" cy="167.53" r="1.55"/><circle cx="416.19" cy="167.45" r="1.55"/><circle cx="416.43" cy="165.33" r="1.55"/><circle cx="416.67" cy="165.56" r="1.55"/><circle cx="416.9" cy="163.66" r="1.55"/><circle cx="417.14" cy="161.72" r="1.55"/><circle cx="417.38" cy="162.46" r="1.55"/><circle cx="417.61" cy="162.4" r="1.55"/><circle cx="417.85" cy="161.32" r="1.55"/><circle cx="418.09" cy="156.48" r="1.55"/><circle cx="418.32" cy="156.39" r="1.55"/><circle cx="418.56" cy="153.38" r="1.55"/><circle cx="418.79" cy="152.41" r="1.55"/><circle cx="419.03" cy="154.47" r="1.55"/><circle cx="419.27" cy="151.38" r="1.55"/><circle cx="419.5" cy="155" r="1.55"/><circle cx="419.74" cy="146.11" r="1.55"/><circle cx="419.98" cy="147.55" r="1.55"/><circle cx="420.21" cy="149.69" r="1.55"/><circle cx="420.45" cy="150.84" r="1.55"/><circle cx="420.69" cy="146.65" r="1.55"/><circle cx="420.92" cy="150.62" r="1.55"/><circle cx="421.16" cy="147.41" r="1.55"/><circle cx="421.4" cy="143.27" r="1.55"/><circle cx="421.63" cy="143.87" r="1.55"/><circle cx="421.87" cy="144.24" r="1.55"/><circle cx="422.11" cy="140.31" r="1.55"/><circle cx="422.34" cy="143.75" r="1.55"/><circle cx="422.58" cy="140.08" r="1.55"/><circle cx="422.82" cy="140.94" r="1.55"/><circle cx="423.05" cy="140.88" r="1.55"/><circle cx="423.29" cy="137.26" r="1.55"/><circle cx="423.52" cy="139.58" r="1.55"/><circle cx="423.76" cy="132.57" r="1.55"/><circle cx="424" cy="137.12" r="1.55"/><circle cx="424.23" cy="130.81" r="1.55"/><circle cx="424.47" cy="136.65" r="1.55"/><circle cx="424.71" cy="132.23" r="1.55"/><circle cx="424.94" cy="135.34" r="1.55"/><circle cx="425.18" cy="134.88" r="1.55"/><circle cx="425.42" cy="130.91" r="1.55"/><circle cx="425.65" cy="129.04" r="1.55"/><circle cx="425.89" cy="132.49" r="1.55"/><circle cx="426.13" cy="126.47" r="1.55"/><circle cx="426.36" cy="129.99" r="1.55"/><circle cx="426.6" cy="127.27" r="1.55"/><circle cx="426.84" cy="126.01" r="1.55"/><circle cx="427.07" cy="124.84" r="1.55"/><circle cx="427.31" cy="129.26" r="1.55"/><circle cx="427.55" cy="121.22" r="1.55"/><circle cx="427.78" cy="122.78" r="1.55"/><circle cx="428.02" cy="124.21" r="1.55"/><circle cx="428.25" cy="124.8" r="1.55"/><circle cx="428.49" cy="125.55" r="1.55"/><circle cx="428.73" cy="124.16" r="1.55"/><circle cx="428.96" cy="119.39" r="1.55"/><circle cx="429.2" cy="120.62" r="1.55"/><circle cx="429.44" cy="121.65" r="1.55"/><circle cx="429.67" cy="119.69" r="1.55"/><circle cx="429.91" cy="114.54" r="1.55"/><circle cx="430.15" cy="117.96" r="1.55"/><circle cx="430.38" cy="117.85" r="1.55"/><circle cx="430.62" cy="113.06" r="1.55"/><circle cx="430.86" cy="114.32" r="1.55"/><circle cx="431.09" cy="114.59" r="1.55"/><circle cx="431.33" cy="115.36" r="1.55"/><circle cx="431.57" cy="116.76" r="1.55"/><circle cx="431.8" cy="115.32" r="1.55"/><circle cx="432.04" cy="113.23" r="1.55"/><circle cx="432.28" cy="112.05" r="1.55"/><circle cx="432.51" cy="110.21" r="1.55"/><circle cx="432.75" cy="109.19" r="1.55"/><circle cx="432.98" cy="109.3" r="1.55"/><circle cx="433.22" cy="108.71" r="1.55"/><circle cx="433.46" cy="110.76" r="1.55"/><circle cx="433.69" cy="112.64" r="1.55"/><circle cx="433.93" cy="108.55" r="1.55"/><circle cx="434.17" cy="108.9" r="1.55"/><circle cx="434.4" cy="107.68" r="1.55"/><circle cx="434.64" cy="106.3" r="1.55"/><circle cx="435.11" cy="107.26" r="1.55"/><circle cx="435.59" cy="105.86" r="1.55"/><circle cx="436.06" cy="102.6" r="1.55"/><circle cx="436.53" cy="101.06" r="1.55"/><circle cx="437" cy="101.66" r="1.55"/><circle cx="437.48" cy="98.14" r="1.55"/><circle cx="437.95" cy="98.65" r="1.55"/><circle cx="438.42" cy="99.35" r="1.55"/><circle cx="438.9" cy="96.07" r="1.55"/><circle cx="439.37" cy="91.13" r="1.55"/><circle cx="439.84" cy="95.65" r="1.55"/><circle cx="440.32" cy="90.73" r="1.55"/><circle cx="440.79" cy="89.33" r="1.55"/><circle cx="441.26" cy="88.14" r="1.55"/><circle cx="441.74" cy="92.21" r="1.55"/><circle cx="442.21" cy="85.21" r="1.55"/><circle cx="442.68" cy="88.39" r="1.55"/><circle cx="443.15" cy="88.31" r="1.55"/><circle cx="443.63" cy="87.39" r="1.55"/><circle cx="444.1" cy="84.75" r="1.55"/><circle cx="444.57" cy="85.09" r="1.55"/><circle cx="445.05" cy="84.75" r="1.55"/><circle cx="445.52" cy="80.79" r="1.55"/><circle cx="445.99" cy="84.29" r="1.55"/><circle cx="446.47" cy="84.18" r="1.55"/><circle cx="446.94" cy="79.45" r="1.55"/><circle cx="447.41" cy="78.87" r="1.55"/><circle cx="447.88" cy="77.27" r="1.55"/><circle cx="448.36" cy="81.17" r="1.55"/><circle cx="448.83" cy="75.8" r="1.55"/><circle cx="449.3" cy="76.36" r="1.55"/><circle cx="449.78" cy="72.89" r="1.55"/><circle cx="450.25" cy="78.64" r="1.55"/><circle cx="450.72" cy="74.79" r="1.55"/><circle cx="451.2" cy="75.16" r="1.55"/><circle cx="451.67" cy="77.3" r="1.55"/><circle cx="452.14" cy="74.75" r="1.55"/><circle cx="452.61" cy="70.13" r="1.55"/><circle cx="453.09" cy="72.9" r="1.55"/><circle cx="453.56" cy="72.8" r="1.55"/><circle cx="454.03" cy="68.75" r="1.55"/><circle cx="454.51" cy="67.86" r="1.55"/><circle cx="454.98" cy="67.25" r="1.55"/><circle cx="455.45" cy="70.45" r="1.55"/><circle cx="455.93" cy="68.28" r="1.55"/><circle cx="456.4" cy="65.35" r="1.55"/><circle cx="456.87" cy="68.38" r="1.55"/><circle cx="457.34" cy="68" r="1.55"/><circle cx="457.82" cy="64.05" r="1.55"/><circle cx="458.29" cy="61.91" r="1.55"/><circle cx="458.76" cy="67.18" r="1.55"/><circle cx="459.24" cy="69.74" r="1.55"/><circle cx="459.71" cy="66.74" r="1.55"/><circle cx="460.18" cy="65.27" r="1.55"/><circle cx="460.66" cy="62.86" r="1.55"/><circle cx="461.13" cy="60.73" r="1.55"/><circle cx="461.6" cy="61.85" r="1.55"/><circle cx="462.07" cy="62.54" r="1.55"/><circle cx="462.55" cy="60.21" r="1.55"/><circle cx="463.02" cy="62.11" r="1.55"/><circle cx="463.49" cy="59.67" r="1.55"/><circle cx="463.97" cy="60.47" r="1.55"/><circle cx="464.44" cy="52.86" r="1.55"/><circle cx="464.91" cy="56.4" r="1.55"/><circle cx="465.39" cy="59.49" r="1.55"/><circle cx="465.86" cy="59.38" r="1.55"/><circle cx="466.33" cy="57.74" r="1.55"/><circle cx="466.8" cy="59.89" r="1.55"/><circle cx="467.28" cy="57.49" r="1.55"/><circle cx="467.75" cy="56.44" r="1.55"/><circle cx="468.22" cy="53.93" r="1.55"/><circle cx="468.7" cy="55.2" r="1.55"/><circle cx="469.17" cy="55.26" r="1.55"/><circle cx="469.64" cy="55.56" r="1.55"/><circle cx="470.12" cy="54.95" r="1.55"/><circle cx="470.59" cy="53.12" r="1.55"/><circle cx="471.06" cy="52.92" r="1.55"/><circle cx="471.53" cy="50.8" r="1.55"/><circle cx="472.01" cy="52.69" r="1.55"/><circle cx="472.48" cy="50.14" r="1.55"/><circle cx="473.66" cy="50.26" r="1.55"/><circle cx="474.85" cy="49.71" r="1.55"/><circle cx="476.03" cy="51.43" r="1.55"/><circle cx="477.21" cy="49.67" r="1.55"/><circle cx="478.39" cy="46.24" r="1.55"/><circle cx="479.57" cy="44.62" r="1.55"/><circle cx="480.76" cy="45.4" r="1.55"/><circle cx="481.94" cy="43.95" r="1.55"/><circle cx="483.12" cy="44.74" r="1.55"/><circle cx="484.3" cy="44.01" r="1.55"/><circle cx="485.49" cy="43.71" r="1.55"/><circle cx="486.67" cy="40.96" r="1.55"/><circle cx="487.85" cy="41.14" r="1.55"/><circle cx="489.03" cy="41.27" r="1.55"/><circle cx="490.22" cy="40.8" r="1.55"/><circle cx="491.4" cy="39.09" r="1.55"/><circle cx="492.58" cy="38.83" r="1.55"/><circle cx="493.76" cy="39.78" r="1.55"/><circle cx="494.95" cy="35.97" r="1.55"/><circle cx="496.13" cy="37.34" r="1.55"/><circle cx="497.31" cy="37.16" r="1.55"/><circle cx="498.49" cy="34.79" r="1.55"/><circle cx="499.68" cy="34.91" r="1.55"/><circle cx="500.86" cy="35.89" r="1.55"/><circle cx="502.04" cy="34.64" r="1.55"/><circle cx="503.22" cy="36.28" r="1.55"/><circle cx="504.41" cy="35.31" r="1.55"/><circle cx="505.59" cy="36.99" r="1.55"/><circle cx="506.77" cy="32.1" r="1.55"/><circle cx="507.95" cy="35.74" r="1.55"/><circle cx="509.14" cy="32.04" r="1.55"/><circle cx="510.32" cy="33.62" r="1.55"/><circle cx="511.5" cy="33.45" r="1.55"/><circle cx="512.68" cy="32.1" r="1.55"/><circle cx="513.87" cy="31.16" r="1.55"/><circle cx="515.05" cy="30.39" r="1.55"/><circle cx="516.23" cy="28.57" r="1.55"/><circle cx="517.41" cy="30.08" r="1.55"/><circle cx="518.6" cy="29.1" r="1.55"/><circle cx="519.78" cy="30.71" r="1.55"/><circle cx="522.14" cy="28.44" r="1.55"/><circle cx="524.51" cy="28.61" r="1.55"/><circle cx="526.88" cy="28.88" r="1.55"/><circle cx="529.24" cy="27.91" r="1.55"/><circle cx="531.61" cy="27.38" r="1.55"/><circle cx="533.97" cy="26.6" r="1.55"/><circle cx="536.33" cy="25.89" r="1.55"/><circle cx="538.7" cy="26.64" r="1.55"/><circle cx="541.06" cy="26.53" r="1.55"/><circle cx="543.43" cy="24.22" r="1.55"/><circle cx="545.79" cy="26.99" r="1.55"/><circle cx="548.16" cy="25.24" r="1.55"/><circle cx="550.52" cy="22.1" r="1.55"/><circle cx="552.89" cy="27.25" r="1.55"/><circle cx="555.25" cy="24.33" r="1.55"/><circle cx="557.62" cy="22.24" r="1.55"/><circle cx="559.98" cy="24.95" r="1.55"/><circle cx="562.35" cy="19.18" r="1.55"/><circle cx="564.71" cy="25.58" r="1.55"/><circle cx="567.08" cy="20.12" r="1.55"/><circle cx="569.44" cy="19.69" r="1.55"/><circle cx="571.81" cy="20.26" r="1.55"/><circle cx="574.17" cy="21.47" r="1.55"/><circle cx="576.54" cy="20.48" r="1.55"/><circle cx="578.9" cy="21.86" r="1.55"/><circle cx="581.27" cy="19.43" r="1.55"/><circle cx="583.63" cy="21.68" r="1.55"/><circle cx="586" cy="20.37" r="1.55"/><circle cx="588.36" cy="18.52" r="1.55"/><circle cx="590.73" cy="21.03" r="1.55"/><circle cx="593.09" cy="19.86" r="1.55"/><circle cx="595.46" cy="18.97" r="1.55"/><circle cx="597.82" cy="20.72" r="1.55"/><circle cx="600.19" cy="17.3" r="1.55"/><circle cx="602.55" cy="18.17" r="1.55"/><circle cx="604.92" cy="20.38" r="1.55"/><circle cx="607.28" cy="18.31" r="1.55"/><circle cx="609.65" cy="19.07" r="1.55"/><circle cx="612.01" cy="18.74" r="1.55"/><circle cx="614.38" cy="17.63" r="1.55"/><circle cx="616.74" cy="18.48" r="1.55"/><circle cx="619.11" cy="16.16" r="1.55"/><circle cx="621.47" cy="18.15" r="1.55"/><circle cx="623.84" cy="15.82" r="1.55"/><circle cx="626.2" cy="16.98" r="1.55"/><circle cx="628.57" cy="15.67" r="1.55"/><circle cx="630.93" cy="17.33" r="1.55"/><circle cx="633.3" cy="17.13" r="1.55"/><circle cx="635.66" cy="17.82" r="1.55"/><circle cx="638.03" cy="15.45" r="1.55"/><circle cx="640.39" cy="14.85" r="1.55"/><circle cx="642.76" cy="13.19" r="1.55"/><circle cx="645.12" cy="14.13" r="1.55"/><circle cx="647.49" cy="15.34" r="1.55"/><circle cx="649.85" cy="15.8" r="1.55"/><circle cx="652.22" cy="14.9" r="1.55"/><circle cx="654.58" cy="15.31" r="1.55"/><circle cx="656.95" cy="13.27" r="1.55"/><circle cx="659.31" cy="13.82" r="1.55"/><circle cx="661.68" cy="15.99" r="1.55"/><circle cx="664.04" cy="15.68" r="1.55"/><circle cx="666.41" cy="12.92" r="1.55"/><circle cx="668.77" cy="14.17" r="1.55"/><circle cx="671.14" cy="14.76" r="1.55"/><circle cx="673.5" cy="12.82" r="1.55"/><circle cx="675.87" cy="14.74" r="1.55"/><circle cx="678.23" cy="14.49" r="1.55"/><circle cx="680.6" cy="14.62" r="1.55"/></g>
<g fill="#7d1010"><circle cx="392.07" cy="12.67" r="1.55"/><circle cx="392.31" cy="4.88" r="1.55"/><circle cx="392.54" cy="10.79" r="1.55"/><circle cx="392.78" cy="9.15" r="1.55"/><circle cx="393.02" cy="9.8" r="1.55"/><circle cx="393.25" cy="5.88" r="1.55"/><circle cx="393.49" cy="8.32" r="1.55"/><circle cx="393.73" cy="8.33" r="1.55"/><circle cx="393.96" cy="13.34" r="1.55"/><circle cx="394.2" cy="9.22" r="1.55"/><circle cx="394.44" cy="13.46" r="1.55"/><circle cx="394.67" cy="8.89" r="1.55"/><circle cx="394.91" cy="9.19" r="1.55"/><circle cx="395.14" cy="10.79" r="1.55"/><circle cx="395.38" cy="5.63" r="1.55"/><circle cx="395.62" cy="10.51" r="1.55"/><circle cx="395.85" cy="11.06" r="1.55"/><circle cx="396.09" cy="13.14" r="1.55"/><circle cx="396.33" cy="14.98" r="1.55"/><circle cx="396.56" cy="12.75" r="1.55"/><circle cx="396.8" cy="13.48" r="1.55"/><circle cx="397.04" cy="21.4" r="1.55"/><circle cx="397.27" cy="16.16" r="1.55"/><circle cx="397.51" cy="19.13" r="1.55"/><circle cx="397.75" cy="19.48" r="1.55"/><circle cx="397.98" cy="22.58" r="1.55"/><circle cx="398.22" cy="29.23" r="1.55"/><circle cx="398.46" cy="31.06" r="1.55"/><circle cx="398.69" cy="24.87" r="1.55"/><circle cx="398.93" cy="31.6" r="1.55"/><circle cx="399.17" cy="38.77" r="1.55"/><circle cx="399.4" cy="36.52" r="1.55"/><circle cx="399.64" cy="41.36" r="1.55"/><circle cx="399.87" cy="48.52" r="1.55"/><circle cx="400.11" cy="52.97" r="1.55"/><circle cx="400.35" cy="54.43" r="1.55"/><circle cx="400.58" cy="52.92" r="1.55"/><circle cx="400.82" cy="57.33" r="1.55"/><circle cx="401.06" cy="61.65" r="1.55"/><circle cx="401.29" cy="64.56" r="1.55"/><circle cx="401.53" cy="68.09" r="1.55"/><circle cx="401.77" cy="78.25" r="1.55"/><circle cx="402" cy="78.88" r="1.55"/><circle cx="402.24" cy="84.64" r="1.55"/><circle cx="402.48" cy="90.25" r="1.55"/><circle cx="402.71" cy="93.62" r="1.55"/><circle cx="402.95" cy="97.64" r="1.55"/><circle cx="403.19" cy="102.96" r="1.55"/><circle cx="403.42" cy="110.58" r="1.55"/><circle cx="403.66" cy="113.6" r="1.55"/><circle cx="403.9" cy="113.37" r="1.55"/><circle cx="404.13" cy="125.1" r="1.55"/><circle cx="404.37" cy="131.59" r="1.55"/><circle cx="404.6" cy="132.46" r="1.55"/><circle cx="404.84" cy="136.82" r="1.55"/><circle cx="405.08" cy="142.07" r="1.55"/><circle cx="405.31" cy="150.35" r="1.55"/><circle cx="405.55" cy="150.58" r="1.55"/><circle cx="405.79" cy="159.06" r="1.55"/><circle cx="406.02" cy="164.33" r="1.55"/><circle cx="406.26" cy="167.55" r="1.55"/><circle cx="406.5" cy="170.66" r="1.55"/><circle cx="406.73" cy="172.89" r="1.55"/><circle cx="406.97" cy="176.89" r="1.55"/><circle cx="407.21" cy="181.87" r="1.55"/><circle cx="407.44" cy="183.2" r="1.55"/><circle cx="407.68" cy="188.18" r="1.55"/><circle cx="407.92" cy="189.36" r="1.55"/><circle cx="408.15" cy="196.99" r="1.55"/><circle cx="408.39" cy="199.8" r="1.55"/><circle cx="408.62" cy="196.97" r="1.55"/><circle cx="408.86" cy="203.59" r="1.55"/><circle cx="409.1" cy="202.99" r="1.55"/><circle cx="409.33" cy="204.05" r="1.55"/><circle cx="409.57" cy="206.16" r="1.55"/><circle cx="409.81" cy="207.14" r="1.55"/><circle cx="410.04" cy="204" r="1.55"/><circle cx="410.28" cy="213.04" r="1.55"/><circle cx="410.52" cy="206.13" r="1.55"/><circle cx="410.75" cy="203.33" r="1.55"/><circle cx="410.99" cy="208.25" r="1.55"/><circle cx="411.23" cy="208.22" r="1.55"/><circle cx="411.46" cy="206.34" r="1.55"/><circle cx="411.7" cy="203.54" r="1.55"/><circle cx="411.94" cy="209.45" r="1.55"/><circle cx="412.17" cy="206.01" r="1.55"/><circle cx="412.41" cy="205.8" r="1.55"/><circle cx="412.65" cy="203.28" r="1.55"/><circle cx="412.88" cy="203.14" r="1.55"/><circle cx="413.12" cy="200.98" r="1.55"/><circle cx="413.36" cy="202.15" r="1.55"/><circle cx="413.59" cy="199.93" r="1.55"/><circle cx="413.83" cy="200.21" r="1.55"/><circle cx="414.06" cy="198.88" r="1.55"/><circle cx="414.3" cy="196.42" r="1.55"/><circle cx="414.54" cy="195.05" r="1.55"/><circle cx="414.77" cy="195.87" r="1.55"/><circle cx="415.01" cy="188.58" r="1.55"/><circle cx="415.25" cy="190.83" r="1.55"/><circle cx="415.48" cy="192.1" r="1.55"/><circle cx="415.72" cy="185.36" r="1.55"/><circle cx="415.96" cy="187.92" r="1.55"/><circle cx="416.19" cy="183.83" r="1.55"/><circle cx="416.43" cy="183.58" r="1.55"/><circle cx="416.67" cy="181.64" r="1.55"/><circle cx="416.9" cy="180.46" r="1.55"/><circle cx="417.14" cy="180.73" r="1.55"/><circle cx="417.38" cy="178.1" r="1.55"/><circle cx="417.61" cy="172.54" r="1.55"/><circle cx="417.85" cy="180.45" r="1.55"/><circle cx="418.09" cy="174.26" r="1.55"/><circle cx="418.32" cy="172.25" r="1.55"/><circle cx="418.56" cy="174.25" r="1.55"/><circle cx="418.79" cy="173.77" r="1.55"/><circle cx="419.03" cy="165.04" r="1.55"/><circle cx="419.27" cy="169.35" r="1.55"/><circle cx="419.5" cy="162.99" r="1.55"/><circle cx="419.74" cy="165.22" r="1.55"/><circle cx="419.98" cy="165.15" r="1.55"/><circle cx="420.21" cy="163.25" r="1.55"/><circle cx="420.45" cy="161.89" r="1.55"/><circle cx="420.69" cy="159.72" r="1.55"/><circle cx="420.92" cy="160.33" r="1.55"/><circle cx="421.16" cy="159.99" r="1.55"/><circle cx="421.4" cy="158.97" r="1.55"/><circle cx="421.63" cy="155.51" r="1.55"/><circle cx="421.87" cy="155.74" r="1.55"/><circle cx="422.11" cy="158.74" r="1.55"/><circle cx="422.34" cy="157.06" r="1.55"/><circle cx="422.58" cy="154.1" r="1.55"/><circle cx="422.82" cy="155.28" r="1.55"/><circle cx="423.05" cy="153.89" r="1.55"/><circle cx="423.29" cy="154.29" r="1.55"/><circle cx="423.52" cy="151.96" r="1.55"/><circle cx="423.76" cy="149.66" r="1.55"/><circle cx="424" cy="147.62" r="1.55"/><circle cx="424.23" cy="148.93" r="1.55"/><circle cx="424.47" cy="143.69" r="1.55"/><circle cx="424.71" cy="147.52" r="1.55"/><circle cx="424.94" cy="139.72" r="1.55"/><circle cx="425.18" cy="143.65" r="1.55"/><circle cx="425.42" cy="143.96" r="1.55"/><circle cx="425.65" cy="145.34" r="1.55"/><circle cx="425.89" cy="149.57" r="1.55"/><circle cx="426.13" cy="143.09" r="1.55"/><circle cx="426.36" cy="141.63" r="1.55"/><circle cx="426.6" cy="137.15" r="1.55"/><circle cx="426.84" cy="143.51" r="1.55"/><circle cx="427.07" cy="135.73" r="1.55"/><circle cx="427.31" cy="139.64" r="1.55"/><circle cx="427.55" cy="136.83" r="1.55"/><circle cx="427.78" cy="143.12" r="1.55"/><circle cx="428.02" cy="136.67" r="1.55"/><circle cx="428.25" cy="137" r="1.55"/><circle cx="428.49" cy="134.1" r="1.55"/><circle cx="428.73" cy="134.68" r="1.55"/><circle cx="428.96" cy="136.64" r="1.55"/><circle cx="429.2" cy="131.48" r="1.55"/><circle cx="429.44" cy="131.34" r="1.55"/><circle cx="429.67" cy="130.88" r="1.55"/><circle cx="429.91" cy="129.32" r="1.55"/><circle cx="430.15" cy="128.46" r="1.55"/><circle cx="430.38" cy="130.21" r="1.55"/><circle cx="430.62" cy="132.42" r="1.55"/><circle cx="430.86" cy="131.83" r="1.55"/><circle cx="431.09" cy="125.31" r="1.55"/><circle cx="431.33" cy="126.04" r="1.55"/><circle cx="431.57" cy="126.7" r="1.55"/><circle cx="431.8" cy="127.22" r="1.55"/><circle cx="432.04" cy="125.58" r="1.55"/><circle cx="432.28" cy="124.97" r="1.55"/><circle cx="432.51" cy="125.12" r="1.55"/><circle cx="432.75" cy="125.27" r="1.55"/><circle cx="432.98" cy="118.51" r="1.55"/><circle cx="433.22" cy="122.05" r="1.55"/><circle cx="433.46" cy="123.23" r="1.55"/><circle cx="433.69" cy="124.12" r="1.55"/><circle cx="433.93" cy="122.28" r="1.55"/><circle cx="434.17" cy="118.57" r="1.55"/><circle cx="434.4" cy="117.89" r="1.55"/><circle cx="434.64" cy="119.4" r="1.55"/><circle cx="435.11" cy="117.64" r="1.55"/><circle cx="435.59" cy="117.24" r="1.55"/><circle cx="436.06" cy="117.82" r="1.55"/><circle cx="436.53" cy="111.51" r="1.55"/><circle cx="437" cy="112.38" r="1.55"/><circle cx="437.48" cy="106.75" r="1.55"/><circle cx="437.95" cy="112.6" r="1.55"/><circle cx="438.42" cy="110.18" r="1.55"/><circle cx="438.9" cy="106.92" r="1.55"/><circle cx="439.37" cy="108.28" r="1.55"/><circle cx="439.84" cy="109.69" r="1.55"/><circle cx="440.32" cy="107.71" r="1.55"/><circle cx="440.79" cy="104.43" r="1.55"/><circle cx="441.26" cy="102.9" r="1.55"/><circle cx="441.74" cy="102.84" r="1.55"/><circle cx="442.21" cy="99.49" r="1.55"/><circle cx="442.68" cy="98.53" r="1.55"/><circle cx="443.15" cy="99" r="1.55"/><circle cx="443.63" cy="98.68" r="1.55"/><circle cx="444.1" cy="98.34" r="1.55"/><circle cx="444.57" cy="95.68" r="1.55"/><circle cx="445.05" cy="93.96" r="1.55"/><circle cx="445.52" cy="94.9" r="1.55"/><circle cx="445.99" cy="93.16" r="1.55"/><circle cx="446.47" cy="93.93" r="1.55"/><circle cx="446.94" cy="95.38" r="1.55"/><circle cx="447.41" cy="93.62" r="1.55"/><circle cx="447.88" cy="88.97" r="1.55"/><circle cx="448.36" cy="88.8" r="1.55"/><circle cx="448.83" cy="85.5" r="1.55"/><circle cx="449.3" cy="87.97" r="1.55"/><circle cx="449.78" cy="85.41" r="1.55"/><circle cx="450.25" cy="83.61" r="1.55"/><circle cx="450.72" cy="83.51" r="1.55"/><circle cx="451.2" cy="86.15" r="1.55"/><circle cx="451.67" cy="84.46" r="1.55"/><circle cx="452.14" cy="83" r="1.55"/><circle cx="452.61" cy="84.63" r="1.55"/><circle cx="453.09" cy="80.74" r="1.55"/><circle cx="453.56" cy="78.8" r="1.55"/><circle cx="454.03" cy="81.29" r="1.55"/><circle cx="454.51" cy="75.29" r="1.55"/><circle cx="454.98" cy="79.42" r="1.55"/><circle cx="455.45" cy="78.52" r="1.55"/><circle cx="455.93" cy="77.89" r="1.55"/><circle cx="456.4" cy="78.19" r="1.55"/><circle cx="456.87" cy="75.08" r="1.55"/><circle cx="457.34" cy="75.25" r="1.55"/><circle cx="457.82" cy="71.05" r="1.55"/><circle cx="458.29" cy="72.64" r="1.55"/><circle cx="458.76" cy="72.13" r="1.55"/><circle cx="459.24" cy="73.1" r="1.55"/><circle cx="459.71" cy="75.02" r="1.55"/><circle cx="460.18" cy="71.53" r="1.55"/><circle cx="460.66" cy="72.54" r="1.55"/><circle cx="461.13" cy="68.04" r="1.55"/><circle cx="461.6" cy="69.53" r="1.55"/><circle cx="462.07" cy="65.28" r="1.55"/><circle cx="462.55" cy="66.67" r="1.55"/><circle cx="463.02" cy="65.86" r="1.55"/><circle cx="463.49" cy="66.57" r="1.55"/><circle cx="463.97" cy="66.03" r="1.55"/><circle cx="464.44" cy="64.5" r="1.55"/><circle cx="464.91" cy="63.35" r="1.55"/><circle cx="465.39" cy="66.29" r="1.55"/><circle cx="465.86" cy="63.15" r="1.55"/><circle cx="466.33" cy="58.03" r="1.55"/><circle cx="466.8" cy="63.31" r="1.55"/><circle cx="467.28" cy="63.13" r="1.55"/><circle cx="467.75" cy="62.94" r="1.55"/><circle cx="468.22" cy="63.38" r="1.55"/><circle cx="468.7" cy="59.47" r="1.55"/><circle cx="469.17" cy="60.4" r="1.55"/><circle cx="469.64" cy="59.59" r="1.55"/><circle cx="470.12" cy="57.09" r="1.55"/><circle cx="470.59" cy="55.74" r="1.55"/><circle cx="471.06" cy="59.63" r="1.55"/><circle cx="471.53" cy="56.64" r="1.55"/><circle cx="472.01" cy="56.71" r="1.55"/><circle cx="472.48" cy="56.53" r="1.55"/><circle cx="473.66" cy="55.26" r="1.55"/><circle cx="474.85" cy="54.78" r="1.55"/><circle cx="476.03" cy="51.6" r="1.55"/><circle cx="477.21" cy="51.79" r="1.55"/><circle cx="478.39" cy="51.1" r="1.55"/><circle cx="479.57" cy="48.93" r="1.55"/><circle cx="480.76" cy="48.4" r="1.55"/><circle cx="481.94" cy="48.01" r="1.55"/><circle cx="483.12" cy="47.26" r="1.55"/><circle cx="484.3" cy="44.52" r="1.55"/><circle cx="485.49" cy="45.25" r="1.55"/><circle cx="486.67" cy="45.17" r="1.55"/><circle cx="487.85" cy="45.34" r="1.55"/><circle cx="489.03" cy="43.88" r="1.55"/><circle cx="490.22" cy="44.01" r="1.55"/><circle cx="491.4" cy="41.76" r="1.55"/><circle cx="492.58" cy="40.83" r="1.55"/><circle cx="493.76" cy="43.09" r="1.55"/><circle cx="494.95" cy="39.73" r="1.55"/><circle cx="496.13" cy="38.24" r="1.55"/><circle cx="497.31" cy="38.21" r="1.55"/><circle cx="498.49" cy="39.02" r="1.55"/><circle cx="499.68" cy="35.53" r="1.55"/><circle cx="500.86" cy="37.46" r="1.55"/><circle cx="502.04" cy="37.57" r="1.55"/><circle cx="503.22" cy="36.81" r="1.55"/><circle cx="504.41" cy="34.88" r="1.55"/><circle cx="505.59" cy="33.06" r="1.55"/><circle cx="506.77" cy="32.31" r="1.55"/><circle cx="507.95" cy="33.03" r="1.55"/><circle cx="509.14" cy="34.35" r="1.55"/><circle cx="510.32" cy="33.18" r="1.55"/><circle cx="511.5" cy="33.02" r="1.55"/><circle cx="512.68" cy="31.65" r="1.55"/><circle cx="513.87" cy="33.26" r="1.55"/><circle cx="515.05" cy="30.41" r="1.55"/><circle cx="516.23" cy="29.31" r="1.55"/><circle cx="517.41" cy="29.93" r="1.55"/><circle cx="518.6" cy="28.75" r="1.55"/><circle cx="519.78" cy="30.17" r="1.55"/><circle cx="522.14" cy="30.11" r="1.55"/><circle cx="524.51" cy="28.37" r="1.55"/><circle cx="526.88" cy="25.41" r="1.55"/><circle cx="529.24" cy="24.96" r="1.55"/><circle cx="531.61" cy="26.3" r="1.55"/><circle cx="533.97" cy="23.61" r="1.55"/><circle cx="536.33" cy="25.06" r="1.55"/><circle cx="538.7" cy="22.21" r="1.55"/><circle cx="541.06" cy="23.08" r="1.55"/><circle cx="543.43" cy="23.85" r="1.55"/><circle cx="545.79" cy="21.83" r="1.55"/><circle cx="548.16" cy="23.47" r="1.55"/><circle cx="550.52" cy="23.31" r="1.55"/><circle cx="552.89" cy="23.63" r="1.55"/><circle cx="555.25" cy="21.1" r="1.55"/><circle cx="557.62" cy="21.19" r="1.55"/><circle cx="559.98" cy="20.93" r="1.55"/><circle cx="562.35" cy="21.09" r="1.55"/><circle cx="564.71" cy="18.45" r="1.55"/><circle cx="567.08" cy="20.6" r="1.55"/><circle cx="569.44" cy="20.76" r="1.55"/><circle cx="571.81" cy="18" r="1.55"/><circle cx="574.17" cy="17.57" r="1.55"/><circle cx="576.54" cy="18.77" r="1.55"/><circle cx="578.9" cy="21.26" r="1.55"/><circle cx="581.27" cy="19.62" r="1.55"/><circle cx="583.63" cy="17.89" r="1.55"/><circle cx="586" cy="18.51" r="1.55"/><circle cx="588.36" cy="16.38" r="1.55"/><circle cx="590.73" cy="20.01" r="1.55"/><circle cx="593.09" cy="17.24" r="1.55"/><circle cx="595.46" cy="18.8" r="1.55"/><circle cx="597.82" cy="16.17" r="1.55"/><circle cx="600.19" cy="17.86" r="1.55"/><circle cx="602.55" cy="16.33" r="1.55"/><circle cx="604.92" cy="18.4" r="1.55"/><circle cx="607.28" cy="19.29" r="1.55"/><circle cx="609.65" cy="18.82" r="1.55"/><circle cx="612.01" cy="18.08" r="1.55"/><circle cx="614.38" cy="18.55" r="1.55"/><circle cx="616.74" cy="15.61" r="1.55"/><circle cx="619.11" cy="15.36" r="1.55"/><circle cx="621.47" cy="16.67" r="1.55"/><circle cx="623.84" cy="18.29" r="1.55"/><circle cx="626.2" cy="17.05" r="1.55"/><circle cx="628.57" cy="17.73" r="1.55"/><circle cx="630.93" cy="14.92" r="1.55"/><circle cx="633.3" cy="16.33" r="1.55"/><circle cx="635.66" cy="16.06" r="1.55"/><circle cx="638.03" cy="17.17" r="1.55"/><circle cx="640.39" cy="19.2" r="1.55"/><circle cx="642.76" cy="17.56" r="1.55"/><circle cx="645.12" cy="17.97" r="1.55"/><circle cx="647.49" cy="16.02" r="1.55"/><circle cx="649.85" cy="16.34" r="1.55"/><circle cx="652.22" cy="17.47" r="1.55"/><circle cx="654.58" cy="16.91" r="1.55"/><circle cx="656.95" cy="14.36" r="1.55"/><circle cx="659.31" cy="17.59" r="1.55"/><circle cx="661.68" cy="17.51" r="1.55"/><circle cx="664.04" cy="16.6" r="1.55"/><circle cx="666.41" cy="17.18" r="1.55"/><circle cx="668.77" cy="16.81" r="1.55"/><circle cx="671.14" cy="15.56" r="1.55"/><circle cx="673.5" cy="13.99" r="1.55"/><circle cx="675.87" cy="18.5" r="1.55"/><circle cx="678.23" cy="16.21" r="1.55"/><circle cx="680.6" cy="16.12" r="1.55"/></g>
<g fill="#35891f"><circle cx="392.07" cy="8" r="1.55"/><circle cx="392.31" cy="8.31" r="1.55"/><circle cx="392.54" cy="8.75" r="1.55"/><circle cx="392.78" cy="5.02" r="1.55"/><circle cx="393.02" cy="9.15" r="1.55"/><circle cx="393.25" cy="8.24" r="1.55"/><circle cx="393.49" cy="7.93" r="1.55"/><circle cx="393.73" cy="7.68" r="1.55"/><circle cx="393.96" cy="8.53" r="1.55"/><circle cx="394.2" cy="5.35" r="1.55"/><circle cx="394.44" cy="8.26" r="1.55"/><circle cx="394.67" cy="7.88" r="1.55"/><circle cx="394.91" cy="8.66" r="1.55"/><circle cx="395.14" cy="11.5" r="1.55"/><circle cx="395.38" cy="11.25" r="1.55"/><circle cx="395.62" cy="12.13" r="1.55"/><circle cx="395.85" cy="8.99" r="1.55"/><circle cx="396.09" cy="11.9" r="1.55"/><circle cx="396.33" cy="13.32" r="1.55"/><circle cx="396.56" cy="10.23" r="1.55"/><circle cx="396.8" cy="10.06" r="1.55"/><circle cx="397.04" cy="17.17" r="1.55"/><circle cx="397.27" cy="8.38" r="1.55"/><circle cx="397.51" cy="13.98" r="1.55"/><circle cx="397.75" cy="15.49" r="1.55"/><circle cx="397.98" cy="13.5" r="1.55"/><circle cx="398.22" cy="17.73" r="1.55"/><circle cx="398.46" cy="21.26" r="1.55"/><circle cx="398.69" cy="15.3" r="1.55"/><circle cx="398.93" cy="26.5" r="1.55"/><circle cx="399.17" cy="26.08" r="1.55"/><circle cx="399.4" cy="26" r="1.55"/><circle cx="399.64" cy="34.17" r="1.55"/><circle cx="399.87" cy="34.56" r="1.55"/><circle cx="400.11" cy="36.58" r="1.55"/><circle cx="400.35" cy="34.62" r="1.55"/><circle cx="400.58" cy="47.21" r="1.55"/><circle cx="400.82" cy="49.66" r="1.55"/><circle cx="401.06" cy="52.7" r="1.55"/><circle cx="401.29" cy="58.8" r="1.55"/><circle cx="401.53" cy="66.69" r="1.55"/><circle cx="401.77" cy="68.64" r="1.55"/><circle cx="402" cy="74.96" r="1.55"/><circle cx="402.24" cy="80.15" r="1.55"/><circle cx="402.48" cy="84.81" r="1.55"/><circle cx="402.71" cy="91.39" r="1.55"/><circle cx="402.95" cy="99.19" r="1.55"/><circle cx="403.19" cy="106.03" r="1.55"/><circle cx="403.42" cy="115.79" r="1.55"/><circle cx="403.66" cy="120.52" r="1.55"/><circle cx="403.9" cy="126.6" r="1.55"/><circle cx="404.13" cy="134.76" r="1.55"/><circle cx="404.37" cy="140.47" r="1.55"/><circle cx="404.6" cy="149.16" r="1.55"/><circle cx="404.84" cy="150.69" r="1.55"/><circle cx="405.08" cy="155.8" r="1.55"/><circle cx="405.31" cy="167.51" r="1.55"/><circle cx="405.55" cy="171.85" r="1.55"/><circle cx="405.79" cy="179" r="1.55"/><circle cx="406.02" cy="181.31" r="1.55"/><circle cx="406.26" cy="188.31" r="1.55"/><circle cx="406.5" cy="194" r="1.55"/><circle cx="406.73" cy="199.24" r="1.55"/><circle cx="406.97" cy="202.75" r="1.55"/><circle cx="407.21" cy="209.08" r="1.55"/><circle cx="407.44" cy="209.05" r="1.55"/><circle cx="407.68" cy="215.26" r="1.55"/><circle cx="407.92" cy="215.45" r="1.55"/><circle cx="408.15" cy="218.86" r="1.55"/><circle cx="408.39" cy="219" r="1.55"/><circle cx="408.62" cy="223.28" r="1.55"/><circle cx="408.86" cy="222.63" r="1.55"/><circle cx="409.1" cy="228.11" r="1.55"/><circle cx="409.33" cy="225.84" r="1.55"/><circle cx="409.57" cy="228.4" r="1.55"/><circle cx="409.81" cy="228.03" r="1.55"/><circle cx="410.04" cy="228.61" r="1.55"/><circle cx="410.28" cy="226.86" r="1.55"/><circle cx="410.52" cy="233.13" r="1.55"/><circle cx="410.75" cy="227.85" r="1.55"/><circle cx="410.99" cy="231.37" r="1.55"/><circle cx="411.23" cy="225.04" r="1.55"/><circle cx="411.46" cy="231.23" r="1.55"/><circle cx="411.7" cy="228.4" r="1.55"/><circle cx="411.94" cy="229" r="1.55"/><circle cx="412.17" cy="220.97" r="1.55"/><circle cx="412.41" cy="226.28" r="1.55"/><circle cx="412.65" cy="222.23" r="1.55"/><circle cx="412.88" cy="222.54" r="1.55"/><circle cx="413.12" cy="224.13" r="1.55"/><circle cx="413.36" cy="219.84" r="1.55"/><circle cx="413.59" cy="216.51" r="1.55"/><circle cx="413.83" cy="217.13" r="1.55"/><circle cx="414.06" cy="213.49" r="1.55"/><circle cx="414.3" cy="215.06" r="1.55"/><circle cx="414.54" cy="213.04" r="1.55"/><circle cx="414.77" cy="212.63" r="1.55"/><circle cx="415.01" cy="209.83" r="1.55"/><circle cx="415.25" cy="205.24" r="1.55"/><circle cx="415.48" cy="207.3" r="1.55"/><circle cx="415.72" cy="206.42" r="1.55"/><circle cx="415.96" cy="206.93" r="1.55"/><circle cx="416.19" cy="205.99" r="1.55"/><circle cx="416.43" cy="200" r="1.55"/><circle cx="416.67" cy="204.31" r="1.55"/><circle cx="416.9" cy="202.67" r="1.55"/><circle cx="417.14" cy="199.72" r="1.55"/><circle cx="417.38" cy="199.23" r="1.55"/><circle cx="417.61" cy="192.92" r="1.55"/><circle cx="417.85" cy="201.02" r="1.55"/><circle cx="418.09" cy="193.99" r="1.55"/><circle cx="418.32" cy="192.06" r="1.55"/><circle cx="418.56" cy="194.84" r="1.55"/><circle cx="418.79" cy="192.67" r="1.55"/><circle cx="419.03" cy="189.21" r="1.55"/><circle cx="419.27" cy="185.51" r="1.55"/><circle cx="419.5" cy="189.86" r="1.55"/><circle cx="419.74" cy="190.15" r="1.55"/><circle cx="419.98" cy="183.56" r="1.55"/><circle cx="420.21" cy="181.27" r="1.55"/><circle cx="420.45" cy="184.17" r="1.55"/><circle cx="420.69" cy="187.11" r="1.55"/><circle cx="420.92" cy="178.16" r="1.55"/><circle cx="421.16" cy="180.63" r="1.55"/><circle cx="421.4" cy="176.73" r="1.55"/><circle cx="421.63" cy="178.18" r="1.55"/><circle cx="421.87" cy="177.84" r="1.55"/><circle cx="422.11" cy="176.96" r="1.55"/><circle cx="422.34" cy="171.79" r="1.55"/><circle cx="422.58" cy="170.85" r="1.55"/><circle cx="422.82" cy="177.49" r="1.55"/><circle cx="423.05" cy="173.9" r="1.55"/><circle cx="423.29" cy="167.07" r="1.55"/><circle cx="423.52" cy="170.67" r="1.55"/><circle cx="423.76" cy="171.81" r="1.55"/><circle cx="424" cy="167.89" r="1.55"/><circle cx="424.23" cy="167.16" r="1.55"/><circle cx="424.47" cy="166.16" r="1.55"/><circle cx="424.71" cy="166.02" r="1.55"/><circle cx="424.94" cy="164.7" r="1.55"/><circle cx="425.18" cy="164.06" r="1.55"/><circle cx="425.42" cy="161.42" r="1.55"/><circle cx="425.65" cy="162.94" r="1.55"/><circle cx="425.89" cy="160.89" r="1.55"/><circle cx="426.13" cy="159.65" r="1.55"/><circle cx="426.36" cy="155.62" r="1.55"/><circle cx="426.6" cy="156.71" r="1.55"/><circle cx="426.84" cy="156.84" r="1.55"/><circle cx="427.07" cy="154.55" r="1.55"/><circle cx="427.31" cy="153.94" r="1.55"/><circle cx="427.55" cy="151.59" r="1.55"/><circle cx="427.78" cy="151.95" r="1.55"/><circle cx="428.02" cy="148.32" r="1.55"/><circle cx="428.25" cy="148.41" r="1.55"/><circle cx="428.49" cy="150.52" r="1.55"/><circle cx="428.73" cy="150.47" r="1.55"/><circle cx="428.96" cy="146.84" r="1.55"/><circle cx="429.2" cy="146.78" r="1.55"/><circle cx="429.44" cy="147.25" r="1.55"/><circle cx="429.67" cy="149.39" r="1.55"/><circle cx="429.91" cy="149.32" r="1.55"/><circle cx="430.15" cy="143.82" r="1.55"/><circle cx="430.38" cy="142.1" r="1.55"/><circle cx="430.62" cy="141.22" r="1.55"/><circle cx="430.86" cy="144.9" r="1.55"/><circle cx="431.09" cy="139.11" r="1.55"/><circle cx="431.33" cy="141.7" r="1.55"/><circle cx="431.57" cy="138.93" r="1.55"/><circle cx="431.8" cy="138.08" r="1.55"/><circle cx="432.04" cy="139.93" r="1.55"/><circle cx="432.28" cy="138.7" r="1.55"/><circle cx="432.51" cy="141.12" r="1.55"/><circle cx="432.75" cy="137.88" r="1.55"/><circle cx="432.98" cy="139.02" r="1.55"/><circle cx="433.22" cy="133.46" r="1.55"/><circle cx="433.46" cy="133.53" r="1.55"/><circle cx="433.69" cy="130.96" r="1.55"/><circle cx="433.93" cy="131.42" r="1.55"/><circle cx="434.17" cy="132.82" r="1.55"/><circle cx="434.4" cy="129.99" r="1.55"/><circle cx="434.64" cy="130.85" r="1.55"/><circle cx="435.11" cy="127.29" r="1.55"/><circle cx="435.59" cy="126.51" r="1.55"/><circle cx="436.06" cy="127.93" r="1.55"/><circle cx="436.53" cy="124.44" r="1.55"/><circle cx="437" cy="122.98" r="1.55"/><circle cx="437.48" cy="122.43" r="1.55"/><circle cx="437.95" cy="118.54" r="1.55"/><circle cx="438.42" cy="115.49" r="1.55"/><circle cx="438.9" cy="118.69" r="1.55"/><circle cx="439.37" cy="117.4" r="1.55"/><circle cx="439.84" cy="120.23" r="1.55"/><circle cx="440.32" cy="114.46" r="1.55"/><circle cx="440.79" cy="113.92" r="1.55"/><circle cx="441.26" cy="116.44" r="1.55"/><circle cx="441.74" cy="110.01" r="1.55"/><circle cx="442.21" cy="108.2" r="1.55"/><circle cx="442.68" cy="109.91" r="1.55"/><circle cx="443.15" cy="108.01" r="1.55"/><circle cx="443.63" cy="108.18" r="1.55"/><circle cx="444.1" cy="103.37" r="1.55"/><circle cx="444.57" cy="107.19" r="1.55"/><circle cx="445.05" cy="103.54" r="1.55"/><circle cx="445.52" cy="97.63" r="1.55"/><circle cx="445.99" cy="100.68" r="1.55"/><circle cx="446.47" cy="98.76" r="1.55"/><circle cx="446.94" cy="99.08" r="1.55"/><circle cx="447.41" cy="100.29" r="1.55"/><circle cx="447.88" cy="96.86" r="1.55"/><circle cx="448.36" cy="94.95" r="1.55"/><circle cx="448.83" cy="97.07" r="1.55"/><circle cx="449.3" cy="93.2" r="1.55"/><circle cx="449.78" cy="90.33" r="1.55"/><circle cx="450.25" cy="89.8" r="1.55"/><circle cx="450.72" cy="94.59" r="1.55"/><circle cx="451.2" cy="92.4" r="1.55"/><circle cx="451.67" cy="92.89" r="1.55"/><circle cx="452.14" cy="86.26" r="1.55"/><circle cx="452.61" cy="86.4" r="1.55"/><circle cx="453.09" cy="85.35" r="1.55"/><circle cx="453.56" cy="87.92" r="1.55"/><circle cx="454.03" cy="87.72" r="1.55"/><circle cx="454.51" cy="84.24" r="1.55"/><circle cx="454.98" cy="83.39" r="1.55"/><circle cx="455.45" cy="84.66" r="1.55"/><circle cx="455.93" cy="81.74" r="1.55"/><circle cx="456.4" cy="79.9" r="1.55"/><circle cx="456.87" cy="80.03" r="1.55"/><circle cx="457.34" cy="82.01" r="1.55"/><circle cx="457.82" cy="83.58" r="1.55"/><circle cx="458.29" cy="78.87" r="1.55"/><circle cx="458.76" cy="77.25" r="1.55"/><circle cx="459.24" cy="77.45" r="1.55"/><circle cx="459.71" cy="77.12" r="1.55"/><circle cx="460.18" cy="77" r="1.55"/><circle cx="460.66" cy="73.3" r="1.55"/><circle cx="461.13" cy="74.28" r="1.55"/><circle cx="461.6" cy="73.24" r="1.55"/><circle cx="462.07" cy="74.94" r="1.55"/><circle cx="462.55" cy="73.54" r="1.55"/><circle cx="463.02" cy="71.22" r="1.55"/><circle cx="463.49" cy="73.11" r="1.55"/><circle cx="463.97" cy="73.03" r="1.55"/><circle cx="464.44" cy="70.43" r="1.55"/><circle cx="464.91" cy="66.54" r="1.55"/><circle cx="465.39" cy="68.12" r="1.55"/><circle cx="465.86" cy="64.81" r="1.55"/><circle cx="466.33" cy="67.64" r="1.55"/><circle cx="466.8" cy="67.46" r="1.55"/><circle cx="467.28" cy="69.22" r="1.55"/><circle cx="467.75" cy="66.41" r="1.55"/><circle cx="468.22" cy="63.28" r="1.55"/><circle cx="468.7" cy="64.16" r="1.55"/><circle cx="469.17" cy="63.1" r="1.55"/><circle cx="469.64" cy="62.61" r="1.55"/><circle cx="470.12" cy="63.01" r="1.55"/><circle cx="470.59" cy="62.75" r="1.55"/><circle cx="471.06" cy="61.83" r="1.55"/><circle cx="471.53" cy="60.62" r="1.55"/><circle cx="472.01" cy="60.4" r="1.55"/><circle cx="472.48" cy="59.87" r="1.55"/><circle cx="473.66" cy="59.11" r="1.55"/><circle cx="474.85" cy="59.15" r="1.55"/><circle cx="476.03" cy="57.38" r="1.55"/><circle cx="477.21" cy="57.17" r="1.55"/><circle cx="478.39" cy="53.62" r="1.55"/><circle cx="479.57" cy="56.61" r="1.55"/><circle cx="480.76" cy="53.2" r="1.55"/><circle cx="481.94" cy="48.89" r="1.55"/><circle cx="483.12" cy="51.49" r="1.55"/><circle cx="484.3" cy="51.62" r="1.55"/><circle cx="485.49" cy="49.31" r="1.55"/><circle cx="486.67" cy="46.79" r="1.55"/><circle cx="487.85" cy="47.85" r="1.55"/><circle cx="489.03" cy="46.06" r="1.55"/><circle cx="490.22" cy="45.96" r="1.55"/><circle cx="491.4" cy="45.83" r="1.55"/><circle cx="492.58" cy="40.57" r="1.55"/><circle cx="493.76" cy="43.84" r="1.55"/><circle cx="494.95" cy="43.95" r="1.55"/><circle cx="496.13" cy="43.23" r="1.55"/><circle cx="497.31" cy="41.47" r="1.55"/><circle cx="498.49" cy="40.82" r="1.55"/><circle cx="499.68" cy="39.75" r="1.55"/><circle cx="500.86" cy="39.98" r="1.55"/><circle cx="502.04" cy="41.44" r="1.55"/><circle cx="503.22" cy="38.37" r="1.55"/><circle cx="504.41" cy="38.92" r="1.55"/><circle cx="505.59" cy="38.37" r="1.55"/><circle cx="506.77" cy="39.41" r="1.55"/><circle cx="507.95" cy="37.75" r="1.55"/><circle cx="509.14" cy="37.47" r="1.55"/><circle cx="510.32" cy="36.12" r="1.55"/><circle cx="511.5" cy="37.49" r="1.55"/><circle cx="512.68" cy="35.12" r="1.55"/><circle cx="513.87" cy="34.6" r="1.55"/><circle cx="515.05" cy="35.79" r="1.55"/><circle cx="516.23" cy="34.75" r="1.55"/><circle cx="517.41" cy="34.66" r="1.55"/><circle cx="518.6" cy="32" r="1.55"/><circle cx="519.78" cy="36.06" r="1.55"/><circle cx="522.14" cy="32.53" r="1.55"/><circle cx="524.51" cy="33.55" r="1.55"/><circle cx="526.88" cy="31.32" r="1.55"/><circle cx="529.24" cy="29.06" r="1.55"/><circle cx="531.61" cy="30.38" r="1.55"/><circle cx="533.97" cy="28.84" r="1.55"/><circle cx="536.33" cy="29.58" r="1.55"/><circle cx="538.7" cy="25.49" r="1.55"/><circle cx="541.06" cy="26.33" r="1.55"/><circle cx="543.43" cy="25.59" r="1.55"/><circle cx="545.79" cy="28.32" r="1.55"/><circle cx="548.16" cy="27.6" r="1.55"/><circle cx="550.52" cy="24.39" r="1.55"/><circle cx="552.89" cy="25.64" r="1.55"/><circle cx="555.25" cy="25.36" r="1.55"/><circle cx="557.62" cy="24.24" r="1.55"/><circle cx="559.98" cy="25.94" r="1.55"/><circle cx="562.35" cy="23" r="1.55"/><circle cx="564.71" cy="23.65" r="1.55"/><circle cx="567.08" cy="22.75" r="1.55"/><circle cx="569.44" cy="23.94" r="1.55"/><circle cx="571.81" cy="22.13" r="1.55"/><circle cx="574.17" cy="23.42" r="1.55"/><circle cx="576.54" cy="21.02" r="1.55"/><circle cx="578.9" cy="20.53" r="1.55"/><circle cx="581.27" cy="20.56" r="1.55"/><circle cx="583.63" cy="20.83" r="1.55"/><circle cx="586" cy="20.44" r="1.55"/><circle cx="588.36" cy="24.52" r="1.55"/><circle cx="590.73" cy="19.74" r="1.55"/><circle cx="593.09" cy="20.95" r="1.55"/><circle cx="595.46" cy="20.26" r="1.55"/><circle cx="597.82" cy="20.55" r="1.55"/><circle cx="600.19" cy="21.78" r="1.55"/><circle cx="602.55" cy="20.48" r="1.55"/><circle cx="604.92" cy="18.75" r="1.55"/><circle cx="607.28" cy="17.59" r="1.55"/><circle cx="609.65" cy="20.04" r="1.55"/><circle cx="612.01" cy="20.23" r="1.55"/><circle cx="614.38" cy="17.02" r="1.55"/><circle cx="616.74" cy="19.86" r="1.55"/><circle cx="619.11" cy="15.89" r="1.55"/><circle cx="621.47" cy="18.34" r="1.55"/><circle cx="623.84" cy="19.38" r="1.55"/><circle cx="626.2" cy="16.82" r="1.55"/><circle cx="628.57" cy="15.76" r="1.55"/><circle cx="630.93" cy="19.64" r="1.55"/><circle cx="633.3" cy="15.64" r="1.55"/><circle cx="635.66" cy="17.87" r="1.55"/><circle cx="638.03" cy="15.45" r="1.55"/><circle cx="640.39" cy="17.72" r="1.55"/><circle cx="642.76" cy="19.13" r="1.55"/><circle cx="645.12" cy="16.32" r="1.55"/><circle cx="647.49" cy="15.64" r="1.55"/><circle cx="649.85" cy="14.01" r="1.55"/><circle cx="652.22" cy="14.37" r="1.55"/><circle cx="654.58" cy="15.57" r="1.55"/><circle cx="656.95" cy="16.65" r="1.55"/><circle cx="659.31" cy="16.9" r="1.55"/><circle cx="661.68" cy="16.49" r="1.55"/><circle cx="664.04" cy="17.07" r="1.55"/><circle cx="666.41" cy="16.24" r="1.55"/><circle cx="668.77" cy="19.05" r="1.55"/><circle cx="671.14" cy="15.44" r="1.55"/><circle cx="673.5" cy="15.6" r="1.55"/><circle cx="675.87" cy="12.15" r="1.55"/><circle cx="678.23" cy="14.37" r="1.55"/><circle cx="680.6" cy="15.87" r="1.55"/></g>
<polyline points="392.07,6.74 392.65,7.34 393.23,8.15 393.8,9.24 394.38,10.66 394.96,12.5 395.54,14.83 396.12,17.71 396.7,21.22 397.27,25.4 397.85,30.3 398.43,35.93 399.01,42.27 399.59,49.26 400.17,56.84 400.74,64.88 401.32,73.24 401.9,81.75 402.48,90.25 403.06,98.54 403.63,106.46 404.21,113.84 404.79,120.55 405.37,126.49 405.95,131.59 406.53,135.82 407.1,139.17 407.68,141.68 408.26,143.4 408.84,144.41 409.42,144.79 409.99,144.63 410.57,144.02 411.15,143.05 411.73,141.79 412.31,140.32 412.89,138.69 413.46,136.95 414.04,135.13 414.62,133.28 415.2,131.41 415.78,129.53 416.36,127.67 416.93,125.83 417.51,124.01 418.09,122.21 418.67,120.45 419.25,118.72 419.82,117.02 420.4,115.35 420.98,113.72 421.56,112.11 422.14,110.53 422.72,108.99 423.29,107.47 423.87,105.98 424.45,104.52 425.03,103.09 425.61,101.68 426.18,100.3 426.76,98.95 427.34,97.62 427.92,96.32 428.5,95.04 429.08,93.78 429.65,92.55 430.23,91.34 430.81,90.16 431.39,88.99 431.97,87.85 432.55,86.73 433.12,85.63 433.7,84.55 434.28,83.49 434.86,82.45 435.44,81.43 436.01,80.42 436.59,79.44 437.17,78.47 437.75,77.52 438.33,76.59 438.91,75.68 439.48,74.78 440.06,73.9 440.64,73.03 441.22,72.18 441.8,71.35 442.37,70.53 442.95,69.72 443.53,68.93 444.11,68.16 444.69,67.39 445.27,66.64 445.84,65.91 446.42,65.19 447,64.48 447.58,63.78 448.16,63.09 448.74,62.42 449.31,61.76 449.89,61.11 450.47,60.47 451.05,59.84 451.63,59.23 452.2,58.62 452.78,58.03 453.36,57.44 453.94,56.87 454.52,56.3 455.1,55.75 455.67,55.2 456.25,54.67 456.83,54.14 457.41,53.62 457.99,53.11 458.56,52.61 459.14,52.12 459.72,51.63 460.3,51.15 460.88,50.69 461.46,50.23 462.03,49.77 462.61,49.33 463.19,48.89 463.77,48.46 464.35,48.03 464.93,47.62 465.5,47.21 466.08,46.8 466.66,46.4 467.24,46.01 467.82,45.63 468.39,45.25 468.97,44.88 469.55,44.51 470.13,44.15 470.71,43.8 471.29,43.45 471.86,43.1 472.44,42.76 473.02,42.43 473.6,42.1 474.18,41.78 474.75,41.46 475.33,41.15 475.91,40.84 476.49,40.53 477.07,40.23 477.65,39.94 478.22,39.65 478.8,39.36 479.38,39.08 479.96,38.8 480.54,38.53 481.12,38.26 481.69,37.99 482.27,37.73 482.85,37.47 483.43,37.22 484.01,36.97 484.58,36.72 485.16,36.48 485.74,36.24 486.32,36 486.9,35.77 487.48,35.54 488.05,35.31 488.63,35.08 489.21,34.86 489.79,34.65 490.37,34.43 490.95,34.22 491.52,34.01 492.1,33.8 492.68,33.6 493.26,33.4 493.84,33.2 494.41,33.01 494.99,32.81 495.57,32.62 496.15,32.43 496.73,32.25 497.31,32.06 497.88,31.88 498.46,31.7 499.04,31.53 499.62,31.35 500.2,31.18 500.77,31.01 501.35,30.84 501.93,30.68 502.51,30.51 503.09,30.35 503.67,30.19 504.24,30.04 504.82,29.88 505.4,29.72 505.98,29.57 506.56,29.42 507.14,29.27 507.71,29.13 508.29,28.98 508.87,28.84 509.45,28.69 510.03,28.55 510.6,28.41 511.18,28.28 511.76,28.14 512.34,28.01 512.92,27.87 513.5,27.74 514.07,27.61 514.65,27.48 515.23,27.36 515.81,27.23 516.39,27.1 516.96,26.98 517.54,26.86 518.12,26.74 518.7,26.62 519.28,26.5 519.86,26.38 520.43,26.27 521.01,26.15 521.59,26.04 522.17,25.93 522.75,25.81 523.33,25.7 523.9,25.59 524.48,25.49 525.06,25.38 525.64,25.27 526.22,25.17 526.79,25.06 527.37,24.96 527.95,24.86 528.53,24.76 529.11,24.65 529.69,24.56 530.26,24.46 530.84,24.36 531.42,24.26 532,24.17 532.58,24.07 533.15,23.98 533.73,23.88 534.31,23.79 534.89,23.7 535.47,23.61 536.05,23.52 536.62,23.43 537.2,23.34 537.78,23.25 538.36,23.16 538.94,23.07 539.52,22.99 540.09,22.9 540.67,22.82 541.25,22.73 541.83,22.65 542.41,22.57 542.98,22.49 543.56,22.4 544.14,22.32 544.72,22.24 545.3,22.16 545.88,22.08 546.45,22.01 547.03,21.93 547.61,21.85 548.19,21.77 548.77,21.7 549.34,21.62 549.92,21.55 550.5,21.47 551.08,21.4 551.66,21.33 552.24,21.25 552.81,21.18 553.39,21.11 553.97,21.04 554.55,20.97 555.13,20.9 555.71,20.83 556.28,20.76 556.86,20.69 557.44,20.62 558.02,20.55 558.6,20.48 559.17,20.42 559.75,20.35 560.33,20.28 560.91,20.22 561.49,20.15 562.07,20.09 562.64,20.02 563.22,19.96 563.8,19.89 564.38,19.83 564.96,19.77 565.53,19.7 566.11,19.64 566.69,19.58 567.27,19.52 567.85,19.46 568.43,19.4 569,19.34 569.58,19.28 570.16,19.22 570.74,19.16 571.32,19.1 571.9,19.04 572.47,18.98 573.05,18.92 573.63,18.86 574.21,18.81 574.79,18.75 575.36,18.69 575.94,18.64 576.52,18.58 577.1,18.53 577.68,18.47 578.26,18.41 578.83,18.36 579.41,18.31 579.99,18.25 580.57,18.2 581.15,18.14 581.72,18.09 582.3,18.04 582.88,17.98 583.46,17.93 584.04,17.88 584.62,17.83 585.19,17.78 585.77,17.72 586.35,17.67 586.93,17.62 587.51,17.57 588.09,17.52 588.66,17.47 589.24,17.42 589.82,17.37 590.4,17.32 590.98,17.27 591.55,17.23 592.13,17.18 592.71,17.13 593.29,17.08 593.87,17.03 594.45,16.98 595.02,16.94 595.6,16.89 596.18,16.84 596.76,16.8 597.34,16.75 597.92,16.7 598.49,16.66 599.07,16.61 599.65,16.57 600.23,16.52 600.81,16.48 601.38,16.43 601.96,16.39 602.54,16.34 603.12,16.3 603.7,16.25 604.28,16.21 604.85,16.17 605.43,16.12 606.01,16.08 606.59,16.04 607.17,15.99 607.74,15.95 608.32,15.91 608.9,15.87 609.48,15.82 610.06,15.78 610.64,15.74 611.21,15.7 611.79,15.66 612.37,15.62 612.95,15.58 613.53,15.53 614.11,15.49 614.68,15.45 615.26,15.41 615.84,15.37 616.42,15.33 617,15.29 617.57,15.25 618.15,15.21 618.73,15.18 619.31,15.14 619.89,15.1 620.47,15.06 621.04,15.02 621.62,14.98 622.2,14.94 622.78,14.91 623.36,14.87 623.93,14.83 624.51,14.79 625.09,14.76 625.67,14.72 626.25,14.68 626.83,14.65 627.4,14.61 627.98,14.57 628.56,14.54 629.14,14.5 629.72,14.46 630.3,14.43 630.87,14.39 631.45,14.36 632.03,14.32 632.61,14.29 633.19,14.25 633.76,14.22 634.34,14.18 634.92,14.15 635.5,14.11 636.08,14.08 636.66,14.04 637.23,14.01 637.81,13.98 638.39,13.94 638.97,13.91 639.55,13.87 640.12,13.84 640.7,13.81 641.28,13.77 641.86,13.74 642.44,13.71 643.02,13.68 643.59,13.64 644.17,13.61 644.75,13.58 645.33,13.55 645.91,13.51 646.49,13.48 647.06,13.45 647.64,13.42 648.22,13.39 648.8,13.36 649.38,13.33 649.95,13.29 650.53,13.26 651.11,13.23 651.69,13.2 652.27,13.17 652.85,13.14 653.42,13.11 654,13.08 654.58,13.05 655.16,13.02 655.74,12.99 656.31,12.96 656.89,12.93 657.47,12.9 658.05,12.87 658.63,12.84 659.21,12.81 659.78,12.78 660.36,12.76 660.94,12.73 661.52,12.7 662.1,12.67 662.68,12.64 663.25,12.61 663.83,12.58 664.41,12.56 664.99,12.53 665.57,12.5 666.14,12.47 666.72,12.44 667.3,12.42 667.88,12.39 668.46,12.36 669.04,12.34 669.61,12.31 670.19,12.28 670.77,12.25 671.35,12.23 671.93,12.2 672.5,12.17 673.08,12.15 673.66,12.12 674.24,12.1 674.82,12.07 675.4,12.04 675.97,12.02 676.55,11.99 677.13,11.97 677.71,11.94 678.29,11.91 678.87,11.89 679.44,11.86 680.02,11.84 680.6,11.81" fill="none" stroke="#000000" stroke-width="1.1"/>
<polyline points="392.07,7.02 392.65,7.2 393.23,7.48 393.8,7.9 394.38,8.53 394.96,9.44 395.54,10.73 396.12,12.5 396.7,14.89 397.27,18.01 397.85,22 398.43,26.95 399.01,32.96 399.59,40.05 400.17,48.2 400.74,57.34 401.32,67.31 401.9,77.9 402.48,88.85 403.06,99.85 403.63,110.6 404.21,120.8 404.79,130.17 405.37,138.5 405.95,145.64 406.53,151.5 407.1,156.08 407.68,159.41 408.26,161.6 408.84,162.78 409.42,163.08 409.99,162.68 410.57,161.71 411.15,160.31 411.73,158.59 412.31,156.66 412.89,154.59 413.46,152.43 414.04,150.23 414.62,148.02 415.2,145.82 415.78,143.65 416.36,141.5 416.93,139.39 417.51,137.32 418.09,135.29 418.67,133.29 419.25,131.34 419.82,129.43 420.4,127.55 420.98,125.71 421.56,123.91 422.14,122.15 422.72,120.42 423.29,118.72 423.87,117.06 424.45,115.43 425.03,113.83 425.61,112.27 426.18,110.73 426.76,109.23 427.34,107.75 427.92,106.3 428.5,104.89 429.08,103.49 429.65,102.13 430.23,100.79 430.81,99.48 431.39,98.19 431.97,96.93 432.55,95.69 433.12,94.48 433.7,93.28 434.28,92.11 434.86,90.97 435.44,89.84 436.01,88.73 436.59,87.65 437.17,86.58 437.75,85.54 438.33,84.51 438.91,83.51 439.48,82.52 440.06,81.55 440.64,80.6 441.22,79.66 441.8,78.74 442.37,77.84 442.95,76.95 443.53,76.08 444.11,75.23 444.69,74.39 445.27,73.57 445.84,72.76 446.42,71.96 447,71.18 447.58,70.41 448.16,69.65 448.74,68.91 449.31,68.18 449.89,67.47 450.47,66.76 451.05,66.07 451.63,65.39 452.2,64.72 452.78,64.06 453.36,63.41 453.94,62.78 454.52,62.15 455.1,61.54 455.67,60.93 456.25,60.34 456.83,59.75 457.41,59.17 457.99,58.61 458.56,58.05 459.14,57.5 459.72,56.96 460.3,56.43 460.88,55.91 461.46,55.39 462.03,54.89 462.61,54.39 463.19,53.9 463.77,53.41 464.35,52.94 464.93,52.47 465.5,52.01 466.08,51.55 466.66,51.11 467.24,50.67 467.82,50.23 468.39,49.8 468.97,49.38 469.55,48.97 470.13,48.56 470.71,48.16 471.29,47.76 471.86,47.37 472.44,46.98 473.02,46.6 473.6,46.23 474.18,45.86 474.75,45.49 475.33,45.14 475.91,44.78 476.49,44.43 477.07,44.09 477.65,43.75 478.22,43.42 478.8,43.09 479.38,42.76 479.96,42.44 480.54,42.12 481.12,41.81 481.69,41.5 482.27,41.2 482.85,40.9 483.43,40.6 484.01,40.31 484.58,40.02 485.16,39.74 485.74,39.46 486.32,39.18 486.9,38.91 487.48,38.63 488.05,38.37 488.63,38.1 489.21,37.84 489.79,37.59 490.37,37.33 490.95,37.08 491.52,36.84 492.1,36.59 492.68,36.35 493.26,36.11 493.84,35.88 494.41,35.64 494.99,35.41 495.57,35.19 496.15,34.96 496.73,34.74 497.31,34.52 497.88,34.31 498.46,34.09 499.04,33.88 499.62,33.67 500.2,33.46 500.77,33.26 501.35,33.06 501.93,32.86 502.51,32.66 503.09,32.47 503.67,32.27 504.24,32.08 504.82,31.89 505.4,31.71 505.98,31.52 506.56,31.34 507.14,31.16 507.71,30.98 508.29,30.8 508.87,30.63 509.45,30.46 510.03,30.29 510.6,30.12 511.18,29.95 511.76,29.78 512.34,29.62 512.92,29.46 513.5,29.3 514.07,29.14 514.65,28.98 515.23,28.83 515.81,28.67 516.39,28.52 516.96,28.37 517.54,28.22 518.12,28.07 518.7,27.92 519.28,27.78 519.86,27.64 520.43,27.49 521.01,27.35 521.59,27.22 522.17,27.08 522.75,26.94 523.33,26.81 523.9,26.67 524.48,26.54 525.06,26.41 525.64,26.28 526.22,26.15 526.79,26.02 527.37,25.9 527.95,25.77 528.53,25.65 529.11,25.53 529.69,25.4 530.26,25.28 530.84,25.16 531.42,25.05 532,24.93 532.58,24.81 533.15,24.7 533.73,24.59 534.31,24.47 534.89,24.36 535.47,24.25 536.05,24.14 536.62,24.03 537.2,23.92 537.78,23.82 538.36,23.71 538.94,23.61 539.52,23.5 540.09,23.4 540.67,23.3 541.25,23.2 541.83,23.1 542.41,23 542.98,22.9 543.56,22.8 544.14,22.71 544.72,22.61 545.3,22.52 545.88,22.42 546.45,22.33 547.03,22.24 547.61,22.14 548.19,22.05 548.77,21.96 549.34,21.87 549.92,21.78 550.5,21.7 551.08,21.61 551.66,21.52 552.24,21.44 552.81,21.35 553.39,21.27 553.97,21.19 554.55,21.1 555.13,21.02 555.71,20.94 556.28,20.86 556.86,20.78 557.44,20.7 558.02,20.62 558.6,20.54 559.17,20.46 559.75,20.39 560.33,20.31 560.91,20.24 561.49,20.16 562.07,20.09 562.64,20.01 563.22,19.94 563.8,19.87 564.38,19.8 564.96,19.73 565.53,19.66 566.11,19.59 566.69,19.52 567.27,19.45 567.85,19.38 568.43,19.31 569,19.24 569.58,19.18 570.16,19.11 570.74,19.04 571.32,18.98 571.9,18.92 572.47,18.85 573.05,18.79 573.63,18.72 574.21,18.66 574.79,18.6 575.36,18.54 575.94,18.48 576.52,18.42 577.1,18.36 577.68,18.3 578.26,18.24 578.83,18.18 579.41,18.12 579.99,18.06 580.57,18.01 581.15,17.95 581.72,17.89 582.3,17.84 582.88,17.78 583.46,17.73 584.04,17.67 584.62,17.62 585.19,17.56 585.77,17.51 586.35,17.46 586.93,17.4 587.51,17.35 588.09,17.3 588.66,17.25 589.24,17.2 589.82,17.15 590.4,17.1 590.98,17.05 591.55,17 592.13,16.95 592.71,16.9 593.29,16.85 593.87,16.81 594.45,16.76 595.02,16.71 595.6,16.66 596.18,16.62 596.76,16.57 597.34,16.53 597.92,16.48 598.49,16.44 599.07,16.39 599.65,16.35 600.23,16.3 600.81,16.26 601.38,16.22 601.96,16.17 602.54,16.13 603.12,16.09 603.7,16.05 604.28,16 604.85,15.96 605.43,15.92 606.01,15.88 606.59,15.84 607.17,15.8 607.74,15.76 608.32,15.72 608.9,15.68 609.48,15.64 610.06,15.6 610.64,15.57 611.21,15.53 611.79,15.49 612.37,15.45 612.95,15.42 613.53,15.38 614.11,15.34 614.68,15.31 615.26,15.27 615.84,15.23 616.42,15.2 617,15.16 617.57,15.13 618.15,15.09 618.73,15.06 619.31,15.03 619.89,14.99 620.47,14.96 621.04,14.93 621.62,14.89 622.2,14.86 622.78,14.83 623.36,14.79 623.93,14.76 624.51,14.73 625.09,14.7 625.67,14.67 626.25,14.64 626.83,14.6 627.4,14.57 627.98,14.54 628.56,14.51 629.14,14.48 629.72,14.45 630.3,14.42 630.87,14.39 631.45,14.37 632.03,14.34 632.61,14.31 633.19,14.28 633.76,14.25 634.34,14.22 634.92,14.19 635.5,14.17 636.08,14.14 636.66,14.11 637.23,14.09 637.81,14.06 638.39,14.03 638.97,14.01 639.55,13.98 640.12,13.95 640.7,13.93 641.28,13.9 641.86,13.88 642.44,13.85 643.02,13.83 643.59,13.8 644.17,13.78 644.75,13.75 645.33,13.73 645.91,13.7 646.49,13.68 647.06,13.66 647.64,13.63 648.22,13.61 648.8,13.58 649.38,13.56 649.95,13.54 650.53,13.52 651.11,13.49 651.69,13.47 652.27,13.45 652.85,13.43 653.42,13.4 654,13.38 654.58,13.36 655.16,13.34 655.74,13.32 656.31,13.3 656.89,13.28 657.47,13.26 658.05,13.23 658.63,13.21 659.21,13.19 659.78,13.17 660.36,13.15 660.94,13.13 661.52,13.11 662.1,13.09 662.68,13.08 663.25,13.06 663.83,13.04 664.41,13.02 664.99,13 665.57,12.98 666.14,12.96 666.72,12.94 667.3,12.92 667.88,12.91 668.46,12.89 669.04,12.87 669.61,12.85 670.19,12.83 670.77,12.82 671.35,12.8 671.93,12.78 672.5,12.77 673.08,12.75 673.66,12.73 674.24,12.71 674.82,12.7 675.4,12.68 675.97,12.67 676.55,12.65 677.13,12.63 677.71,12.62 678.29,12.6 678.87,12.58 679.44,12.57 680.02,12.55 680.6,12.54" fill="none" stroke="#e01010" stroke-width="1.1"/>
<polyline points="392.07,7.16 392.65,7.34 393.23,7.62 393.8,8.04 394.38,8.65 394.96,9.53 395.54,10.77 396.12,12.46 396.7,14.72 397.27,17.68 397.85,21.45 398.43,26.16 399.01,31.9 399.59,38.74 400.17,46.69 400.74,55.72 401.32,65.73 401.9,76.57 402.48,88.02 403.06,99.82 403.63,111.68 404.21,123.3 404.79,134.38 405.37,144.65 405.95,153.89 406.53,161.94 407.1,168.7 407.68,174.14 408.26,178.28 408.84,181.19 409.42,183 409.99,183.83 410.57,183.84 411.15,183.17 411.73,181.97 412.31,180.35 412.89,178.44 413.46,176.32 414.04,174.05 414.62,171.7 415.2,169.31 415.78,166.9 416.36,164.5 416.93,162.11 417.51,159.76 418.09,157.44 418.67,155.15 419.25,152.9 419.82,150.69 420.4,148.52 420.98,146.39 421.56,144.29 422.14,142.24 422.72,140.22 423.29,138.23 423.87,136.28 424.45,134.37 425.03,132.49 425.61,130.64 426.18,128.83 426.76,127.05 427.34,125.3 427.92,123.58 428.5,121.9 429.08,120.24 429.65,118.61 430.23,117.01 430.81,115.44 431.39,113.9 431.97,112.38 432.55,110.89 433.12,109.43 433.7,107.99 434.28,106.58 434.86,105.19 435.44,103.83 436.01,102.49 436.59,101.17 437.17,99.88 437.75,98.61 438.33,97.36 438.91,96.14 439.48,94.93 440.06,93.75 440.64,92.59 441.22,91.45 441.8,90.32 442.37,89.22 442.95,88.14 443.53,87.07 444.11,86.02 444.69,85 445.27,83.98 445.84,82.99 446.42,82.01 447,81.05 447.58,80.11 448.16,79.18 448.74,78.27 449.31,77.38 449.89,76.5 450.47,75.63 451.05,74.78 451.63,73.94 452.2,73.12 452.78,72.31 453.36,71.52 453.94,70.74 454.52,69.97 455.1,69.21 455.67,68.47 456.25,67.74 456.83,67.02 457.41,66.32 457.99,65.62 458.56,64.94 459.14,64.27 459.72,63.61 460.3,62.96 460.88,62.32 461.46,61.7 462.03,61.08 462.61,60.47 463.19,59.87 463.77,59.29 464.35,58.71 464.93,58.14 465.5,57.58 466.08,57.03 466.66,56.49 467.24,55.96 467.82,55.43 468.39,54.92 468.97,54.41 469.55,53.91 470.13,53.42 470.71,52.94 471.29,52.46 471.86,52 472.44,51.54 473.02,51.08 473.6,50.64 474.18,50.2 474.75,49.77 475.33,49.34 475.91,48.92 476.49,48.51 477.07,48.11 477.65,47.71 478.22,47.31 478.8,46.93 479.38,46.55 479.96,46.17 480.54,45.8 481.12,45.44 481.69,45.08 482.27,44.73 482.85,44.38 483.43,44.04 484.01,43.7 484.58,43.37 485.16,43.04 485.74,42.72 486.32,42.4 486.9,42.09 487.48,41.78 488.05,41.48 488.63,41.18 489.21,40.88 489.79,40.59 490.37,40.31 490.95,40.03 491.52,39.75 492.1,39.48 492.68,39.21 493.26,38.94 493.84,38.68 494.41,38.42 494.99,38.16 495.57,37.91 496.15,37.67 496.73,37.42 497.31,37.18 497.88,36.94 498.46,36.71 499.04,36.48 499.62,36.25 500.2,36.03 500.77,35.81 501.35,35.59 501.93,35.37 502.51,35.16 503.09,34.95 503.67,34.74 504.24,34.54 504.82,34.34 505.4,34.14 505.98,33.94 506.56,33.75 507.14,33.56 507.71,33.37 508.29,33.18 508.87,33 509.45,32.82 510.03,32.64 510.6,32.46 511.18,32.29 511.76,32.12 512.34,31.95 512.92,31.78 513.5,31.61 514.07,31.45 514.65,31.29 515.23,31.13 515.81,30.97 516.39,30.81 516.96,30.66 517.54,30.51 518.12,30.36 518.7,30.21 519.28,30.06 519.86,29.92 520.43,29.77 521.01,29.63 521.59,29.49 522.17,29.35 522.75,29.22 523.33,29.08 523.9,28.95 524.48,28.81 525.06,28.68 525.64,28.56 526.22,28.43 526.79,28.3 527.37,28.18 527.95,28.05 528.53,27.93 529.11,27.81 529.69,27.69 530.26,27.57 530.84,27.45 531.42,27.34 532,27.22 532.58,27.11 533.15,27 533.73,26.89 534.31,26.78 534.89,26.67 535.47,26.56 536.05,26.45 536.62,26.35 537.2,26.25 537.78,26.14 538.36,26.04 538.94,25.94 539.52,25.84 540.09,25.74 540.67,25.64 541.25,25.54 541.83,25.45 542.41,25.35 542.98,25.26 543.56,25.16 544.14,25.07 544.72,24.98 545.3,24.89 545.88,24.8 546.45,24.71 547.03,24.62 547.61,24.53 548.19,24.44 548.77,24.36 549.34,24.27 549.92,24.19 550.5,24.1 551.08,24.02 551.66,23.94 552.24,23.85 552.81,23.77 553.39,23.69 553.97,23.61 554.55,23.53 555.13,23.46 555.71,23.38 556.28,23.3 556.86,23.22 557.44,23.15 558.02,23.07 558.6,23 559.17,22.92 559.75,22.85 560.33,22.78 560.91,22.71 561.49,22.63 562.07,22.56 562.64,22.49 563.22,22.42 563.8,22.35 564.38,22.28 564.96,22.21 565.53,22.15 566.11,22.08 566.69,22.01 567.27,21.94 567.85,21.88 568.43,21.81 569,21.75 569.58,21.68 570.16,21.62 570.74,21.56 571.32,21.49 571.9,21.43 572.47,21.37 573.05,21.3 573.63,21.24 574.21,21.18 574.79,21.12 575.36,21.06 575.94,21 576.52,20.94 577.1,20.88 577.68,20.82 578.26,20.77 578.83,20.71 579.41,20.65 579.99,20.59 580.57,20.54 581.15,20.48 581.72,20.42 582.3,20.37 582.88,20.31 583.46,20.26 584.04,20.2 584.62,20.15 585.19,20.09 585.77,20.04 586.35,19.99 586.93,19.93 587.51,19.88 588.09,19.83 588.66,19.78 589.24,19.72 589.82,19.67 590.4,19.62 590.98,19.57 591.55,19.52 592.13,19.47 592.71,19.42 593.29,19.37 593.87,19.32 594.45,19.27 595.02,19.22 595.6,19.17 596.18,19.13 596.76,19.08 597.34,19.03 597.92,18.98 598.49,18.94 599.07,18.89 599.65,18.84 600.23,18.79 600.81,18.75 601.38,18.7 601.96,18.66 602.54,18.61 603.12,18.57 603.7,18.52 604.28,18.48 604.85,18.43 605.43,18.39 606.01,18.34 606.59,18.3 607.17,18.25 607.74,18.21 608.32,18.17 608.9,18.12 609.48,18.08 610.06,18.04 610.64,18 611.21,17.95 611.79,17.91 612.37,17.87 612.95,17.83 613.53,17.79 614.11,17.75 614.68,17.71 615.26,17.66 615.84,17.62 616.42,17.58 617,17.54 617.57,17.5 618.15,17.46 618.73,17.42 619.31,17.38 619.89,17.35 620.47,17.31 621.04,17.27 621.62,17.23 622.2,17.19 622.78,17.15 623.36,17.11 623.93,17.08 624.51,17.04 625.09,17 625.67,16.96 626.25,16.92 626.83,16.89 627.4,16.85 627.98,16.81 628.56,16.78 629.14,16.74 629.72,16.7 630.3,16.67 630.87,16.63 631.45,16.6 632.03,16.56 632.61,16.52 633.19,16.49 633.76,16.45 634.34,16.42 634.92,16.38 635.5,16.35 636.08,16.31 636.66,16.28 637.23,16.25 637.81,16.21 638.39,16.18 638.97,16.14 639.55,16.11 640.12,16.08 640.7,16.04 641.28,16.01 641.86,15.98 642.44,15.94 643.02,15.91 643.59,15.88 644.17,15.84 644.75,15.81 645.33,15.78 645.91,15.75 646.49,15.71 647.06,15.68 647.64,15.65 648.22,15.62 648.8,15.59 649.38,15.56 649.95,15.52 650.53,15.49 651.11,15.46 651.69,15.43 652.27,15.4 652.85,15.37 653.42,15.34 654,15.31 654.58,15.28 655.16,15.25 655.74,15.22 656.31,15.19 656.89,15.16 657.47,15.13 658.05,15.1 658.63,15.07 659.21,15.04 659.78,15.01 660.36,14.98 660.94,14.95 661.52,14.92 662.1,14.89 662.68,14.87 663.25,14.84 663.83,14.81 664.41,14.78 664.99,14.75 665.57,14.72 666.14,14.7 666.72,14.67 667.3,14.64 667.88,14.61 668.46,14.58 669.04,14.56 669.61,14.53 670.19,14.5 670.77,14.47 671.35,14.45 671.93,14.42 672.5,14.39 673.08,14.37 673.66,14.34 674.24,14.31 674.82,14.29 675.4,14.26 675.97,14.23 676.55,14.21 677.13,14.18 677.71,14.16 678.29,14.13 678.87,14.1 679.44,14.08 680.02,14.05 680.6,14.03" fill="none" stroke="#0000e0" stroke-width="1.1"/>
<polyline points="392.07,7.19 392.65,7.48 393.23,7.89 393.8,8.46 394.38,9.25 394.96,10.33 395.54,11.76 396.12,13.64 396.7,16.05 397.27,19.11 397.85,22.92 398.43,27.56 399.01,33.14 399.59,39.72 400.17,47.33 400.74,55.99 401.32,65.66 401.9,76.25 402.48,87.64 403.06,99.64 403.63,112.04 404.21,124.6 404.79,137.03 405.37,149.07 405.95,160.45 406.53,170.93 407.1,180.3 407.68,188.4 408.26,195.12 408.84,200.42 409.42,204.31 409.99,206.84 410.57,208.1 411.15,208.24 411.73,207.4 412.31,205.75 412.89,203.47 413.46,200.69 414.04,197.58 414.62,194.26 415.2,190.83 415.78,187.38 416.36,183.97 416.93,180.65 417.51,177.45 418.09,174.38 418.67,171.45 419.25,168.65 419.82,165.99 420.4,163.45 420.98,161.03 421.56,158.7 422.14,156.46 422.72,154.31 423.29,152.22 423.87,150.19 424.45,148.22 425.03,146.29 425.61,144.41 426.18,142.57 426.76,140.77 427.34,139 427.92,137.26 428.5,135.55 429.08,133.87 429.65,132.21 430.23,130.58 430.81,128.98 431.39,127.4 431.97,125.84 432.55,124.31 433.12,122.79 433.7,121.3 434.28,119.83 434.86,118.38 435.44,116.96 436.01,115.55 436.59,114.16 437.17,112.79 437.75,111.44 438.33,110.11 438.91,108.8 439.48,107.5 440.06,106.23 440.64,104.97 441.22,103.73 441.8,102.5 442.37,101.3 442.95,100.11 443.53,98.93 444.11,97.78 444.69,96.64 445.27,95.51 445.84,94.4 446.42,93.31 447,92.23 447.58,91.17 448.16,90.12 448.74,89.09 449.31,88.07 449.89,87.06 450.47,86.07 451.05,85.09 451.63,84.13 452.2,83.18 452.78,82.24 453.36,81.32 453.94,80.41 454.52,79.51 455.1,78.62 455.67,77.75 456.25,76.89 456.83,76.04 457.41,75.2 457.99,74.37 458.56,73.56 459.14,72.76 459.72,71.97 460.3,71.18 460.88,70.41 461.46,69.66 462.03,68.91 462.61,68.17 463.19,67.44 463.77,66.72 464.35,66.01 464.93,65.32 465.5,64.63 466.08,63.95 466.66,63.28 467.24,62.62 467.82,61.97 468.39,61.33 468.97,60.7 469.55,60.07 470.13,59.46 470.71,58.85 471.29,58.25 471.86,57.66 472.44,57.08 473.02,56.51 473.6,55.94 474.18,55.38 474.75,54.83 475.33,54.29 475.91,53.76 476.49,53.23 477.07,52.71 477.65,52.2 478.22,51.69 478.8,51.19 479.38,50.7 479.96,50.22 480.54,49.74 481.12,49.27 481.69,48.8 482.27,48.34 482.85,47.89 483.43,47.45 484.01,47.01 484.58,46.57 485.16,46.15 485.74,45.73 486.32,45.31 486.9,44.9 487.48,44.5 488.05,44.1 488.63,43.71 489.21,43.32 489.79,42.94 490.37,42.56 490.95,42.19 491.52,41.82 492.1,41.46 492.68,41.11 493.26,40.76 493.84,40.41 494.41,40.07 494.99,39.73 495.57,39.4 496.15,39.07 496.73,38.75 497.31,38.43 497.88,38.12 498.46,37.81 499.04,37.5 499.62,37.2 500.2,36.91 500.77,36.61 501.35,36.33 501.93,36.04 502.51,35.76 503.09,35.48 503.67,35.21 504.24,34.94 504.82,34.68 505.4,34.42 505.98,34.16 506.56,33.9 507.14,33.65 507.71,33.41 508.29,33.16 508.87,32.92 509.45,32.69 510.03,32.45 510.6,32.22 511.18,31.99 511.76,31.77 512.34,31.55 512.92,31.33 513.5,31.12 514.07,30.9 514.65,30.7 515.23,30.49 515.81,30.29 516.39,30.09 516.96,29.89 517.54,29.69 518.12,29.5 518.7,29.31 519.28,29.13 519.86,28.94 520.43,28.76 521.01,28.58 521.59,28.4 522.17,28.23 522.75,28.06 523.33,27.89 523.9,27.72 524.48,27.56 525.06,27.4 525.64,27.24 526.22,27.08 526.79,26.92 527.37,26.77 527.95,26.62 528.53,26.47 529.11,26.32 529.69,26.18 530.26,26.03 530.84,25.89 531.42,25.75 532,25.62 532.58,25.48 533.15,25.35 533.73,25.22 534.31,25.09 534.89,24.96 535.47,24.83 536.05,24.71 536.62,24.59 537.2,24.47 537.78,24.35 538.36,24.23 538.94,24.11 539.52,24 540.09,23.89 540.67,23.77 541.25,23.67 541.83,23.56 542.41,23.45 542.98,23.35 543.56,23.24 544.14,23.14 544.72,23.04 545.3,22.94 545.88,22.84 546.45,22.75 547.03,22.65 547.61,22.56 548.19,22.46 548.77,22.37 549.34,22.28 549.92,22.19 550.5,22.11 551.08,22.02 551.66,21.93 552.24,21.85 552.81,21.77 553.39,21.69 553.97,21.61 554.55,21.53 555.13,21.45 555.71,21.37 556.28,21.3 556.86,21.22 557.44,21.15 558.02,21.07 558.6,21 559.17,20.93 559.75,20.86 560.33,20.79 560.91,20.72 561.49,20.66 562.07,20.59 562.64,20.53 563.22,20.46 563.8,20.4 564.38,20.33 564.96,20.27 565.53,20.21 566.11,20.15 566.69,20.09 567.27,20.04 567.85,19.98 568.43,19.92 569,19.87 569.58,19.81 570.16,19.76 570.74,19.7 571.32,19.65 571.9,19.6 572.47,19.55 573.05,19.5 573.63,19.45 574.21,19.4 574.79,19.35 575.36,19.3 575.94,19.25 576.52,19.21 577.1,19.16 577.68,19.11 578.26,19.07 578.83,19.03 579.41,18.98 579.99,18.94 580.57,18.9 581.15,18.86 581.72,18.81 582.3,18.77 582.88,18.73 583.46,18.7 584.04,18.66 584.62,18.62 585.19,18.58 585.77,18.54 586.35,18.51 586.93,18.47 587.51,18.43 588.09,18.4 588.66,18.36 589.24,18.33 589.82,18.3 590.4,18.26 590.98,18.23 591.55,18.2 592.13,18.17 592.71,18.14 593.29,18.1 593.87,18.07 594.45,18.04 595.02,18.01 595.6,17.98 596.18,17.96 596.76,17.93 597.34,17.9 597.92,17.87 598.49,17.84 599.07,17.82 599.65,17.79 600.23,17.76 600.81,17.74 601.38,17.71 601.96,17.69 602.54,17.66 603.12,17.64 603.7,17.61 604.28,17.59 604.85,17.57 605.43,17.54 606.01,17.52 606.59,17.5 607.17,17.48 607.74,17.46 608.32,17.43 608.9,17.41 609.48,17.39 610.06,17.37 610.64,17.35 611.21,17.33 611.79,17.31 612.37,17.29 612.95,17.27 613.53,17.25 614.11,17.23 614.68,17.22 615.26,17.2 615.84,17.18 616.42,17.16 617,17.14 617.57,17.13 618.15,17.11 618.73,17.09 619.31,17.08 619.89,17.06 620.47,17.05 621.04,17.03 621.62,17.01 622.2,17 622.78,16.98 623.36,16.97 623.93,16.95 624.51,16.94 625.09,16.92 625.67,16.91 626.25,16.9 626.83,16.88 627.4,16.87 627.98,16.86 628.56,16.84 629.14,16.83 629.72,16.82 630.3,16.8 630.87,16.79 631.45,16.78 632.03,16.77 632.61,16.76 633.19,16.74 633.76,16.73 634.34,16.72 634.92,16.71 635.5,16.7 636.08,16.69 636.66,16.68 637.23,16.67 637.81,16.66 638.39,16.64 638.97,16.63 639.55,16.62 640.12,16.61 640.7,16.6 641.28,16.6 641.86,16.59 642.44,16.58 643.02,16.57 643.59,16.56 644.17,16.55 644.75,16.54 645.33,16.53 645.91,16.52 646.49,16.51 647.06,16.51 647.64,16.5 648.22,16.49 648.8,16.48 649.38,16.47 649.95,16.47 650.53,16.46 651.11,16.45 651.69,16.44 652.27,16.43 652.85,16.43 653.42,16.42 654,16.41 654.58,16.41 655.16,16.4 655.74,16.39 656.31,16.39 656.89,16.38 657.47,16.37 658.05,16.37 658.63,16.36 659.21,16.35 659.78,16.35 660.36,16.34 660.94,16.34 661.52,16.33 662.1,16.32 662.68,16.32 663.25,16.31 663.83,16.31 664.41,16.3 664.99,16.3 665.57,16.29 666.14,16.28 666.72,16.28 667.3,16.27 667.88,16.27 668.46,16.26 669.04,16.26 669.61,16.25 670.19,16.25 670.77,16.25 671.35,16.24 671.93,16.24 672.5,16.23 673.08,16.23 673.66,16.22 674.24,16.22 674.82,16.21 675.4,16.21 675.97,16.21 676.55,16.2 677.13,16.2 677.71,16.19 678.29,16.19 678.87,16.19 679.44,16.18 680.02,16.18 680.6,16.17" fill="none" stroke="#6a0a0a" stroke-width="1.1"/>
<polyline points="392.07,7.77 392.65,7.81 393.23,7.88 393.8,8 394.38,8.21 394.96,8.56 395.54,9.1 396.12,9.95 396.7,11.23 397.27,13.1 397.85,15.75 398.43,19.39 399.01,24.25 399.59,30.55 400.17,38.47 400.74,48.13 401.32,59.56 401.9,72.68 402.48,87.29 403.06,103.05 403.63,119.54 404.21,136.23 404.79,152.59 405.37,168.09 405.95,182.27 406.53,194.75 407.1,205.28 407.68,213.76 408.26,220.19 408.84,224.69 409.42,227.45 409.99,228.71 410.57,228.75 411.15,227.81 411.73,226.14 412.31,223.94 412.89,221.38 413.46,218.57 414.04,215.63 414.62,212.61 415.2,209.57 415.78,206.54 416.36,203.53 416.93,200.56 417.51,197.62 418.09,194.74 418.67,191.9 419.25,189.11 419.82,186.36 420.4,183.67 420.98,181.02 421.56,178.41 422.14,175.85 422.72,173.33 423.29,170.86 423.87,168.43 424.45,166.04 425.03,163.69 425.61,161.38 426.18,159.11 426.76,156.88 427.34,154.69 427.92,152.53 428.5,150.41 429.08,148.33 429.65,146.28 430.23,144.27 430.81,142.29 431.39,140.35 431.97,138.44 432.55,136.56 433.12,134.71 433.7,132.9 434.28,131.11 434.86,129.36 435.44,127.63 436.01,125.94 436.59,124.27 437.17,122.63 437.75,121.02 438.33,119.43 438.91,117.88 439.48,116.35 440.06,114.84 440.64,113.36 441.22,111.91 441.8,110.47 442.37,109.07 442.95,107.68 443.53,106.32 444.11,104.99 444.69,103.67 445.27,102.38 445.84,101.11 446.42,99.86 447,98.63 447.58,97.42 448.16,96.23 448.74,95.06 449.31,93.91 449.89,92.78 450.47,91.67 451.05,90.58 451.63,89.5 452.2,88.44 452.78,87.4 453.36,86.38 453.94,85.38 454.52,84.39 455.1,83.41 455.67,82.46 456.25,81.51 456.83,80.59 457.41,79.68 457.99,78.78 458.56,77.9 459.14,77.03 459.72,76.18 460.3,75.34 460.88,74.52 461.46,73.7 462.03,72.91 462.61,72.12 463.19,71.35 463.77,70.59 464.35,69.84 464.93,69.1 465.5,68.38 466.08,67.67 466.66,66.96 467.24,66.27 467.82,65.59 468.39,64.93 468.97,64.27 469.55,63.62 470.13,62.99 470.71,62.36 471.29,61.74 471.86,61.14 472.44,60.54 473.02,59.95 473.6,59.37 474.18,58.8 474.75,58.24 475.33,57.69 475.91,57.15 476.49,56.61 477.07,56.09 477.65,55.57 478.22,55.06 478.8,54.56 479.38,54.06 479.96,53.58 480.54,53.1 481.12,52.63 481.69,52.16 482.27,51.71 482.85,51.26 483.43,50.81 484.01,50.38 484.58,49.95 485.16,49.52 485.74,49.11 486.32,48.7 486.9,48.29 487.48,47.9 488.05,47.5 488.63,47.12 489.21,46.74 489.79,46.36 490.37,45.99 490.95,45.63 491.52,45.27 492.1,44.92 492.68,44.57 493.26,44.23 493.84,43.89 494.41,43.56 494.99,43.23 495.57,42.91 496.15,42.59 496.73,42.28 497.31,41.97 497.88,41.66 498.46,41.36 499.04,41.07 499.62,40.78 500.2,40.49 500.77,40.21 501.35,39.93 501.93,39.65 502.51,39.38 503.09,39.11 503.67,38.85 504.24,38.59 504.82,38.33 505.4,38.08 505.98,37.83 506.56,37.59 507.14,37.35 507.71,37.11 508.29,36.87 508.87,36.64 509.45,36.41 510.03,36.18 510.6,35.96 511.18,35.74 511.76,35.52 512.34,35.31 512.92,35.1 513.5,34.89 514.07,34.69 514.65,34.48 515.23,34.28 515.81,34.09 516.39,33.89 516.96,33.7 517.54,33.51 518.12,33.32 518.7,33.14 519.28,32.96 519.86,32.78 520.43,32.6 521.01,32.42 521.59,32.25 522.17,32.08 522.75,31.91 523.33,31.74 523.9,31.58 524.48,31.42 525.06,31.26 525.64,31.1 526.22,30.94 526.79,30.79 527.37,30.63 527.95,30.48 528.53,30.33 529.11,30.19 529.69,30.04 530.26,29.9 530.84,29.76 531.42,29.62 532,29.48 532.58,29.34 533.15,29.2 533.73,29.07 534.31,28.94 534.89,28.81 535.47,28.68 536.05,28.55 536.62,28.43 537.2,28.3 537.78,28.18 538.36,28.06 538.94,27.94 539.52,27.82 540.09,27.7 540.67,27.58 541.25,27.47 541.83,27.35 542.41,27.24 542.98,27.13 543.56,27.02 544.14,26.91 544.72,26.8 545.3,26.7 545.88,26.59 546.45,26.49 547.03,26.38 547.61,26.28 548.19,26.18 548.77,26.08 549.34,25.98 549.92,25.88 550.5,25.78 551.08,25.69 551.66,25.59 552.24,25.5 552.81,25.41 553.39,25.31 553.97,25.22 554.55,25.13 555.13,25.04 555.71,24.95 556.28,24.87 556.86,24.78 557.44,24.69 558.02,24.61 558.6,24.52 559.17,24.44 559.75,24.36 560.33,24.27 560.91,24.19 561.49,24.11 562.07,24.03 562.64,23.95 563.22,23.88 563.8,23.8 564.38,23.72 564.96,23.64 565.53,23.57 566.11,23.49 566.69,23.42 567.27,23.35 567.85,23.27 568.43,23.2 569,23.13 569.58,23.06 570.16,22.99 570.74,22.92 571.32,22.85 571.9,22.78 572.47,22.71 573.05,22.64 573.63,22.58 574.21,22.51 574.79,22.44 575.36,22.38 575.94,22.31 576.52,22.25 577.1,22.18 577.68,22.12 578.26,22.06 578.83,22 579.41,21.93 579.99,21.87 580.57,21.81 581.15,21.75 581.72,21.69 582.3,21.63 582.88,21.57 583.46,21.51 584.04,21.46 584.62,21.4 585.19,21.34 585.77,21.28 586.35,21.23 586.93,21.17 587.51,21.12 588.09,21.06 588.66,21 589.24,20.95 589.82,20.9 590.4,20.84 590.98,20.79 591.55,20.74 592.13,20.68 592.71,20.63 593.29,20.58 593.87,20.53 594.45,20.48 595.02,20.42 595.6,20.37 596.18,20.32 596.76,20.27 597.34,20.22 597.92,20.18 598.49,20.13 599.07,20.08 599.65,20.03 600.23,19.98 600.81,19.93 601.38,19.89 601.96,19.84 602.54,19.79 603.12,19.75 603.7,19.7 604.28,19.65 604.85,19.61 605.43,19.56 606.01,19.52 606.59,19.47 607.17,19.43 607.74,19.38 608.32,19.34 608.9,19.3 609.48,19.25 610.06,19.21 610.64,19.17 611.21,19.12 611.79,19.08 612.37,19.04 612.95,19 613.53,18.95 614.11,18.91 614.68,18.87 615.26,18.83 615.84,18.79 616.42,18.75 617,18.71 617.57,18.67 618.15,18.63 618.73,18.59 619.31,18.55 619.89,18.51 620.47,18.47 621.04,18.43 621.62,18.39 622.2,18.35 622.78,18.31 623.36,18.28 623.93,18.24 624.51,18.2 625.09,18.16 625.67,18.13 626.25,18.09 626.83,18.05 627.4,18.01 627.98,17.98 628.56,17.94 629.14,17.9 629.72,17.87 630.3,17.83 630.87,17.8 631.45,17.76 632.03,17.73 632.61,17.69 633.19,17.66 633.76,17.62 634.34,17.59 634.92,17.55 635.5,17.52 636.08,17.48 636.66,17.45 637.23,17.41 637.81,17.38 638.39,17.35 638.97,17.31 639.55,17.28 640.12,17.25 640.7,17.21 641.28,17.18 641.86,17.15 642.44,17.12 643.02,17.08 643.59,17.05 644.17,17.02 644.75,16.99 645.33,16.96 645.91,16.92 646.49,16.89 647.06,16.86 647.64,16.83 648.22,16.8 648.8,16.77 649.38,16.74 649.95,16.71 650.53,16.68 651.11,16.65 651.69,16.62 652.27,16.59 652.85,16.56 653.42,16.53 654,16.5 654.58,16.47 655.16,16.44 655.74,16.41 656.31,16.38 656.89,16.35 657.47,16.32 658.05,16.29 658.63,16.26 659.21,16.23 659.78,16.2 660.36,16.18 660.94,16.15 661.52,16.12 662.1,16.09 662.68,16.06 663.25,16.04 663.83,16.01 664.41,15.98 664.99,15.95 665.57,15.93 666.14,15.9 666.72,15.87 667.3,15.84 667.88,15.82 668.46,15.79 669.04,15.76 669.61,15.74 670.19,15.71 670.77,15.68 671.35,15.66 671.93,15.63 672.5,15.6 673.08,15.58 673.66,15.55 674.24,15.53 674.82,15.5 675.4,15.48 675.97,15.45 676.55,15.42 677.13,15.4 677.71,15.37 678.29,15.35 678.87,15.32 679.44,15.3 680.02,15.27 680.6,15.25" fill="none" stroke="#2d7a18" stroke-width="1.1"/>
</g>
<rect x="48" y="1.5" width="288.7" height="231.8" fill="none" stroke="#000" stroke-width="1.75"/>
<line x1="61.6" y1="233.3" x2="61.6" y2="237.6" stroke="#000" stroke-width="1.6"/>
<text x="61.6" y="251" font-size="13" font-weight="bold" text-anchor="middle" >0</text>
<line x1="107.5" y1="233.3" x2="107.5" y2="237.6" stroke="#000" stroke-width="1.6"/>
<text x="107.5" y="251" font-size="13" font-weight="bold" text-anchor="middle" >1</text>
<line x1="153.4" y1="233.3" x2="153.4" y2="237.6" stroke="#000" stroke-width="1.6"/>
<text x="153.4" y="251" font-size="13" font-weight="bold" text-anchor="middle" >2</text>
<line x1="199.3" y1="233.3" x2="199.3" y2="237.6" stroke="#000" stroke-width="1.6"/>
<text x="199.3" y="251" font-size="13" font-weight="bold" text-anchor="middle" >3</text>
<line x1="245.2" y1="233.3" x2="245.2" y2="237.6" stroke="#000" stroke-width="1.6"/>
<text x="245.2" y="251" font-size="13" font-weight="bold" text-anchor="middle" >4</text>
<line x1="291.1" y1="233.3" x2="291.1" y2="237.6" stroke="#000" stroke-width="1.6"/>
<text x="291.1" y="251" font-size="13" font-weight="bold" text-anchor="middle" >5</text>
<line x1="337" y1="233.3" x2="337" y2="237.6" stroke="#000" stroke-width="1.6"/>
<text x="337" y="251" font-size="13" font-weight="bold" text-anchor="middle" >6</text>
<line x1="43.5" y1="6.8" x2="48" y2="6.8" stroke="#000" stroke-width="1.6"/>
<text x="40.6" y="10.7" font-size="13" font-weight="bold" text-anchor="end" >0</text>
<line x1="43.5" y1="59.55" x2="48" y2="59.55" stroke="#000" stroke-width="1.6"/>
<text x="40.6" y="63.45" font-size="13" font-weight="bold" text-anchor="end" >-5</text>
<line x1="43.5" y1="112.3" x2="48" y2="112.3" stroke="#000" stroke-width="1.6"/>
<text x="40.6" y="116.2" font-size="13" font-weight="bold" text-anchor="end" >-10</text>
<line x1="43.5" y1="165.05" x2="48" y2="165.05" stroke="#000" stroke-width="1.6"/>
<text x="40.6" y="168.95" font-size="13" font-weight="bold" text-anchor="end" >-15</text>
<line x1="43.5" y1="217.8" x2="48" y2="217.8" stroke="#000" stroke-width="1.6"/>
<text x="40.6" y="221.7" font-size="13" font-weight="bold" text-anchor="end" >-20</text>
<rect x="392.2" y="1.4" width="288.8" height="231.9" fill="none" stroke="#000" stroke-width="1.75"/>
<line x1="396.8" y1="233.3" x2="396.8" y2="237.6" stroke="#000" stroke-width="1.6"/>
<text x="396.8" y="251" font-size="13" font-weight="bold" text-anchor="middle" >0</text>
<line x1="444.1" y1="233.3" x2="444.1" y2="237.6" stroke="#000" stroke-width="1.6"/>
<text x="444.1" y="251" font-size="13" font-weight="bold" text-anchor="middle" >1</text>
<line x1="491.4" y1="233.3" x2="491.4" y2="237.6" stroke="#000" stroke-width="1.6"/>
<text x="491.4" y="251" font-size="13" font-weight="bold" text-anchor="middle" >2</text>
<line x1="538.7" y1="233.3" x2="538.7" y2="237.6" stroke="#000" stroke-width="1.6"/>
<text x="538.7" y="251" font-size="13" font-weight="bold" text-anchor="middle" >3</text>
<line x1="586" y1="233.3" x2="586" y2="237.6" stroke="#000" stroke-width="1.6"/>
<text x="586" y="251" font-size="13" font-weight="bold" text-anchor="middle" >4</text>
<line x1="633.3" y1="233.3" x2="633.3" y2="237.6" stroke="#000" stroke-width="1.6"/>
<text x="633.3" y="251" font-size="13" font-weight="bold" text-anchor="middle" >5</text>
<line x1="680.6" y1="233.3" x2="680.6" y2="237.6" stroke="#000" stroke-width="1.6"/>
<text x="680.6" y="251" font-size="13" font-weight="bold" text-anchor="middle" >6</text>
<line x1="387.7" y1="7" x2="392.2" y2="7" stroke="#000" stroke-width="1.6"/>
<text x="384.4" y="10.9" font-size="13" font-weight="bold" text-anchor="end" >0</text>
<line x1="387.7" y1="63.5" x2="392.2" y2="63.5" stroke="#000" stroke-width="1.6"/>
<text x="384.4" y="67.4" font-size="13" font-weight="bold" text-anchor="end" >-5</text>
<line x1="387.7" y1="120" x2="392.2" y2="120" stroke="#000" stroke-width="1.6"/>
<text x="384.4" y="123.9" font-size="13" font-weight="bold" text-anchor="end" >-10</text>
<line x1="387.7" y1="176.5" x2="392.2" y2="176.5" stroke="#000" stroke-width="1.6"/>
<text x="384.4" y="180.4" font-size="13" font-weight="bold" text-anchor="end" >-15</text>
<line x1="387.7" y1="233" x2="392.2" y2="233" stroke="#000" stroke-width="1.6"/>
<text x="384.4" y="236.9" font-size="13" font-weight="bold" text-anchor="end" >-20</text>
<text x="182.8" y="269" font-size="13" font-weight="bold" text-anchor="middle" >Decay time (ps)</text>
<text x="526.3" y="269" font-size="13" font-weight="bold" text-anchor="middle" >Decay time (ps)</text>
<text x="0" y="0" font-size="13" font-weight="bold" text-anchor="middle" transform="translate(19.6,123.9) rotate(-90)"><tspan font-weight="normal">Δ</tspan>T/T(mOD)</text>
<text x="0" y="0" font-size="13" font-weight="bold" text-anchor="middle" transform="translate(363.8,109.3) rotate(-90)"><tspan font-weight="normal">Δ</tspan>T/T(mOD)</text>
<text x="-0.5" y="19" font-size="19.5" font-weight="normal" text-anchor="start" >(a)</text>
<text x="347.3" y="19.2" font-size="19.5" font-weight="normal" text-anchor="start" >(b)</text>
<text x="0" y="291.2" font-size="19.5" font-weight="normal" text-anchor="start" >(c)</text>
<text x="347.3" y="291.5" font-size="19.5" font-weight="normal" text-anchor="start" >(d)</text>
<rect x="211.6" y="39.2" width="113.7" height="92.4" fill="#fff" stroke="#a8a8a8" stroke-width="0.9"/>
<circle cx="228.4" cy="50.2" r="4.5" fill="#000000"/>
<text x="247.4" y="54.2" font-size="13" font-weight="bold">1.1x10<tspan dy="-5.5" font-size="9">14</tspan><tspan dy="5.5">cm</tspan><tspan dy="-5.5" font-size="9">-2</tspan></text>
<circle cx="228.4" cy="68.2" r="4.5" fill="#ff1c0c"/>
<text x="247.4" y="72.2" font-size="13" font-weight="bold">1.3x10<tspan dy="-5.5" font-size="9">14</tspan><tspan dy="5.5">cm</tspan><tspan dy="-5.5" font-size="9">-2</tspan></text>
<circle cx="228.4" cy="86.2" r="4.5" fill="#1414ff"/>
<text x="247.4" y="90.2" font-size="13" font-weight="bold">1.5x10<tspan dy="-5.5" font-size="9">14</tspan><tspan dy="5.5">cm</tspan><tspan dy="-5.5" font-size="9">-2</tspan></text>
<circle cx="228.4" cy="104.3" r="4.5" fill="#7d1010"/>
<text x="247.4" y="108.3" font-size="13" font-weight="bold">1.7x10<tspan dy="-5.5" font-size="9">14</tspan><tspan dy="5.5">cm</tspan><tspan dy="-5.5" font-size="9">-2</tspan></text>
<circle cx="228.4" cy="122.4" r="4.5" fill="#35891f"/>
<text x="247.4" y="126.4" font-size="13" font-weight="bold">1.9x10<tspan dy="-5.5" font-size="9">14</tspan><tspan dy="5.5">cm</tspan><tspan dy="-5.5" font-size="9">-2</tspan></text>
<rect x="552.7" y="33.6" width="114" height="92" fill="#fff" stroke="#a8a8a8" stroke-width="0.9"/>
<circle cx="569.2" cy="44.4" r="3.0" fill="#000000"/>
<text x="588.4" y="48.4" font-size="13" font-weight="bold">1.1x10<tspan dy="-5.5" font-size="9">14</tspan><tspan dy="5.5">cm</tspan><tspan dy="-5.5" font-size="9">-2</tspan></text>
<circle cx="569.2" cy="62.4" r="3.0" fill="#ff1c0c"/>
<text x="588.4" y="66.4" font-size="13" font-weight="bold">1.3x10<tspan dy="-5.5" font-size="9">14</tspan><tspan dy="5.5">cm</tspan><tspan dy="-5.5" font-size="9">-2</tspan></text>
<circle cx="569.2" cy="80.2" r="3.0" fill="#1414ff"/>
<text x="588.4" y="84.2" font-size="13" font-weight="bold">1.5x10<tspan dy="-5.5" font-size="9">14</tspan><tspan dy="5.5">cm</tspan><tspan dy="-5.5" font-size="9">-2</tspan></text>
<circle cx="569.2" cy="98.2" r="3.0" fill="#7d1010"/>
<text x="588.4" y="102.2" font-size="13" font-weight="bold">1.7x10<tspan dy="-5.5" font-size="9">14</tspan><tspan dy="5.5">cm</tspan><tspan dy="-5.5" font-size="9">-2</tspan></text>
<circle cx="569.2" cy="116.4" r="3.0" fill="#35891f"/>
<text x="588.4" y="120.4" font-size="13" font-weight="bold">1.9x10<tspan dy="-5.5" font-size="9">14</tspan><tspan dy="5.5">cm</tspan><tspan dy="-5.5" font-size="9">-2</tspan></text>
<text x="212" y="166.7" font-size="12.2" font-weight="bold">MoS<tspan dy="3" font-size="8.5">2</tspan></text>
<text x="212" y="184.3" font-size="12.2" font-weight="bold" text-anchor="start" >pump - 1.85 eV</text>
<text x="212" y="199.1" font-size="12.2" font-weight="bold" text-anchor="start" >probe - 0.62 eV</text>
<text x="572.4" y="148" font-size="12.2" font-weight="bold">MoS<tspan dy="3" font-size="8.5">2</tspan></text>
<text x="572.4" y="165.6" font-size="12.2" font-weight="bold" text-anchor="start" >pump - 1.85 eV</text>
<text x="572.4" y="180.4" font-size="12.2" font-weight="bold" text-anchor="start" >probe - 0.31 eV</text>
<rect x="48.3" y="281.8" width="288.9" height="231.9" fill="none" stroke="#000" stroke-width="1.75"/>
<line x1="48.6" y1="513.7" x2="48.6" y2="518" stroke="#000" stroke-width="1.6"/>
<text x="48.6" y="531" font-size="13" font-weight="bold" text-anchor="middle" >1.0</text>
<line x1="100.66" y1="513.7" x2="100.66" y2="518" stroke="#000" stroke-width="1.6"/>
<text x="100.66" y="531" font-size="13" font-weight="bold" text-anchor="middle" >1.2</text>
<line x1="152.72" y1="513.7" x2="152.72" y2="518" stroke="#000" stroke-width="1.6"/>
<text x="152.72" y="531" font-size="13" font-weight="bold" text-anchor="middle" >1.4</text>
<line x1="204.78" y1="513.7" x2="204.78" y2="518" stroke="#000" stroke-width="1.6"/>
<text x="204.78" y="531" font-size="13" font-weight="bold" text-anchor="middle" >1.6</text>
<line x1="256.84" y1="513.7" x2="256.84" y2="518" stroke="#000" stroke-width="1.6"/>
<text x="256.84" y="531" font-size="13" font-weight="bold" text-anchor="middle" >1.8</text>
<line x1="308.9" y1="513.7" x2="308.9" y2="518" stroke="#000" stroke-width="1.6"/>
<text x="308.9" y="531" font-size="13" font-weight="bold" text-anchor="middle" >2.0</text>
<line x1="43.8" y1="490.73" x2="48.3" y2="490.73" stroke="#000" stroke-width="1.6"/>
<text x="39.6" y="494.62" font-size="13" font-weight="bold" text-anchor="end" >0.5</text>
<line x1="43.8" y1="444.3" x2="48.3" y2="444.3" stroke="#000" stroke-width="1.6"/>
<text x="39.6" y="448.2" font-size="13" font-weight="bold" text-anchor="end" >1.0</text>
<line x1="43.8" y1="397.88" x2="48.3" y2="397.88" stroke="#000" stroke-width="1.6"/>
<text x="39.6" y="401.77" font-size="13" font-weight="bold" text-anchor="end" >1.5</text>
<line x1="43.8" y1="351.45" x2="48.3" y2="351.45" stroke="#000" stroke-width="1.6"/>
<text x="39.6" y="355.35" font-size="13" font-weight="bold" text-anchor="end" >2.0</text>
<line x1="43.8" y1="305.03" x2="48.3" y2="305.03" stroke="#000" stroke-width="1.6"/>
<text x="39.6" y="308.93" font-size="13" font-weight="bold" text-anchor="end" >2.5</text>
<rect x="392.4" y="284" width="288.6" height="231.6" fill="none" stroke="#000" stroke-width="1.75"/>
<line x1="392.3" y1="515.6" x2="392.3" y2="519.9" stroke="#000" stroke-width="1.6"/>
<text x="392.3" y="532.9" font-size="13" font-weight="bold" text-anchor="middle" >1.0</text>
<line x1="444.7" y1="515.6" x2="444.7" y2="519.9" stroke="#000" stroke-width="1.6"/>
<text x="444.7" y="532.9" font-size="13" font-weight="bold" text-anchor="middle" >1.2</text>
<line x1="497.1" y1="515.6" x2="497.1" y2="519.9" stroke="#000" stroke-width="1.6"/>
<text x="497.1" y="532.9" font-size="13" font-weight="bold" text-anchor="middle" >1.4</text>
<line x1="549.5" y1="515.6" x2="549.5" y2="519.9" stroke="#000" stroke-width="1.6"/>
<text x="549.5" y="532.9" font-size="13" font-weight="bold" text-anchor="middle" >1.6</text>
<line x1="601.9" y1="515.6" x2="601.9" y2="519.9" stroke="#000" stroke-width="1.6"/>
<text x="601.9" y="532.9" font-size="13" font-weight="bold" text-anchor="middle" >1.8</text>
<line x1="654.3" y1="515.6" x2="654.3" y2="519.9" stroke="#000" stroke-width="1.6"/>
<text x="654.3" y="532.9" font-size="13" font-weight="bold" text-anchor="middle" >2.0</text>
<line x1="387.9" y1="502.4" x2="392.4" y2="502.4" stroke="#000" stroke-width="1.6"/>
<text x="383.6" y="506.3" font-size="13" font-weight="bold" text-anchor="end" >10</text>
<line x1="387.9" y1="476.67" x2="392.4" y2="476.67" stroke="#000" stroke-width="1.6"/>
<text x="383.6" y="480.57" font-size="13" font-weight="bold" text-anchor="end" >20</text>
<line x1="387.9" y1="450.95" x2="392.4" y2="450.95" stroke="#000" stroke-width="1.6"/>
<text x="383.6" y="454.85" font-size="13" font-weight="bold" text-anchor="end" >30</text>
<line x1="387.9" y1="425.22" x2="392.4" y2="425.22" stroke="#000" stroke-width="1.6"/>
<text x="383.6" y="429.12" font-size="13" font-weight="bold" text-anchor="end" >40</text>
<line x1="387.9" y1="399.5" x2="392.4" y2="399.5" stroke="#000" stroke-width="1.6"/>
<text x="383.6" y="403.4" font-size="13" font-weight="bold" text-anchor="end" >50</text>
<line x1="387.9" y1="373.77" x2="392.4" y2="373.77" stroke="#000" stroke-width="1.6"/>
<text x="383.6" y="377.67" font-size="13" font-weight="bold" text-anchor="end" >60</text>
<line x1="387.9" y1="348.05" x2="392.4" y2="348.05" stroke="#000" stroke-width="1.6"/>
<text x="383.6" y="351.95" font-size="13" font-weight="bold" text-anchor="end" >70</text>
<line x1="387.9" y1="322.32" x2="392.4" y2="322.32" stroke="#000" stroke-width="1.6"/>
<text x="383.6" y="326.22" font-size="13" font-weight="bold" text-anchor="end" >80</text>
<line x1="387.9" y1="296.6" x2="392.4" y2="296.6" stroke="#000" stroke-width="1.6"/>
<text x="383.6" y="300.5" font-size="13" font-weight="bold" text-anchor="end" >90</text>
<text x="176.3" y="553" font-size="13" font-weight="bold" text-anchor="middle">Carrier density (10<tspan dy="-5" font-size="9">14</tspan><tspan dy="5">)(cm</tspan><tspan dy="-5" font-size="9">-2</tspan><tspan dy="5">)</tspan></text>
<text x="537.8" y="553" font-size="13" font-weight="bold" text-anchor="middle">Carrier density (10<tspan dy="-5" font-size="9">14</tspan><tspan dy="5">)(cm</tspan><tspan dy="-5" font-size="9">-2</tspan><tspan dy="5">)</tspan></text>
<text x="0" y="0" font-size="13" font-weight="bold" text-anchor="middle" transform="translate(17.3,397.2) rotate(-90)">Decay time (ps)</text>
<text x="0" y="0" font-size="13" font-weight="bold" text-anchor="middle" transform="translate(360.8,401) rotate(-90)">Amplitude (%)</text>
<polygon points="68.8,498.3 79.8,498.3 74.3,507.3" fill="#ff2a1a"/>
<polygon points="126.7,491.5 137.7,491.5 132.2,500.5" fill="#ff2a1a"/>
<polygon points="184.6,478.5 195.6,478.5 190.1,487.5" fill="#ff2a1a"/>
<polygon points="242.4,479.3 253.4,479.3 247.9,488.3" fill="#ff2a1a"/>
<polygon points="300.2,475.3 311.2,475.3 305.7,484.3" fill="#ff2a1a"/>
<polygon points="68.8,457 79.8,457 74.3,448" fill="#35891f"/>
<polygon points="126.7,444.7 137.7,444.7 132.2,435.7" fill="#35891f"/>
<polygon points="184.6,421.8 195.6,421.8 190.1,412.8" fill="#35891f"/>
<polygon points="242.4,384.7 253.4,384.7 247.9,375.7" fill="#35891f"/>
<polygon points="300.2,334.7 311.2,334.7 305.7,325.7" fill="#35891f"/>
<circle cx="74.3" cy="360.6" r="4.65" fill="#000"/>
<circle cx="132.2" cy="355.1" r="4.65" fill="#000"/>
<circle cx="190.1" cy="336.7" r="4.65" fill="#000"/>
<circle cx="247.9" cy="346.1" r="4.65" fill="#000"/>
<circle cx="305.7" cy="320.8" r="4.65" fill="#000"/>
<rect x="70.2" y="485.7" width="8.2" height="8.2" fill="#1c0bc8"/>
<rect x="128.1" y="477.9" width="8.2" height="8.2" fill="#1c0bc8"/>
<rect x="186" y="477.1" width="8.2" height="8.2" fill="#1c0bc8"/>
<rect x="243.8" y="471.8" width="8.2" height="8.2" fill="#1c0bc8"/>
<rect x="301.6" y="467.4" width="8.2" height="8.2" fill="#1c0bc8"/>
<line x1="74.3" y1="437" x2="74.3" y2="470.1" stroke="#35891f" stroke-width="1.5"/>
<line x1="71.4" y1="437" x2="77.2" y2="437" stroke="#35891f" stroke-width="1.5"/>
<line x1="71.4" y1="470.1" x2="77.2" y2="470.1" stroke="#35891f" stroke-width="1.5"/>
<line x1="132.2" y1="424.5" x2="132.2" y2="458.3" stroke="#35891f" stroke-width="1.5"/>
<line x1="129.3" y1="424.5" x2="135.1" y2="424.5" stroke="#35891f" stroke-width="1.5"/>
<line x1="129.3" y1="458.3" x2="135.1" y2="458.3" stroke="#35891f" stroke-width="1.5"/>
<line x1="190.1" y1="389.8" x2="190.1" y2="446.7" stroke="#35891f" stroke-width="1.5"/>
<line x1="187.2" y1="389.8" x2="193" y2="389.8" stroke="#35891f" stroke-width="1.5"/>
<line x1="187.2" y1="446.7" x2="193" y2="446.7" stroke="#35891f" stroke-width="1.5"/>
<line x1="247.9" y1="356.3" x2="247.9" y2="405.6" stroke="#35891f" stroke-width="1.5"/>
<line x1="245" y1="356.3" x2="250.8" y2="356.3" stroke="#35891f" stroke-width="1.5"/>
<line x1="245" y1="405.6" x2="250.8" y2="405.6" stroke="#35891f" stroke-width="1.5"/>
<line x1="305.7" y1="312.6" x2="305.7" y2="349.4" stroke="#35891f" stroke-width="1.5"/>
<line x1="302.8" y1="312.6" x2="308.6" y2="312.6" stroke="#35891f" stroke-width="1.5"/>
<line x1="302.8" y1="349.4" x2="308.6" y2="349.4" stroke="#35891f" stroke-width="1.5"/>
<line x1="74.3" y1="340.3" x2="74.3" y2="381" stroke="#000" stroke-width="1.5"/>
<line x1="71.4" y1="340.3" x2="77.2" y2="340.3" stroke="#000" stroke-width="1.5"/>
<line x1="71.4" y1="381" x2="77.2" y2="381" stroke="#000" stroke-width="1.5"/>
<line x1="132.2" y1="342.8" x2="132.2" y2="367.6" stroke="#000" stroke-width="1.5"/>
<line x1="129.3" y1="342.8" x2="135.1" y2="342.8" stroke="#000" stroke-width="1.5"/>
<line x1="129.3" y1="367.6" x2="135.1" y2="367.6" stroke="#000" stroke-width="1.5"/>
<line x1="190.1" y1="324.2" x2="190.1" y2="349.4" stroke="#000" stroke-width="1.5"/>
<line x1="187.2" y1="324.2" x2="193" y2="324.2" stroke="#000" stroke-width="1.5"/>
<line x1="187.2" y1="349.4" x2="193" y2="349.4" stroke="#000" stroke-width="1.5"/>
<line x1="247.9" y1="332.1" x2="247.9" y2="359.5" stroke="#000" stroke-width="1.5"/>
<line x1="245" y1="332.1" x2="250.8" y2="332.1" stroke="#000" stroke-width="1.5"/>
<line x1="245" y1="359.5" x2="250.8" y2="359.5" stroke="#000" stroke-width="1.5"/>
<line x1="305.7" y1="301" x2="305.7" y2="340.3" stroke="#000" stroke-width="1.5"/>
<line x1="302.8" y1="301" x2="308.6" y2="301" stroke="#000" stroke-width="1.5"/>
<line x1="302.8" y1="340.3" x2="308.6" y2="340.3" stroke="#000" stroke-width="1.5"/>
<line x1="132.2" y1="490.2" x2="132.2" y2="501.5" stroke="#ff2a1a" stroke-width="1.3"/>
<line x1="129.7" y1="490.2" x2="134.7" y2="490.2" stroke="#ff2a1a" stroke-width="1.3"/>
<line x1="129.7" y1="501.5" x2="134.7" y2="501.5" stroke="#ff2a1a" stroke-width="1.3"/>
<line x1="190.1" y1="477.5" x2="190.1" y2="489.4" stroke="#ff2a1a" stroke-width="1.3"/>
<line x1="187.6" y1="477.5" x2="192.6" y2="477.5" stroke="#ff2a1a" stroke-width="1.3"/>
<line x1="187.6" y1="489.4" x2="192.6" y2="489.4" stroke="#ff2a1a" stroke-width="1.3"/>
<line x1="247.9" y1="479.5" x2="247.9" y2="487.5" stroke="#ff2a1a" stroke-width="1.3"/>
<line x1="245.4" y1="479.5" x2="250.4" y2="479.5" stroke="#ff2a1a" stroke-width="1.3"/>
<line x1="245.4" y1="487.5" x2="250.4" y2="487.5" stroke="#ff2a1a" stroke-width="1.3"/>
<line x1="305.7" y1="477" x2="305.7" y2="482.5" stroke="#ff2a1a" stroke-width="1.3"/>
<line x1="303.2" y1="477" x2="308.2" y2="477" stroke="#ff2a1a" stroke-width="1.3"/>
<line x1="303.2" y1="482.5" x2="308.2" y2="482.5" stroke="#ff2a1a" stroke-width="1.3"/>
<rect x="250.8" y="392.7" width="84" height="69.5" fill="#fff" stroke="#b0b0b0" stroke-width="0.9"/>
<rect x="260.8" y="397.3" width="8.2" height="8.2" fill="#1c0bc8"/>
<circle cx="264.9" cy="418.3" r="4.8" fill="#000"/>
<polygon points="259.4,431.35 270.4,431.35 264.9,440.85" fill="#ff2a1a"/>
<polygon points="259.4,456.15 270.4,456.15 264.9,446.65" fill="#35891f"/>
<text x="280.2" y="405" font-size="10.8" font-weight="bold"><tspan font-weight="normal" font-size="11.5">τ</tspan><tspan dy="2.8" font-size="8">1</tspan><tspan dy="-2.8">- 0.31 eV</tspan></text>
<text x="280.2" y="421.9" font-size="10.8" font-weight="bold"><tspan font-weight="normal" font-size="11.5">τ</tspan><tspan dy="2.8" font-size="8">2</tspan><tspan dy="-2.8">- 0.31 eV</tspan></text>
<text x="280.2" y="439.7" font-size="10.8" font-weight="bold"><tspan font-weight="normal" font-size="11.5">τ</tspan><tspan dy="2.8" font-size="8">1</tspan><tspan dy="-2.8">- 0.62 eV</tspan></text>
<text x="280.2" y="455" font-size="10.8" font-weight="bold"><tspan font-weight="normal" font-size="11.5">τ</tspan><tspan dy="2.8" font-size="8">2</tspan><tspan dy="-2.8">- 0.62 eV</tspan></text>
<polygon points="413.1,365.2 424.1,365.2 418.6,374.2" fill="#ff2a1a"/>
<polygon points="470.8,339.3 481.8,339.3 476.3,348.3" fill="#ff2a1a"/>
<polygon points="528.5,319.5 539.5,319.5 534,328.5" fill="#ff2a1a"/>
<polygon points="586.2,308.7 597.2,308.7 591.7,317.7" fill="#ff2a1a"/>
<polygon points="643.9,296.2 654.9,296.2 649.4,305.2" fill="#ff2a1a"/>
<rect x="414.5" y="349.2" width="8.2" height="8.2" fill="#1c0bc8"/>
<rect x="472.2" y="345.7" width="8.2" height="8.2" fill="#1c0bc8"/>
<rect x="529.9" y="333.7" width="8.2" height="8.2" fill="#1c0bc8"/>
<rect x="587.6" y="329.8" width="8.2" height="8.2" fill="#1c0bc8"/>
<rect x="645.3" y="314.7" width="8.2" height="8.2" fill="#1c0bc8"/>
<polygon points="413.1,433.6 424.1,433.6 418.6,424.6" fill="#35891f"/>
<polygon points="470.8,459.1 481.8,459.1 476.3,450.1" fill="#35891f"/>
<polygon points="528.5,479.3 539.5,479.3 534,470.3" fill="#35891f"/>
<polygon points="586.2,490.5 597.2,490.5 591.7,481.5" fill="#35891f"/>
<polygon points="643.9,502.2 654.9,502.2 649.4,493.2" fill="#35891f"/>
<circle cx="418.6" cy="445.5" r="4.65" fill="#000"/>
<circle cx="476.3" cy="449" r="4.65" fill="#000"/>
<circle cx="534" cy="460.6" r="4.65" fill="#000"/>
<circle cx="591.7" cy="465.3" r="4.65" fill="#000"/>
<circle cx="649.4" cy="480.4" r="4.65" fill="#000"/>
<rect x="588.4" y="346.5" width="86.9" height="78.6" fill="#fff" stroke="#b0b0b0" stroke-width="0.9"/>
<rect x="597.9" y="350.2" width="7.8" height="7.8" fill="#1c0bc8"/>
<circle cx="601.8" cy="369.9" r="4.6" fill="#000"/>
<polygon points="596.3,382.45 607.3,382.45 601.8,391.95" fill="#ff2a1a"/>
<polygon points="596.3,406.15 607.3,406.15 601.8,396.65" fill="#35891f"/>
<text x="617.6" y="357.4" font-size="10.8" font-weight="bold">A<tspan dy="2.8" font-size="7.8">1</tspan><tspan dy="-2.8">- 0.31 eV</tspan></text>
<text x="617.6" y="373.2" font-size="10.8" font-weight="bold">A<tspan dy="2.8" font-size="7.8">2</tspan><tspan dy="-2.8">- 0.31 eV</tspan></text>
<text x="617.6" y="390.5" font-size="10.8" font-weight="bold">A<tspan dy="2.8" font-size="7.8">1</tspan><tspan dy="-2.8">- 0.62 eV</tspan></text>
<text x="617.6" y="404.7" font-size="10.8" font-weight="bold">A<tspan dy="2.8" font-size="7.8">2</tspan><tspan dy="-2.8">- 0.62 eV</tspan></text>
</svg></body></html>
